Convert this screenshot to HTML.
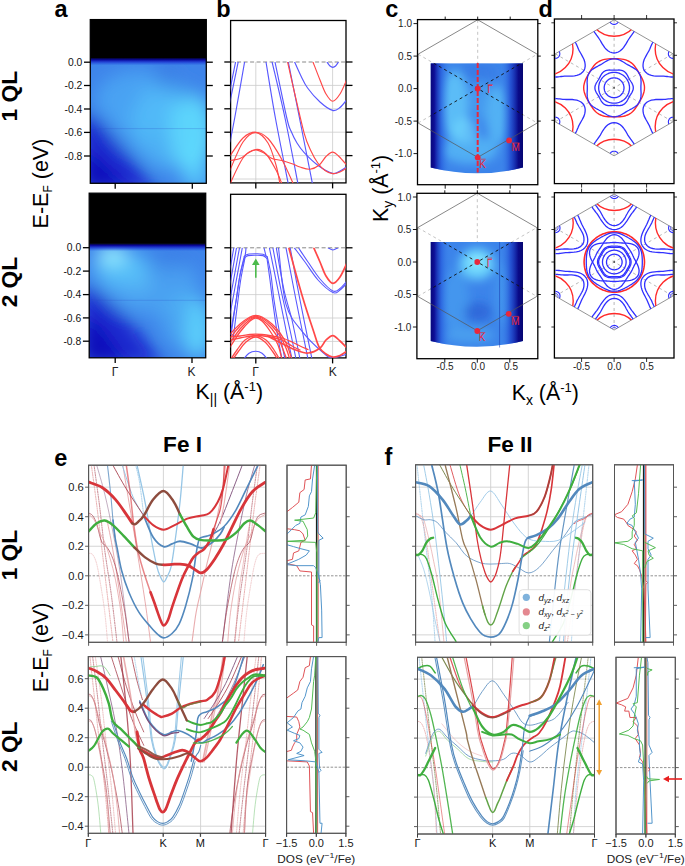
<!DOCTYPE html>
<html><head><meta charset="utf-8"><style>html,body{margin:0;padding:0;background:#fff;overflow:hidden}svg{display:block}text{font-family:"Liberation Sans",sans-serif}</style></head>
<body><svg width="685" height="866" viewBox="0 0 685 866" font-family='"Liberation Sans", sans-serif'><defs><filter id="blur8" x="-50%" y="-50%" width="200%" height="200%"><feGaussianBlur stdDeviation="9"/></filter><filter id="blur5" x="-50%" y="-50%" width="200%" height="200%"><feGaussianBlur stdDeviation="5"/></filter><clipPath id="clipa1"><rect x="90.3" y="19.6" width="116.00000000000001" height="163.70000000000002"/></clipPath><linearGradient id="ef1" x1="0" y1="0" x2="0" y2="1"><stop offset="0" stop-color="#000010"/><stop offset="0.3" stop-color="#0a0aa0"/><stop offset="0.6" stop-color="#1a30d0" stop-opacity="0.7"/><stop offset="1" stop-color="#2050e0" stop-opacity="0"/></linearGradient><clipPath id="clipa2"><rect x="89.2" y="193.2" width="116.49999999999999" height="164.60000000000002"/></clipPath><linearGradient id="ef2" x1="0" y1="0" x2="0" y2="1"><stop offset="0" stop-color="#000010"/><stop offset="0.3" stop-color="#0a0aa0"/><stop offset="0.6" stop-color="#1a30d0" stop-opacity="0.7"/><stop offset="1" stop-color="#2050e0" stop-opacity="0"/></linearGradient><clipPath id="clipb1"><rect x="230.6" y="62" width="115.4" height="120.9"/></clipPath><clipPath id="clipb2"><rect x="230.6" y="247.8" width="115.4" height="110.1"/></clipPath><clipPath id="clipc1"><path d="M430.5,63.199999999999996 L523,63.199999999999996 L523,167.6 Q476.75,179.1 430.5,167.6 Z"/></clipPath><linearGradient id="cg1" x1="0" y1="0" x2="1" y2="0"><stop offset="0" stop-color="#08087a"/><stop offset="0.04" stop-color="#0e0e96"/><stop offset="0.12" stop-color="#2050d8" stop-opacity="0.55"/><stop offset="0.22" stop-color="#3f8ef0" stop-opacity="0"/><stop offset="0.75" stop-color="#3f8ef0" stop-opacity="0"/><stop offset="0.86" stop-color="#1838c8" stop-opacity="0.6"/><stop offset="0.95" stop-color="#0a0a88"/><stop offset="1" stop-color="#060670"/></linearGradient><clipPath id="clipc2"><path d="M430.5,242 L523,242 L523,341 Q476.75,352.5 430.5,341 Z"/></clipPath><linearGradient id="cg2" x1="0" y1="0" x2="1" y2="0"><stop offset="0" stop-color="#08087a"/><stop offset="0.04" stop-color="#0e0e96"/><stop offset="0.12" stop-color="#2050d8" stop-opacity="0.55"/><stop offset="0.22" stop-color="#3f8ef0" stop-opacity="0"/><stop offset="0.75" stop-color="#3f8ef0" stop-opacity="0"/><stop offset="0.86" stop-color="#1838c8" stop-opacity="0.6"/><stop offset="0.95" stop-color="#0a0a88"/><stop offset="1" stop-color="#060670"/></linearGradient><clipPath id="cliphex1"><polygon points="614.10,19.80 555.21,53.80 555.21,121.80 614.10,155.80 672.99,121.80 672.99,53.80"/></clipPath><clipPath id="cliphex2"><polygon points="614.30,194.00 555.41,228.00 555.41,296.00 614.30,330.00 673.19,296.00 673.19,228.00"/></clipPath><clipPath id="clipband14"><rect x="88.6" y="465.2" width="177.20000000000002" height="177.09999999999997"/></clipPath><clipPath id="clipband15"><rect x="88.3" y="656.6" width="177.3" height="176.69999999999993"/></clipPath><clipPath id="clipband16"><rect x="415.6" y="464.8" width="177.10000000000002" height="177.40000000000003"/></clipPath><clipPath id="clipband17"><rect x="417.5" y="657.3" width="177.0" height="176.70000000000005"/></clipPath><clipPath id="clipdos18"><rect x="287" y="465.2" width="59.19999999999999" height="177.09999999999997"/></clipPath><clipPath id="clipdos19"><rect x="286.6" y="656.6" width="59.299999999999955" height="176.69999999999993"/></clipPath><clipPath id="clipdos20"><rect x="614.5" y="464.8" width="59.0" height="177.40000000000003"/></clipPath><clipPath id="clipdos21"><rect x="616" y="657.3" width="59.299999999999955" height="176.70000000000005"/></clipPath></defs><rect width="685" height="866" fill="#fff"/><g clip-path="url(#clipa1)"><rect x="90.30" y="19.60" width="116.00" height="163.70" fill="#3e84ea" stroke="none" stroke-width="1" /><g filter="url(#blur8)"><ellipse cx="140" cy="100" rx="45" ry="30" fill="#4eacf5" fill-opacity="0.75"/><ellipse cx="135" cy="132" rx="28" ry="18" fill="#4cacf4" fill-opacity="0.5"/><ellipse cx="190" cy="132" rx="22" ry="40" fill="#66eaff" fill-opacity="0.95"/><ellipse cx="168" cy="125" rx="36" ry="45" fill="#55c8fa" fill-opacity="0.6"/><ellipse cx="196" cy="176" rx="14" ry="16" fill="#5cd8ff" fill-opacity="0.7"/><polygon points="80,112 100,120 125,150 160,192 80,192" fill="#1a1ccc" fill-opacity="0.9"/><polygon points="80,150 100,160 130,192 80,192" fill="#0e0ab8" fill-opacity="0.9"/><ellipse cx="166" cy="78" rx="12" ry="14" fill="#3068dc" fill-opacity="0.45"/><ellipse cx="185" cy="92" rx="10" ry="10" fill="#3472e0" fill-opacity="0.4"/></g><rect x="90.30" y="57.50" width="116.00" height="8.00" fill="url(#ef1)" stroke="none" stroke-width="1" /><rect x="90.30" y="19.60" width="116.00" height="38.40" fill="#000" stroke="none" stroke-width="1" /><line x1="90.30" y1="128.60" x2="206.30" y2="128.60" stroke="#2a50c8" stroke-width="0.7" stroke-opacity="0.35"/></g><rect x="90.30" y="19.60" width="116.00" height="163.70" fill="none" stroke="#000" stroke-width="1.3" /><g clip-path="url(#clipa2)"><rect x="89.20" y="193.20" width="116.50" height="164.60" fill="#3e84ea" stroke="none" stroke-width="1" /><g filter="url(#blur8)"><ellipse cx="150" cy="285" rx="50" ry="30" fill="#4eacf5" fill-opacity="0.65"/><ellipse cx="120" cy="268" rx="28" ry="18" fill="#5ccafb" fill-opacity="0.75"/><ellipse cx="112" cy="255" rx="15" ry="9" fill="#a0f8ff" fill-opacity="0.95"/><ellipse cx="140" cy="285" rx="14" ry="10" fill="#5cc4fa" fill-opacity="0.5"/><polygon points="80,285 100,292 130,320 165,366 80,366" fill="#1a1ccc" fill-opacity="0.9"/><polygon points="80,318 100,326 128,366 80,366" fill="#0e0ab8" fill-opacity="0.9"/><ellipse cx="197" cy="328" rx="14" ry="30" fill="#64e2ff" fill-opacity="0.9"/><ellipse cx="182" cy="320" rx="22" ry="28" fill="#52bdf8" fill-opacity="0.5"/><ellipse cx="168" cy="260" rx="22" ry="10" fill="#3572e2" fill-opacity="0.5"/></g><rect x="89.20" y="243.20" width="116.50" height="8.00" fill="url(#ef2)" stroke="none" stroke-width="1" /><rect x="89.20" y="193.20" width="116.50" height="50.50" fill="#000" stroke="none" stroke-width="1" /><line x1="89.20" y1="300.30" x2="205.70" y2="300.30" stroke="#2a50c8" stroke-width="0.7" stroke-opacity="0.35"/></g><rect x="89.20" y="193.20" width="116.50" height="164.60" fill="none" stroke="#000" stroke-width="1.3" /><line x1="84.00" y1="62.20" x2="90.30" y2="62.20" stroke="#000" stroke-width="1.3"/><line x1="206.30" y1="62.20" x2="212.80" y2="62.20" stroke="#000" stroke-width="1.3"/><text x="82.3" y="65.9" font-size="10.3" font-weight="normal" text-anchor="end" fill="#111" >0.0</text><line x1="84.00" y1="85.50" x2="90.30" y2="85.50" stroke="#000" stroke-width="1.3"/><line x1="206.30" y1="85.50" x2="212.80" y2="85.50" stroke="#000" stroke-width="1.3"/><text x="82.3" y="89.2" font-size="10.3" font-weight="normal" text-anchor="end" fill="#111" >-0.2</text><line x1="84.00" y1="109.00" x2="90.30" y2="109.00" stroke="#000" stroke-width="1.3"/><line x1="206.30" y1="109.00" x2="212.80" y2="109.00" stroke="#000" stroke-width="1.3"/><text x="82.3" y="112.7" font-size="10.3" font-weight="normal" text-anchor="end" fill="#111" >-0.4</text><line x1="84.00" y1="132.40" x2="90.30" y2="132.40" stroke="#000" stroke-width="1.3"/><line x1="206.30" y1="132.40" x2="212.80" y2="132.40" stroke="#000" stroke-width="1.3"/><text x="82.3" y="136.1" font-size="10.3" font-weight="normal" text-anchor="end" fill="#111" >-0.6</text><line x1="84.00" y1="156.00" x2="90.30" y2="156.00" stroke="#000" stroke-width="1.3"/><line x1="206.30" y1="156.00" x2="212.80" y2="156.00" stroke="#000" stroke-width="1.3"/><text x="82.3" y="159.7" font-size="10.3" font-weight="normal" text-anchor="end" fill="#111" >-0.8</text><line x1="82.90" y1="247.70" x2="89.20" y2="247.70" stroke="#000" stroke-width="1.3"/><line x1="205.70" y1="247.70" x2="212.20" y2="247.70" stroke="#000" stroke-width="1.3"/><text x="81.2" y="251.39999999999998" font-size="10.3" font-weight="normal" text-anchor="end" fill="#111" >0.0</text><line x1="82.90" y1="271.10" x2="89.20" y2="271.10" stroke="#000" stroke-width="1.3"/><line x1="205.70" y1="271.10" x2="212.20" y2="271.10" stroke="#000" stroke-width="1.3"/><text x="81.2" y="274.8" font-size="10.3" font-weight="normal" text-anchor="end" fill="#111" >-0.2</text><line x1="82.90" y1="294.60" x2="89.20" y2="294.60" stroke="#000" stroke-width="1.3"/><line x1="205.70" y1="294.60" x2="212.20" y2="294.60" stroke="#000" stroke-width="1.3"/><text x="81.2" y="298.3" font-size="10.3" font-weight="normal" text-anchor="end" fill="#111" >-0.4</text><line x1="82.90" y1="317.90" x2="89.20" y2="317.90" stroke="#000" stroke-width="1.3"/><line x1="205.70" y1="317.90" x2="212.20" y2="317.90" stroke="#000" stroke-width="1.3"/><text x="81.2" y="321.59999999999997" font-size="10.3" font-weight="normal" text-anchor="end" fill="#111" >-0.6</text><line x1="82.90" y1="341.20" x2="89.20" y2="341.20" stroke="#000" stroke-width="1.3"/><line x1="205.70" y1="341.20" x2="212.20" y2="341.20" stroke="#000" stroke-width="1.3"/><text x="81.2" y="344.9" font-size="10.3" font-weight="normal" text-anchor="end" fill="#111" >-0.8</text><line x1="115.20" y1="183.30" x2="115.20" y2="188.80" stroke="#000" stroke-width="1.3"/><line x1="192.30" y1="183.30" x2="192.30" y2="188.80" stroke="#000" stroke-width="1.3"/><line x1="115.20" y1="357.80" x2="115.20" y2="363.00" stroke="#000" stroke-width="1.3"/><line x1="192.00" y1="357.80" x2="192.00" y2="363.00" stroke="#000" stroke-width="1.3"/><text x="115" y="376" font-size="12" font-weight="normal" text-anchor="middle" fill="#222" >Γ</text><text x="191.5" y="376" font-size="12" font-weight="normal" text-anchor="middle" fill="#222" >K</text><rect x="230.60" y="20.50" width="115.40" height="162.40" fill="#fff" stroke="none" stroke-width="1" /><line x1="230.60" y1="85.40" x2="346.00" y2="85.40" stroke="#ccc" stroke-width="0.8"/><line x1="230.60" y1="108.80" x2="346.00" y2="108.80" stroke="#ccc" stroke-width="0.8"/><line x1="230.60" y1="132.20" x2="346.00" y2="132.20" stroke="#ccc" stroke-width="0.8"/><line x1="230.60" y1="155.60" x2="346.00" y2="155.60" stroke="#ccc" stroke-width="0.8"/><line x1="230.60" y1="179.00" x2="346.00" y2="179.00" stroke="#ccc" stroke-width="0.8"/><line x1="255.80" y1="62.00" x2="255.80" y2="182.90" stroke="#ccc" stroke-width="0.8"/><line x1="332.60" y1="62.00" x2="332.60" y2="182.90" stroke="#ccc" stroke-width="0.8"/><line x1="230.60" y1="62.00" x2="346.00" y2="62.00" stroke="#888" stroke-width="1" stroke-dasharray="4,2.5"/><line x1="224.30" y1="62.00" x2="230.60" y2="62.00" stroke="#000" stroke-width="1.3"/><line x1="346.00" y1="62.00" x2="352.50" y2="62.00" stroke="#000" stroke-width="1.3"/><line x1="224.30" y1="85.40" x2="230.60" y2="85.40" stroke="#000" stroke-width="1.3"/><line x1="346.00" y1="85.40" x2="352.50" y2="85.40" stroke="#000" stroke-width="1.3"/><line x1="224.30" y1="108.80" x2="230.60" y2="108.80" stroke="#000" stroke-width="1.3"/><line x1="346.00" y1="108.80" x2="352.50" y2="108.80" stroke="#000" stroke-width="1.3"/><line x1="224.30" y1="132.20" x2="230.60" y2="132.20" stroke="#000" stroke-width="1.3"/><line x1="346.00" y1="132.20" x2="352.50" y2="132.20" stroke="#000" stroke-width="1.3"/><line x1="224.30" y1="155.60" x2="230.60" y2="155.60" stroke="#000" stroke-width="1.3"/><line x1="346.00" y1="155.60" x2="352.50" y2="155.60" stroke="#000" stroke-width="1.3"/><line x1="255.80" y1="182.90" x2="255.80" y2="188.40" stroke="#000" stroke-width="1.3"/><line x1="332.60" y1="182.90" x2="332.60" y2="188.40" stroke="#000" stroke-width="1.3"/><rect x="230.60" y="20.50" width="115.40" height="162.40" fill="none" stroke="#000" stroke-width="1.3" /><rect x="230.60" y="194.30" width="115.40" height="163.60" fill="#fff" stroke="none" stroke-width="1" /><line x1="230.60" y1="271.20" x2="346.00" y2="271.20" stroke="#ccc" stroke-width="0.8"/><line x1="230.60" y1="294.60" x2="346.00" y2="294.60" stroke="#ccc" stroke-width="0.8"/><line x1="230.60" y1="318.00" x2="346.00" y2="318.00" stroke="#ccc" stroke-width="0.8"/><line x1="230.60" y1="341.40" x2="346.00" y2="341.40" stroke="#ccc" stroke-width="0.8"/><line x1="255.80" y1="247.80" x2="255.80" y2="357.90" stroke="#ccc" stroke-width="0.8"/><line x1="332.60" y1="247.80" x2="332.60" y2="357.90" stroke="#ccc" stroke-width="0.8"/><line x1="230.60" y1="247.80" x2="346.00" y2="247.80" stroke="#888" stroke-width="1" stroke-dasharray="4,2.5"/><line x1="224.30" y1="247.80" x2="230.60" y2="247.80" stroke="#000" stroke-width="1.3"/><line x1="346.00" y1="247.80" x2="352.50" y2="247.80" stroke="#000" stroke-width="1.3"/><line x1="224.30" y1="271.20" x2="230.60" y2="271.20" stroke="#000" stroke-width="1.3"/><line x1="346.00" y1="271.20" x2="352.50" y2="271.20" stroke="#000" stroke-width="1.3"/><line x1="224.30" y1="294.60" x2="230.60" y2="294.60" stroke="#000" stroke-width="1.3"/><line x1="346.00" y1="294.60" x2="352.50" y2="294.60" stroke="#000" stroke-width="1.3"/><line x1="224.30" y1="318.00" x2="230.60" y2="318.00" stroke="#000" stroke-width="1.3"/><line x1="346.00" y1="318.00" x2="352.50" y2="318.00" stroke="#000" stroke-width="1.3"/><line x1="224.30" y1="341.40" x2="230.60" y2="341.40" stroke="#000" stroke-width="1.3"/><line x1="346.00" y1="341.40" x2="352.50" y2="341.40" stroke="#000" stroke-width="1.3"/><line x1="255.80" y1="357.90" x2="255.80" y2="363.40" stroke="#000" stroke-width="1.3"/><line x1="332.60" y1="357.90" x2="332.60" y2="363.40" stroke="#000" stroke-width="1.3"/><rect x="230.60" y="194.30" width="115.40" height="163.60" fill="none" stroke="#000" stroke-width="1.3" /><g clip-path="url(#clipb1)"><path d="M229.00,94.50 L235.60,62.00" fill="none" stroke="#5858ff" stroke-width="1.15" stroke-linecap="round" /><path d="M229.00,106.50 L238.20,62.00" fill="none" stroke="#5858ff" stroke-width="1.15" stroke-linecap="round" /><path d="M230.00,142.00 C230.78,138.00 232.27,131.33 234.70,118.00 C237.13,104.67 242.95,71.33 244.60,62.00" fill="none" stroke="#5858ff" stroke-width="1.15" stroke-linecap="round" /><path d="M266.00,62.00 C267.57,71.33 271.68,97.67 275.40,118.00 C279.12,138.33 286.15,173.00 288.30,184.00" fill="none" stroke="#5858ff" stroke-width="1.15" stroke-linecap="round" /><path d="M272.10,62.00 C274.25,71.33 280.68,97.67 285.00,118.00 C289.32,138.33 295.83,173.00 298.00,184.00" fill="none" stroke="#5858ff" stroke-width="1.15" stroke-linecap="round" /><path d="M275.00,62.00 C276.97,71.33 284.13,106.50 286.80,118.00 C289.47,129.50 289.30,126.83 291.00,131.00 C292.70,135.17 294.80,139.40 297.00,143.00 C299.20,146.60 300.73,148.90 304.20,152.60 C307.67,156.30 313.07,161.73 317.80,165.20 C322.53,168.67 328.90,172.43 332.60,173.40 C336.30,174.37 337.60,172.15 340.00,171.00 C342.40,169.85 345.83,167.25 347.00,166.50" fill="none" stroke="#5858ff" stroke-width="1.15" stroke-linecap="round" /><path d="M288.30,62.00 C289.62,68.57 292.17,81.07 296.20,101.40 C300.23,121.73 309.78,170.23 312.50,184.00" fill="none" stroke="#5858ff" stroke-width="1.15" stroke-linecap="round" /><path d="M294.60,62.00 C295.58,64.17 298.33,70.67 300.50,75.00 C302.67,79.33 304.35,83.50 307.60,88.00 C310.85,92.50 315.83,98.27 320.00,102.00 C324.17,105.73 329.27,109.48 332.60,110.40 C335.93,111.32 337.60,109.32 340.00,107.50 C342.40,105.68 345.83,100.83 347.00,99.50" fill="none" stroke="#5858ff" stroke-width="1.15" stroke-linecap="round" /><path d="M327.00,62.00 C327.50,62.67 329.03,65.12 330.00,66.00 C330.97,66.88 331.87,67.30 332.80,67.30 C333.73,67.30 334.67,66.88 335.60,66.00 C336.53,65.12 337.93,62.67 338.40,62.00" fill="none" stroke="#5858ff" stroke-width="1.15" stroke-linecap="round" /><path d="M287.60,62.00 C288.65,66.67 291.13,78.12 293.90,90.00 C296.67,101.88 301.35,123.13 304.20,133.30 C307.05,143.47 308.73,146.05 311.00,151.00 C313.27,155.95 315.47,159.75 317.80,163.00 C320.13,166.25 322.53,168.73 325.00,170.50 C327.47,172.27 330.10,173.35 332.60,173.60 C335.10,173.85 337.60,173.02 340.00,172.00 C342.40,170.98 345.83,168.25 347.00,167.50" fill="none" stroke="#ff4848" stroke-width="1.15" stroke-linecap="round" /><path d="M313.00,62.00 C314.17,65.00 317.83,74.67 320.00,80.00 C322.17,85.33 323.90,90.47 326.00,94.00 C328.10,97.53 330.27,101.20 332.60,101.20 C334.93,101.20 337.60,97.70 340.00,94.00 C342.40,90.30 345.83,81.50 347.00,79.00" fill="none" stroke="#ff4848" stroke-width="1.15" stroke-linecap="round" /><path d="M229.00,157.50 C231.33,154.25 238.53,142.22 243.00,138.00 C247.47,133.78 251.63,132.12 255.80,132.20 C259.97,132.28 263.63,133.92 268.00,138.50 C272.37,143.08 277.77,152.12 282.00,159.70 C286.23,167.28 291.50,179.95 293.40,184.00" fill="none" stroke="#ff4848" stroke-width="1.15" stroke-linecap="round" /><path d="M229.00,172.50 C231.33,167.42 238.53,148.65 243.00,142.00 C247.47,135.35 251.63,132.43 255.80,132.60 C259.97,132.77 264.63,137.60 268.00,143.00 C271.37,148.40 274.00,158.17 276.00,165.00 C278.00,171.83 279.33,180.83 280.00,184.00" fill="none" stroke="#ff4848" stroke-width="1.15" stroke-linecap="round" /><path d="M229.00,186.00 C231.33,181.33 238.53,164.08 243.00,158.00 C247.47,151.92 251.97,150.17 255.80,149.50 C259.63,148.83 262.63,150.58 266.00,154.00 C269.37,157.42 273.33,165.00 276.00,170.00 C278.67,175.00 281.00,181.67 282.00,184.00" fill="none" stroke="#ff4848" stroke-width="1.15" stroke-linecap="round" /><path d="M229.00,160.70 C230.83,160.33 236.83,159.78 240.00,158.50 C243.17,157.22 245.37,154.45 248.00,153.00 C250.63,151.55 253.13,149.80 255.80,149.80 C258.47,149.80 261.30,151.55 264.00,153.00 C266.70,154.45 269.00,157.25 272.00,158.50 C275.00,159.75 278.53,159.58 282.00,160.50 C285.47,161.42 289.80,162.92 292.80,164.00 C295.80,165.08 297.15,166.13 300.00,167.00 C302.85,167.87 306.73,169.50 309.90,169.20 C313.07,168.90 316.32,167.32 319.00,165.20 C321.68,163.08 323.73,158.68 326.00,156.50 C328.27,154.32 330.43,152.10 332.60,152.10 C334.77,152.10 336.60,154.27 339.00,156.50 C341.40,158.73 345.67,164.00 347.00,165.50" fill="none" stroke="#ff4848" stroke-width="1.15" stroke-linecap="round" /></g><g clip-path="url(#clipb2)"><path d="M233.80,247.80 L229.00,275.00" fill="none" stroke="#5858ff" stroke-width="1.1" stroke-linecap="round" /><path d="M236.50,247.80 L229.00,290.00" fill="none" stroke="#5858ff" stroke-width="1.1" stroke-linecap="round" /><path d="M239.50,247.80 L229.00,305.00" fill="none" stroke="#5858ff" stroke-width="1.1" stroke-linecap="round" /><path d="M242.30,247.80 L229.00,320.00" fill="none" stroke="#5858ff" stroke-width="1.1" stroke-linecap="round" /><path d="M246.00,247.80 C245.83,249.17 246.00,251.47 245.00,256.00 C244.00,260.53 241.47,267.67 240.00,275.00 C238.53,282.33 237.70,290.83 236.20,300.00 C234.70,309.17 231.87,325.00 231.00,330.00" fill="none" stroke="#5858ff" stroke-width="1.1" stroke-linecap="round" /><path d="M244.30,256.30 C244.92,255.95 246.08,254.62 248.00,254.20 C249.92,253.78 253.30,253.80 255.80,253.80 C258.30,253.80 261.08,253.68 263.00,254.20 C264.92,254.72 266.58,256.45 267.30,256.90" fill="none" stroke="#5858ff" stroke-width="1.1" stroke-linecap="round" /><path d="M244.60,258.00 C245.17,257.60 246.13,256.07 248.00,255.60 C249.87,255.13 253.30,255.20 255.80,255.20 C258.30,255.20 261.13,255.05 263.00,255.60 C264.87,256.15 266.33,258.02 267.00,258.50" fill="none" stroke="#5858ff" stroke-width="1.1" stroke-linecap="round" /><path d="M244.30,256.30 C243.58,259.42 241.35,267.72 240.00,275.00 C238.65,282.28 237.70,290.00 236.20,300.00 C234.70,310.00 231.87,329.17 231.00,335.00" fill="none" stroke="#5858ff" stroke-width="1.1" stroke-linecap="round" /><path d="M245.00,258.00 C244.33,261.33 242.17,271.00 241.00,278.00 C239.83,285.00 239.33,289.67 238.00,300.00 C236.67,310.33 233.83,333.33 233.00,340.00" fill="none" stroke="#5858ff" stroke-width="1.1" stroke-linecap="round" /><path d="M267.30,256.90 C267.92,259.92 269.88,267.82 271.00,275.00 C272.12,282.18 272.50,290.00 274.00,300.00 C275.50,310.00 278.17,325.17 280.00,335.00 C281.83,344.83 284.17,355.00 285.00,359.00" fill="none" stroke="#5858ff" stroke-width="1.1" stroke-linecap="round" /><path d="M267.00,258.50 C267.50,262.08 269.08,273.08 270.00,280.00 C270.92,286.92 271.25,290.83 272.50,300.00 C273.75,309.17 275.92,325.17 277.50,335.00 C279.08,344.83 281.25,355.00 282.00,359.00" fill="none" stroke="#5858ff" stroke-width="1.1" stroke-linecap="round" /><path d="M264.00,247.80 L266.00,256.00" fill="none" stroke="#5858ff" stroke-width="1.1" stroke-linecap="round" /><path d="M269.40,247.80 C270.83,254.83 275.23,276.30 278.00,290.00 C280.77,303.70 283.67,318.50 286.00,330.00 C288.33,341.50 291.00,354.17 292.00,359.00" fill="none" stroke="#5858ff" stroke-width="1.1" stroke-linecap="round" /><path d="M272.90,247.80 C274.25,254.83 278.15,276.30 281.00,290.00 C283.85,303.70 287.50,318.50 290.00,330.00 C292.50,341.50 295.00,354.17 296.00,359.00" fill="none" stroke="#5858ff" stroke-width="1.1" stroke-linecap="round" /><path d="M276.30,247.80 C277.58,254.83 281.38,277.97 284.00,290.00 C286.62,302.03 289.33,308.50 292.00,320.00 C294.67,331.50 298.67,352.50 300.00,359.00" fill="none" stroke="#5858ff" stroke-width="1.1" stroke-linecap="round" /><path d="M278.50,247.80 C279.75,257.23 281.97,290.35 286.00,304.40 C290.03,318.45 296.45,324.00 302.70,332.10 C308.95,340.20 318.47,348.72 323.50,353.00 C328.53,357.28 328.98,357.63 332.90,357.80 C336.82,357.97 344.65,354.63 347.00,354.00" fill="none" stroke="#5858ff" stroke-width="1.1" stroke-linecap="round" /><path d="M286.00,247.80 C287.67,256.50 292.33,281.47 296.00,300.00 C299.67,318.53 306.00,349.17 308.00,359.00" fill="none" stroke="#5858ff" stroke-width="1.1" stroke-linecap="round" /><path d="M290.20,247.80 C291.83,256.50 296.37,281.47 300.00,300.00 C303.63,318.53 310.00,349.17 312.00,359.00" fill="none" stroke="#5858ff" stroke-width="1.1" stroke-linecap="round" /><path d="M294.30,247.80 C296.08,250.17 301.05,256.63 305.00,262.00 C308.95,267.37 313.35,274.90 318.00,280.00 C322.65,285.10 329.23,290.93 332.90,292.60 C336.57,294.27 337.65,291.60 340.00,290.00 C342.35,288.40 345.83,284.17 347.00,283.00" fill="none" stroke="#5858ff" stroke-width="1.1" stroke-linecap="round" /><path d="M298.50,247.80 C300.08,250.17 304.42,256.80 308.00,262.00 C311.58,267.20 315.85,274.17 320.00,279.00 C324.15,283.83 329.57,289.42 332.90,291.00 C336.23,292.58 337.65,290.17 340.00,288.50 C342.35,286.83 345.83,282.25 347.00,281.00" fill="none" stroke="#5858ff" stroke-width="1.1" stroke-linecap="round" /><path d="M328.00,247.80 C328.82,248.17 331.23,250.00 332.90,250.00 C334.57,250.00 337.15,248.17 338.00,247.80" fill="none" stroke="#5858ff" stroke-width="1.1" stroke-linecap="round" /><path d="M288.80,247.80 C291.12,256.08 298.53,283.47 302.70,297.50 C306.87,311.53 311.03,323.68 313.80,332.00 C316.57,340.32 317.27,343.73 319.30,347.40 C321.33,351.07 323.73,352.40 326.00,354.00 C328.27,355.60 330.57,356.75 332.90,357.00 C335.23,357.25 337.65,356.50 340.00,355.50 C342.35,354.50 345.83,351.75 347.00,351.00" fill="none" stroke="#ff4848" stroke-width="1.7" stroke-linecap="round" /><path d="M313.80,247.80 C314.83,250.17 317.97,257.30 320.00,262.00 C322.03,266.70 323.85,272.45 326.00,276.00 C328.15,279.55 330.57,283.13 332.90,283.30 C335.23,283.47 337.65,280.38 340.00,277.00 C342.35,273.62 345.83,265.33 347.00,263.00" fill="none" stroke="#ff4848" stroke-width="1.7" stroke-linecap="round" /><path d="M268.00,336.30 C270.83,337.75 280.38,342.72 285.00,345.00 C289.62,347.28 291.83,348.67 295.70,350.00 C299.57,351.33 304.15,353.33 308.20,353.00 C312.25,352.67 317.03,350.17 320.00,348.00 C322.97,345.83 323.85,342.07 326.00,340.00 C328.15,337.93 330.57,335.43 332.90,335.60 C335.23,335.77 337.65,338.93 340.00,341.00 C342.35,343.07 345.83,346.83 347.00,348.00" fill="none" stroke="#ff4848" stroke-width="1.7" stroke-linecap="round" /><path d="M229.00,335.20 C230.83,333.33 236.50,327.03 240.00,324.00 C243.50,320.97 247.38,318.42 250.00,317.00 C252.62,315.58 253.70,315.50 255.70,315.50 C257.70,315.50 259.28,315.58 262.00,317.00 C264.72,318.42 269.00,321.33 272.00,324.00 C275.00,326.67 277.50,329.50 280.00,333.00 C282.50,336.50 285.00,340.50 287.00,345.00 C289.00,349.50 291.17,357.50 292.00,360.00" fill="none" stroke="#ff4848" stroke-width="1.3" stroke-linecap="round" /><path d="M229.00,339.40 C230.83,337.17 236.50,329.57 240.00,326.00 C243.50,322.43 247.38,319.62 250.00,318.00 C252.62,316.38 253.70,316.30 255.70,316.30 C257.70,316.30 259.28,316.38 262.00,318.00 C264.72,319.62 269.00,323.00 272.00,326.00 C275.00,329.00 277.67,332.33 280.00,336.00 C282.33,339.67 284.33,344.00 286.00,348.00 C287.67,352.00 289.33,358.00 290.00,360.00" fill="none" stroke="#ff4848" stroke-width="1.3" stroke-linecap="round" /><path d="M229.00,344.60 C230.83,342.00 236.50,333.18 240.00,329.00 C243.50,324.82 247.38,321.47 250.00,319.50 C252.62,317.53 253.70,317.20 255.70,317.20 C257.70,317.20 259.28,317.53 262.00,319.50 C264.72,321.47 269.17,325.58 272.00,329.00 C274.83,332.42 277.00,336.17 279.00,340.00 C281.00,343.83 282.67,348.67 284.00,352.00 C285.33,355.33 286.50,358.67 287.00,360.00" fill="none" stroke="#ff4848" stroke-width="1.3" stroke-linecap="round" /><path d="M229.00,348.70 C230.83,345.92 236.50,336.62 240.00,332.00 C243.50,327.38 247.38,323.33 250.00,321.00 C252.62,318.67 253.70,318.00 255.70,318.00 C257.70,318.00 259.62,318.83 262.00,321.00 C264.38,323.17 267.33,327.00 270.00,331.00 C272.67,335.00 276.00,340.17 278.00,345.00 C280.00,349.83 281.33,357.50 282.00,360.00" fill="none" stroke="#ff4848" stroke-width="1.3" stroke-linecap="round" /><path d="M229.00,337.00 C230.83,336.83 236.50,336.42 240.00,336.00 C243.50,335.58 247.38,334.80 250.00,334.50 C252.62,334.20 253.70,334.20 255.70,334.20 C257.70,334.20 259.28,334.20 262.00,334.50 C264.72,334.80 268.67,335.42 272.00,336.00 C275.33,336.58 278.67,337.00 282.00,338.00 C285.33,339.00 289.00,340.67 292.00,342.00 C295.00,343.33 297.33,344.75 300.00,346.00 C302.67,347.25 306.67,348.92 308.00,349.50" fill="none" stroke="#ff4848" stroke-width="1.3" stroke-linecap="round" /><path d="M229.00,340.00 C230.83,339.67 235.55,338.75 240.00,338.00 C244.45,337.25 250.70,335.67 255.70,335.50 C260.70,335.33 265.62,336.25 270.00,337.00 C274.38,337.75 278.33,338.50 282.00,340.00 C285.67,341.50 289.00,344.33 292.00,346.00 C295.00,347.67 298.67,349.33 300.00,350.00" fill="none" stroke="#ff4848" stroke-width="1.3" stroke-linecap="round" /><path d="M229.00,362.00 C230.33,360.00 234.33,353.67 237.00,350.00 C239.67,346.33 241.88,342.37 245.00,340.00 C248.12,337.63 252.20,335.80 255.70,335.80 C259.20,335.80 262.95,337.63 266.00,340.00 C269.05,342.37 271.67,346.67 274.00,350.00 C276.33,353.33 279.00,358.33 280.00,360.00" fill="none" stroke="#ff4848" stroke-width="1.3" stroke-linecap="round" /><path d="M229.00,365.00 C230.50,362.83 235.17,355.83 238.00,352.00 C240.83,348.17 243.05,344.50 246.00,342.00 C248.95,339.50 252.53,337.00 255.70,337.00 C258.87,337.00 262.12,339.50 265.00,342.00 C267.88,344.50 270.83,349.00 273.00,352.00 C275.17,355.00 277.17,358.67 278.00,360.00" fill="none" stroke="#ff4848" stroke-width="1.3" stroke-linecap="round" /><path d="M243.00,360.00 C244.00,358.87 246.88,354.65 249.00,353.20 C251.12,351.75 253.53,351.30 255.70,351.30 C257.87,351.30 259.95,351.75 262.00,353.20 C264.05,354.65 267.00,358.87 268.00,360.00" fill="none" stroke="#5858ff" stroke-width="1.1" stroke-linecap="round" /></g><line x1="255.80" y1="277.80" x2="255.80" y2="264.00" stroke="#4cbb4c" stroke-width="1.6"/><path d="M252,265 L255.8,258.6 L259.6,265 Z" fill="#4cbb4c"/><text x="255.6" y="376" font-size="12" font-weight="normal" text-anchor="middle" fill="#222" >Γ</text><text x="332.7" y="376" font-size="12" font-weight="normal" text-anchor="middle" fill="#222" >K</text><rect x="417.50" y="19.60" width="120.30" height="165.10" fill="#fff" stroke="none" stroke-width="1" /><line x1="477.70" y1="19.80" x2="477.70" y2="63.20" stroke="#aaa" stroke-width="0.7" stroke-dasharray="3,3"/><line x1="418.12" y1="54.20" x2="537.28" y2="123.00" stroke="#aaa" stroke-width="0.7" stroke-dasharray="3,3"/><line x1="418.12" y1="123.00" x2="537.28" y2="54.20" stroke="#aaa" stroke-width="0.7" stroke-dasharray="3,3"/><g clip-path="url(#clipc1)"><rect x="430.50" y="63.20" width="92.50" height="119.90" fill="#3c84ea" stroke="none" stroke-width="1" /><g filter="url(#blur5)"><ellipse cx="455" cy="105" rx="14" ry="35" fill="#62cafa" fill-opacity="0.8"/><ellipse cx="497" cy="115" rx="11" ry="30" fill="#5cc4f8" fill-opacity="0.7"/><ellipse cx="470" cy="150" rx="28" ry="14" fill="#5ac0f8" fill-opacity="0.7"/><ellipse cx="478" cy="72" rx="18" ry="9" fill="#3070e0" fill-opacity="0.4"/><ellipse cx="465" cy="130" rx="12" ry="12" fill="#74dcff" fill-opacity="0.6"/><ellipse cx="481" cy="100" rx="10" ry="20" fill="#50b0f4" fill-opacity="0.5"/></g><rect x="430.50" y="63.20" width="92.50" height="119.90" fill="url(#cg1)" stroke="none" stroke-width="1" /><line x1="418.12" y1="54.20" x2="537.28" y2="123.00" stroke="#111" stroke-width="0.9" stroke-dasharray="3,3"/><line x1="418.12" y1="123.00" x2="537.28" y2="54.20" stroke="#111" stroke-width="0.9" stroke-dasharray="3,3"/></g><polyline points="477.70,19.80 418.12,54.20 418.12,123.00 477.70,157.40 537.28,123.00 537.28,54.20 477.70,19.80" fill="none" stroke="#555" stroke-width="0.7" stroke-linejoin="round" stroke-linecap="round" /><rect x="417.50" y="19.60" width="120.30" height="165.10" fill="none" stroke="#000" stroke-width="1.3" /><line x1="413.50" y1="23.60" x2="417.50" y2="23.60" stroke="#000" stroke-width="0.9"/><line x1="537.80" y1="23.60" x2="540.80" y2="23.60" stroke="#000" stroke-width="0.9"/><text x="412.0" y="27.199999999999996" font-size="10" font-weight="normal" text-anchor="end" fill="#222" >1.0</text><line x1="413.50" y1="56.10" x2="417.50" y2="56.10" stroke="#000" stroke-width="0.9"/><line x1="537.80" y1="56.10" x2="540.80" y2="56.10" stroke="#000" stroke-width="0.9"/><text x="412.0" y="59.699999999999996" font-size="10" font-weight="normal" text-anchor="end" fill="#222" >0.5</text><line x1="413.50" y1="88.60" x2="417.50" y2="88.60" stroke="#000" stroke-width="0.9"/><line x1="537.80" y1="88.60" x2="540.80" y2="88.60" stroke="#000" stroke-width="0.9"/><text x="412.0" y="92.19999999999999" font-size="10" font-weight="normal" text-anchor="end" fill="#222" >0.0</text><line x1="413.50" y1="121.10" x2="417.50" y2="121.10" stroke="#000" stroke-width="0.9"/><line x1="537.80" y1="121.10" x2="540.80" y2="121.10" stroke="#000" stroke-width="0.9"/><text x="412.0" y="124.69999999999999" font-size="10" font-weight="normal" text-anchor="end" fill="#222" >-0.5</text><line x1="413.50" y1="153.60" x2="417.50" y2="153.60" stroke="#000" stroke-width="0.9"/><line x1="537.80" y1="153.60" x2="540.80" y2="153.60" stroke="#000" stroke-width="0.9"/><text x="412.0" y="157.2" font-size="10" font-weight="normal" text-anchor="end" fill="#222" >-1.0</text><line x1="445.20" y1="184.70" x2="445.20" y2="188.70" stroke="#000" stroke-width="0.9"/><line x1="445.20" y1="16.60" x2="445.20" y2="19.60" stroke="#000" stroke-width="0.9"/><line x1="477.70" y1="184.70" x2="477.70" y2="188.70" stroke="#000" stroke-width="0.9"/><line x1="477.70" y1="16.60" x2="477.70" y2="19.60" stroke="#000" stroke-width="0.9"/><line x1="510.20" y1="184.70" x2="510.20" y2="188.70" stroke="#000" stroke-width="0.9"/><line x1="510.20" y1="16.60" x2="510.20" y2="19.60" stroke="#000" stroke-width="0.9"/><rect x="416.90" y="193.30" width="120.90" height="165.40" fill="#fff" stroke="none" stroke-width="1" /><line x1="477.30" y1="193.20" x2="477.30" y2="242.00" stroke="#aaa" stroke-width="0.7" stroke-dasharray="3,3"/><line x1="417.72" y1="227.60" x2="536.88" y2="296.40" stroke="#aaa" stroke-width="0.7" stroke-dasharray="3,3"/><line x1="417.72" y1="296.40" x2="536.88" y2="227.60" stroke="#aaa" stroke-width="0.7" stroke-dasharray="3,3"/><g clip-path="url(#clipc2)"><rect x="430.50" y="242.00" width="92.50" height="114.50" fill="#3c84ea" stroke="none" stroke-width="1" /><g filter="url(#blur5)"><ellipse cx="477" cy="262" rx="9" ry="8" fill="#e0ffff" fill-opacity="0.95"/><ellipse cx="477" cy="264" rx="18" ry="16" fill="#70e0ff" fill-opacity="0.8"/><ellipse cx="455" cy="300" rx="14" ry="30" fill="#4aa8f2" fill-opacity="0.5"/><ellipse cx="505" cy="295" rx="10" ry="30" fill="#4aa8f2" fill-opacity="0.45"/><ellipse cx="478" cy="312" rx="14" ry="10" fill="#2858d0" fill-opacity="0.6"/><ellipse cx="470" cy="335" rx="25" ry="8" fill="#55b8f4" fill-opacity="0.5"/></g><rect x="430.50" y="242.00" width="92.50" height="114.50" fill="url(#cg2)" stroke="none" stroke-width="1" /><line x1="417.72" y1="227.60" x2="536.88" y2="296.40" stroke="#111" stroke-width="0.9" stroke-dasharray="3,3"/><line x1="417.72" y1="296.40" x2="536.88" y2="227.60" stroke="#111" stroke-width="0.9" stroke-dasharray="3,3"/></g><polyline points="477.30,193.20 417.72,227.60 417.72,296.40 477.30,330.80 536.88,296.40 536.88,227.60 477.30,193.20" fill="none" stroke="#555" stroke-width="0.7" stroke-linejoin="round" stroke-linecap="round" /><rect x="416.90" y="193.30" width="120.90" height="165.40" fill="none" stroke="#000" stroke-width="1.3" /><line x1="412.90" y1="197.00" x2="416.90" y2="197.00" stroke="#000" stroke-width="0.9"/><line x1="537.80" y1="197.00" x2="540.80" y2="197.00" stroke="#000" stroke-width="0.9"/><text x="411.4" y="200.6" font-size="10" font-weight="normal" text-anchor="end" fill="#222" >1.0</text><line x1="412.90" y1="229.50" x2="416.90" y2="229.50" stroke="#000" stroke-width="0.9"/><line x1="537.80" y1="229.50" x2="540.80" y2="229.50" stroke="#000" stroke-width="0.9"/><text x="411.4" y="233.1" font-size="10" font-weight="normal" text-anchor="end" fill="#222" >0.5</text><line x1="412.90" y1="262.00" x2="416.90" y2="262.00" stroke="#000" stroke-width="0.9"/><line x1="537.80" y1="262.00" x2="540.80" y2="262.00" stroke="#000" stroke-width="0.9"/><text x="411.4" y="265.6" font-size="10" font-weight="normal" text-anchor="end" fill="#222" >0.0</text><line x1="412.90" y1="294.50" x2="416.90" y2="294.50" stroke="#000" stroke-width="0.9"/><line x1="537.80" y1="294.50" x2="540.80" y2="294.50" stroke="#000" stroke-width="0.9"/><text x="411.4" y="298.1" font-size="10" font-weight="normal" text-anchor="end" fill="#222" >-0.5</text><line x1="412.90" y1="327.00" x2="416.90" y2="327.00" stroke="#000" stroke-width="0.9"/><line x1="537.80" y1="327.00" x2="540.80" y2="327.00" stroke="#000" stroke-width="0.9"/><text x="411.4" y="330.6" font-size="10" font-weight="normal" text-anchor="end" fill="#222" >-1.0</text><line x1="444.80" y1="358.70" x2="444.80" y2="362.70" stroke="#000" stroke-width="0.9"/><line x1="444.80" y1="190.30" x2="444.80" y2="193.30" stroke="#000" stroke-width="0.9"/><line x1="477.30" y1="358.70" x2="477.30" y2="362.70" stroke="#000" stroke-width="0.9"/><line x1="477.30" y1="190.30" x2="477.30" y2="193.30" stroke="#000" stroke-width="0.9"/><line x1="509.80" y1="358.70" x2="509.80" y2="362.70" stroke="#000" stroke-width="0.9"/><line x1="509.80" y1="190.30" x2="509.80" y2="193.30" stroke="#000" stroke-width="0.9"/><line x1="499.6" y1="242" x2="499.6" y2="347.5" stroke="#1838b0" stroke-width="0.7" stroke-opacity="0.8"/><line x1="477.70" y1="63.10" x2="477.70" y2="172.60" stroke="#e8283c" stroke-width="2" stroke-dasharray="5,2"/><circle cx="477.7" cy="88.6" r="2.9" fill="#e8283c"/><text x="487.2" y="93.1" font-size="10" font-weight="normal" text-anchor="start" fill="#e8283c" >Γ</text><line x1="487.50" y1="84.70" x2="492.50" y2="84.70" stroke="#e8283c" stroke-width="0.7"/><circle cx="477.7" cy="157.6" r="2.9" fill="#e8283c"/><text x="479.2" y="167.6" font-size="10" font-weight="normal" text-anchor="start" fill="#e8283c" >K</text><line x1="479.50" y1="159.20" x2="485.60" y2="159.20" stroke="#e8283c" stroke-width="0.7"/><circle cx="509.09999999999997" cy="140.39999999999998" r="2.9" fill="#e8283c"/><text x="511.5999999999999" y="151.39999999999998" font-size="10" font-weight="normal" text-anchor="start" fill="#e8283c" >M</text><line x1="511.90" y1="143.00" x2="519.60" y2="143.00" stroke="#e8283c" stroke-width="0.7"/><circle cx="477.3" cy="262" r="2.9" fill="#e8283c"/><text x="486.8" y="266.5" font-size="10" font-weight="normal" text-anchor="start" fill="#e8283c" >Γ</text><line x1="487.10" y1="258.10" x2="492.10" y2="258.10" stroke="#e8283c" stroke-width="0.7"/><circle cx="477.3" cy="331" r="2.9" fill="#e8283c"/><text x="478.8" y="341" font-size="10" font-weight="normal" text-anchor="start" fill="#e8283c" >K</text><line x1="479.10" y1="332.60" x2="485.20" y2="332.60" stroke="#e8283c" stroke-width="0.7"/><circle cx="508.7" cy="313.8" r="2.9" fill="#e8283c"/><text x="511.20000000000005" y="324.8" font-size="10" font-weight="normal" text-anchor="start" fill="#e8283c" >M</text><line x1="511.50" y1="316.40" x2="519.20" y2="316.40" stroke="#e8283c" stroke-width="0.7"/><text x="445" y="370" font-size="10" font-weight="normal" text-anchor="middle" fill="#222" >-0.5</text><text x="478" y="370" font-size="10" font-weight="normal" text-anchor="middle" fill="#222" >0.0</text><text x="511" y="370" font-size="10" font-weight="normal" text-anchor="middle" fill="#222" >0.5</text><rect x="554.40" y="19.00" width="119.60" height="164.60" fill="#fff" stroke="none" stroke-width="1" /><polyline points="614.10,19.80 555.21,53.80 555.21,121.80 614.10,155.80 672.99,121.80 672.99,53.80 614.10,19.80" fill="none" stroke="#666" stroke-width="0.7" stroke-linejoin="round" stroke-linecap="round" /><line x1="614.10" y1="19.80" x2="614.10" y2="155.80" stroke="#999" stroke-width="0.7" stroke-dasharray="3,3"/><line x1="555.21" y1="53.80" x2="672.99" y2="121.80" stroke="#999" stroke-width="0.7" stroke-dasharray="3,3"/><line x1="555.21" y1="121.80" x2="672.99" y2="53.80" stroke="#999" stroke-width="0.7" stroke-dasharray="3,3"/><rect x="554.40" y="19.00" width="119.60" height="164.60" fill="none" stroke="#000" stroke-width="1.3" /><line x1="551.40" y1="22.80" x2="554.40" y2="22.80" stroke="#000" stroke-width="0.8"/><line x1="674.00" y1="22.80" x2="677.00" y2="22.80" stroke="#000" stroke-width="0.8"/><line x1="551.40" y1="55.30" x2="554.40" y2="55.30" stroke="#000" stroke-width="0.8"/><line x1="674.00" y1="55.30" x2="677.00" y2="55.30" stroke="#000" stroke-width="0.8"/><line x1="551.40" y1="87.80" x2="554.40" y2="87.80" stroke="#000" stroke-width="0.8"/><line x1="674.00" y1="87.80" x2="677.00" y2="87.80" stroke="#000" stroke-width="0.8"/><line x1="551.40" y1="120.30" x2="554.40" y2="120.30" stroke="#000" stroke-width="0.8"/><line x1="674.00" y1="120.30" x2="677.00" y2="120.30" stroke="#000" stroke-width="0.8"/><line x1="551.40" y1="152.80" x2="554.40" y2="152.80" stroke="#000" stroke-width="0.8"/><line x1="674.00" y1="152.80" x2="677.00" y2="152.80" stroke="#000" stroke-width="0.8"/><line x1="581.60" y1="183.60" x2="581.60" y2="187.60" stroke="#000" stroke-width="0.8"/><line x1="581.60" y1="15.00" x2="581.60" y2="19.00" stroke="#000" stroke-width="0.8"/><line x1="614.10" y1="183.60" x2="614.10" y2="187.60" stroke="#000" stroke-width="0.8"/><line x1="614.10" y1="15.00" x2="614.10" y2="19.00" stroke="#000" stroke-width="0.8"/><line x1="646.60" y1="183.60" x2="646.60" y2="187.60" stroke="#000" stroke-width="0.8"/><line x1="646.60" y1="15.00" x2="646.60" y2="19.00" stroke="#000" stroke-width="0.8"/><rect x="554.40" y="192.70" width="119.60" height="165.30" fill="#fff" stroke="none" stroke-width="1" /><polyline points="614.10,194.00 555.21,228.00 555.21,296.00 614.10,330.00 672.99,296.00 672.99,228.00 614.10,194.00" fill="none" stroke="#666" stroke-width="0.7" stroke-linejoin="round" stroke-linecap="round" /><line x1="614.10" y1="194.00" x2="614.10" y2="330.00" stroke="#999" stroke-width="0.7" stroke-dasharray="3,3"/><line x1="555.21" y1="228.00" x2="672.99" y2="296.00" stroke="#999" stroke-width="0.7" stroke-dasharray="3,3"/><line x1="555.21" y1="296.00" x2="672.99" y2="228.00" stroke="#999" stroke-width="0.7" stroke-dasharray="3,3"/><rect x="554.40" y="192.70" width="119.60" height="165.30" fill="none" stroke="#000" stroke-width="1.3" /><line x1="551.40" y1="197.00" x2="554.40" y2="197.00" stroke="#000" stroke-width="0.8"/><line x1="674.00" y1="197.00" x2="677.00" y2="197.00" stroke="#000" stroke-width="0.8"/><line x1="551.40" y1="229.50" x2="554.40" y2="229.50" stroke="#000" stroke-width="0.8"/><line x1="674.00" y1="229.50" x2="677.00" y2="229.50" stroke="#000" stroke-width="0.8"/><line x1="551.40" y1="262.00" x2="554.40" y2="262.00" stroke="#000" stroke-width="0.8"/><line x1="674.00" y1="262.00" x2="677.00" y2="262.00" stroke="#000" stroke-width="0.8"/><line x1="551.40" y1="294.50" x2="554.40" y2="294.50" stroke="#000" stroke-width="0.8"/><line x1="674.00" y1="294.50" x2="677.00" y2="294.50" stroke="#000" stroke-width="0.8"/><line x1="551.40" y1="327.00" x2="554.40" y2="327.00" stroke="#000" stroke-width="0.8"/><line x1="674.00" y1="327.00" x2="677.00" y2="327.00" stroke="#000" stroke-width="0.8"/><line x1="581.60" y1="358.00" x2="581.60" y2="362.00" stroke="#000" stroke-width="0.8"/><line x1="581.60" y1="188.70" x2="581.60" y2="192.70" stroke="#000" stroke-width="0.8"/><line x1="614.10" y1="358.00" x2="614.10" y2="362.00" stroke="#000" stroke-width="0.8"/><line x1="614.10" y1="188.70" x2="614.10" y2="192.70" stroke="#000" stroke-width="0.8"/><line x1="646.60" y1="358.00" x2="646.60" y2="362.00" stroke="#000" stroke-width="0.8"/><line x1="646.60" y1="188.70" x2="646.60" y2="192.70" stroke="#000" stroke-width="0.8"/><g clip-path="url(#cliphex1)" fill="none" stroke-linejoin="round"><polyline points="644.5,87.8 644.4,85.8 644.0,83.9 643.5,82.0 642.8,80.1 642.0,78.3 641.1,76.6 640.2,75.0 639.2,73.3 638.3,71.7 637.3,70.0 636.2,68.4 635.1,66.8 633.9,65.3 632.5,63.8 631.0,62.6 629.3,61.5 627.5,60.6 625.7,59.9 623.7,59.4 621.8,59.1 619.8,58.9 617.9,58.8 616.0,58.8 614.1,58.8 612.2,58.8 610.3,58.8 608.4,58.9 606.4,59.1 604.5,59.4 602.5,59.9 600.7,60.6 598.9,61.5 597.2,62.6 595.7,63.8 594.3,65.3 593.1,66.8 592.0,68.4 590.9,70.0 589.9,71.7 589.0,73.3 588.0,75.0 587.1,76.6 586.2,78.3 585.4,80.1 584.7,82.0 584.2,83.9 583.8,85.8 583.7,87.8 583.8,89.8 584.2,91.7 584.7,93.6 585.4,95.5 586.2,97.3 587.1,99.0 588.0,100.6 589.0,102.3 589.9,103.9 590.9,105.6 592.0,107.2 593.1,108.8 594.3,110.3 595.7,111.8 597.2,113.0 598.9,114.1 600.7,115.0 602.5,115.7 604.5,116.2 606.4,116.5 608.4,116.7 610.3,116.8 612.2,116.8 614.1,116.8 616.0,116.8 617.9,116.8 619.8,116.7 621.8,116.5 623.7,116.2 625.7,115.7 627.5,115.0 629.3,114.1 631.0,113.0 632.5,111.8 633.9,110.3 635.1,108.8 636.2,107.2 637.3,105.6 638.3,103.9 639.2,102.3 640.2,100.6 641.1,99.0 642.0,97.3 642.8,95.5 643.5,93.6 644.0,91.7 644.4,89.8 644.5,87.8" stroke="#ff2a2a" stroke-width="1.4" fill="none"/><polyline points="640.9,87.8 640.9,86.0 641.0,84.3 641.1,82.4 641.0,80.6 640.9,78.7 640.6,76.8 640.0,75.0 639.2,73.3 638.1,71.7 636.9,70.3 635.4,69.1 633.8,68.1 632.2,67.1 630.6,66.3 629.0,65.4 627.5,64.6 626.0,63.7 624.5,62.7 622.9,61.8 621.3,60.9 619.6,60.0 617.8,59.4 616.0,58.9 614.1,58.8 612.2,58.9 610.4,59.4 608.6,60.0 606.9,60.9 605.3,61.8 603.7,62.7 602.2,63.7 600.7,64.6 599.2,65.4 597.6,66.3 596.0,67.1 594.4,68.1 592.8,69.1 591.3,70.3 590.1,71.7 589.0,73.3 588.2,75.0 587.6,76.8 587.3,78.7 587.2,80.6 587.1,82.4 587.2,84.3 587.3,86.0 587.3,87.8 587.3,89.6 587.2,91.3 587.1,93.2 587.2,95.0 587.3,96.9 587.6,98.8 588.2,100.6 589.0,102.3 590.1,103.9 591.3,105.3 592.8,106.5 594.4,107.5 596.0,108.5 597.6,109.3 599.2,110.2 600.7,111.0 602.2,111.9 603.7,112.9 605.3,113.8 606.9,114.7 608.6,115.6 610.4,116.2 612.2,116.7 614.1,116.8 616.0,116.7 617.8,116.2 619.6,115.6 621.3,114.7 622.9,113.8 624.5,112.9 626.0,111.9 627.5,111.0 629.0,110.2 630.6,109.3 632.2,108.5 633.8,107.5 635.4,106.5 636.9,105.3 638.1,103.9 639.2,102.3 640.0,100.6 640.6,98.8 640.9,96.9 641.0,95.0 641.1,93.2 641.0,91.3 640.9,89.6 640.9,87.8" stroke="#3030ff" stroke-width="1.3" fill="none"/><polyline points="633.3,87.8 633.2,86.5 632.9,85.3 632.4,84.2 631.9,83.0 631.2,82.0 630.6,81.0 629.9,80.0 629.3,79.0 628.8,78.0 628.2,76.9 627.7,75.9 627.1,74.8 626.4,73.7 625.6,72.8 624.7,71.9 623.7,71.2 622.6,70.6 621.4,70.3 620.1,70.1 618.9,70.0 617.6,70.1 616.4,70.1 615.3,70.2 614.1,70.2 612.9,70.2 611.8,70.1 610.6,70.1 609.3,70.0 608.1,70.1 606.8,70.3 605.6,70.6 604.5,71.2 603.5,71.9 602.6,72.8 601.8,73.7 601.1,74.8 600.5,75.9 600.0,76.9 599.4,78.0 598.9,79.0 598.3,80.0 597.6,81.0 597.0,82.0 596.3,83.0 595.8,84.2 595.3,85.3 595.0,86.5 594.9,87.8 595.0,89.1 595.3,90.3 595.8,91.4 596.3,92.6 597.0,93.6 597.6,94.6 598.3,95.6 598.9,96.6 599.4,97.6 600.0,98.7 600.5,99.7 601.1,100.8 601.8,101.9 602.6,102.8 603.5,103.7 604.5,104.4 605.6,105.0 606.8,105.3 608.1,105.5 609.3,105.6 610.6,105.5 611.8,105.5 612.9,105.4 614.1,105.4 615.3,105.4 616.4,105.5 617.6,105.5 618.9,105.6 620.1,105.5 621.4,105.3 622.6,105.0 623.7,104.4 624.7,103.7 625.6,102.8 626.4,101.9 627.1,100.8 627.7,99.7 628.2,98.7 628.8,97.6 629.3,96.6 629.9,95.6 630.6,94.6 631.2,93.6 631.9,92.6 632.4,91.4 632.9,90.3 633.2,89.1 633.3,87.8" stroke="#3030ff" stroke-width="1.3" fill="none"/><polyline points="629.5,87.8 629.5,86.8 629.4,85.8 629.2,84.8 629.0,83.8 628.7,82.8 628.3,81.9 627.9,81.0 627.4,80.1 626.9,79.2 626.3,78.4 625.7,77.6 625.0,76.9 624.3,76.2 623.5,75.6 622.7,75.0 621.8,74.5 620.9,74.0 620.0,73.6 619.1,73.2 618.1,72.9 617.1,72.7 616.1,72.5 615.1,72.4 614.1,72.4 613.1,72.4 612.1,72.5 611.1,72.7 610.1,72.9 609.1,73.2 608.2,73.6 607.3,74.0 606.4,74.5 605.5,75.0 604.7,75.6 603.9,76.2 603.2,76.9 602.5,77.6 601.9,78.4 601.3,79.2 600.8,80.1 600.3,81.0 599.9,81.9 599.5,82.8 599.2,83.8 599.0,84.8 598.8,85.8 598.7,86.8 598.7,87.8 598.7,88.8 598.8,89.8 599.0,90.8 599.2,91.8 599.5,92.8 599.9,93.7 600.3,94.6 600.8,95.5 601.3,96.4 601.9,97.2 602.5,98.0 603.2,98.7 603.9,99.4 604.7,100.0 605.5,100.6 606.4,101.1 607.3,101.6 608.2,102.0 609.1,102.4 610.1,102.7 611.1,102.9 612.1,103.1 613.1,103.2 614.1,103.2 615.1,103.2 616.1,103.1 617.1,102.9 618.1,102.7 619.1,102.4 620.0,102.0 620.9,101.6 621.8,101.1 622.7,100.6 623.5,100.0 624.3,99.4 625.0,98.7 625.7,98.0 626.3,97.2 626.9,96.4 627.4,95.5 627.9,94.6 628.3,93.7 628.7,92.8 629.0,91.8 629.2,90.8 629.4,89.8 629.5,88.8 629.5,87.8" stroke="#3030ff" stroke-width="1.3" fill="none"/><polyline points="624.0,87.8 624.0,87.2 623.9,86.5 623.8,85.9 623.7,85.2 623.5,84.6 623.2,84.0 623.0,83.4 622.7,82.8 622.3,82.3 622.0,81.8 621.5,81.3 621.1,80.8 620.6,80.4 620.1,79.9 619.6,79.6 619.1,79.2 618.5,78.9 617.9,78.7 617.3,78.4 616.7,78.2 616.0,78.1 615.4,78.0 614.7,77.9 614.1,77.9 613.5,77.9 612.8,78.0 612.2,78.1 611.5,78.2 610.9,78.4 610.3,78.7 609.7,78.9 609.1,79.2 608.6,79.6 608.1,79.9 607.6,80.4 607.1,80.8 606.7,81.3 606.2,81.8 605.9,82.3 605.5,82.8 605.2,83.4 605.0,84.0 604.7,84.6 604.5,85.2 604.4,85.9 604.3,86.5 604.2,87.2 604.2,87.8 604.2,88.4 604.3,89.1 604.4,89.7 604.5,90.4 604.7,91.0 605.0,91.6 605.2,92.2 605.5,92.8 605.9,93.3 606.2,93.8 606.7,94.3 607.1,94.8 607.6,95.2 608.1,95.7 608.6,96.0 609.1,96.4 609.7,96.7 610.3,96.9 610.9,97.2 611.5,97.4 612.2,97.5 612.8,97.6 613.5,97.7 614.1,97.7 614.7,97.7 615.4,97.6 616.0,97.5 616.7,97.4 617.3,97.2 617.9,96.9 618.5,96.7 619.1,96.4 619.6,96.0 620.1,95.7 620.6,95.2 621.1,94.8 621.5,94.3 622.0,93.8 622.3,93.3 622.7,92.8 623.0,92.2 623.2,91.6 623.5,91.0 623.7,90.4 623.8,89.7 623.9,89.1 624.0,88.4 624.0,87.8" stroke="#3030ff" stroke-width="1.3" fill="none"/><circle cx="614.1" cy="87.8" r="0.9" fill="#555" stroke="none"/><polyline points="618.7,19.8 618.7,19.5 618.7,19.2 618.6,18.9 618.5,18.6 618.5,18.3 618.3,18.0 618.2,17.8 618.1,17.5 617.9,17.2 617.7,17.0 617.6,16.8 617.4,16.5 617.1,16.3 616.9,16.2 616.7,16.0 616.4,15.8 616.1,15.7 615.9,15.6 615.6,15.4 615.3,15.4 615.0,15.3 614.7,15.2 614.4,15.2 614.1,15.2 613.8,15.2 613.5,15.2 613.2,15.3 612.9,15.4 612.6,15.4 612.3,15.6 612.1,15.7 611.8,15.8 611.5,16.0 611.3,16.2 611.1,16.3 610.8,16.5 610.6,16.8 610.5,17.0 610.3,17.2 610.1,17.5 610.0,17.8 609.9,18.0 609.7,18.3 609.7,18.6 609.6,18.9 609.5,19.2 609.5,19.5 609.5,19.8 609.5,20.1 609.5,20.4 609.6,20.7 609.7,21.0 609.7,21.3 609.9,21.6 610.0,21.8 610.1,22.1 610.3,22.4 610.5,22.6 610.6,22.8 610.8,23.1 611.1,23.3 611.3,23.4 611.5,23.6 611.8,23.8 612.1,23.9 612.3,24.0 612.6,24.2 612.9,24.2 613.2,24.3 613.5,24.4 613.8,24.4 614.1,24.4 614.4,24.4 614.7,24.4 615.0,24.3 615.3,24.2 615.6,24.2 615.9,24.0 616.1,23.9 616.4,23.8 616.7,23.6 616.9,23.4 617.1,23.3 617.4,23.1 617.6,22.8 617.7,22.6 617.9,22.4 618.1,22.1 618.2,21.8 618.3,21.6 618.5,21.3 618.5,21.0 618.6,20.7 618.7,20.4 618.7,20.1 618.7,19.8" stroke="#3030ff" stroke-width="1.1" fill="none"/><circle cx="614.10" cy="10.00" r="26.3" stroke="#ff2a2a" stroke-width="1.4"/><polyline points="639.9,19.8 640.9,18.0 641.9,16.1 642.9,14.1 643.6,11.9 644.0,9.6 644.1,7.4 643.7,5.2 642.9,3.2 641.5,1.5 639.9,0.0 637.9,-1.0 635.7,-1.8 633.4,-2.2 631.2,-2.5 629.0,-2.5 627.0,-2.5 625.1,-2.5 623.4,-2.6 621.7,-2.7 620.2,-2.9 618.6,-3.1 617.1,-3.2 615.6,-3.4 614.1,-3.4 612.6,-3.4 611.1,-3.2 609.6,-3.1 608.0,-2.9 606.5,-2.7 604.8,-2.6 603.1,-2.5 601.2,-2.5 599.2,-2.5 597.0,-2.5 594.8,-2.2 592.5,-1.8 590.3,-1.0 588.3,0.0 586.7,1.5 585.3,3.2 584.5,5.2 584.1,7.4 584.2,9.6 584.6,11.9 585.3,14.1 586.3,16.1 587.3,18.0 588.3,19.8 589.2,21.4 590.1,23.0 590.8,24.4 591.4,25.9 592.0,27.3 592.6,28.7 593.3,30.1 594.0,31.4 594.8,32.7 595.7,33.9 596.6,35.2 597.5,36.4 598.4,37.7 599.3,39.0 600.3,40.5 601.2,42.1 602.2,43.9 603.4,45.7 604.7,47.6 606.2,49.3 607.9,50.8 609.9,52.0 611.9,52.7 614.1,53.0 616.3,52.7 618.3,52.0 620.3,50.8 622.0,49.3 623.5,47.6 624.8,45.7 626.0,43.9 627.0,42.1 627.9,40.5 628.9,39.0 629.8,37.7 630.7,36.4 631.6,35.2 632.5,33.9 633.4,32.7 634.2,31.4 634.9,30.1 635.6,28.7 636.2,27.3 636.8,25.9 637.4,24.4 638.1,23.0 639.0,21.4 639.9,19.8" stroke="#3030ff" stroke-width="1.3" fill="none"/><polyline points="559.8,53.8 559.8,53.5 559.8,53.2 559.7,52.9 559.7,52.6 559.6,52.3 559.5,52.0 559.3,51.8 559.2,51.5 559.0,51.2 558.9,51.0 558.7,50.8 558.5,50.5 558.2,50.3 558.0,50.2 557.8,50.0 557.5,49.8 557.2,49.7 557.0,49.6 556.7,49.4 556.4,49.4 556.1,49.3 555.8,49.2 555.5,49.2 555.2,49.2 554.9,49.2 554.6,49.2 554.3,49.3 554.0,49.4 553.7,49.4 553.4,49.6 553.2,49.7 552.9,49.8 552.7,50.0 552.4,50.2 552.2,50.3 552.0,50.5 551.8,50.8 551.6,51.0 551.4,51.2 551.2,51.5 551.1,51.8 551.0,52.0 550.9,52.3 550.8,52.6 550.7,52.9 550.6,53.2 550.6,53.5 550.6,53.8 550.6,54.1 550.6,54.4 550.7,54.7 550.8,55.0 550.9,55.3 551.0,55.6 551.1,55.8 551.2,56.1 551.4,56.4 551.6,56.6 551.8,56.8 552.0,57.1 552.2,57.3 552.4,57.4 552.7,57.6 552.9,57.8 553.2,57.9 553.4,58.0 553.7,58.2 554.0,58.2 554.3,58.3 554.6,58.4 554.9,58.4 555.2,58.4 555.5,58.4 555.8,58.4 556.1,58.3 556.4,58.2 556.7,58.2 557.0,58.0 557.2,57.9 557.5,57.8 557.8,57.6 558.0,57.4 558.2,57.3 558.5,57.1 558.7,56.8 558.9,56.6 559.0,56.4 559.2,56.1 559.3,55.8 559.5,55.6 559.6,55.3 559.7,55.0 559.7,54.7 559.8,54.4 559.8,54.1 559.8,53.8" stroke="#3030ff" stroke-width="1.1" fill="none"/><circle cx="546.72" cy="48.90" r="26.3" stroke="#ff2a2a" stroke-width="1.4"/><polyline points="581.0,53.8 580.1,52.2 579.2,50.6 578.5,49.2 577.9,47.7 577.3,46.3 576.7,44.9 576.0,43.5 575.3,42.2 574.5,40.9 573.6,39.7 572.7,38.4 571.8,37.2 570.9,35.9 570.0,34.6 569.1,33.1 568.1,31.5 567.1,29.7 566.0,27.9 564.6,26.0 563.1,24.3 561.4,22.8 559.4,21.6 557.4,20.9 555.2,20.6 553.1,20.9 551.0,21.6 549.0,22.8 547.3,24.3 545.8,26.0 544.5,27.9 543.3,29.7 542.3,31.5 541.4,33.1 540.5,34.6 539.5,35.9 538.6,37.2 537.7,38.4 536.8,39.7 535.9,40.9 535.1,42.2 534.4,43.5 533.7,44.9 533.1,46.3 532.5,47.7 531.9,49.2 531.2,50.6 530.3,52.2 529.4,53.8 528.4,55.6 527.4,57.5 526.5,59.5 525.7,61.7 525.3,64.0 525.2,66.2 525.6,68.4 526.5,70.4 527.8,72.1 529.5,73.6 531.4,74.6 533.6,75.4 535.9,75.8 538.1,76.1 540.3,76.1 542.3,76.1 544.2,76.1 545.9,76.2 547.6,76.3 549.1,76.5 550.7,76.7 552.2,76.8 553.7,77.0 555.2,77.0 556.7,77.0 558.2,76.8 559.8,76.7 561.3,76.5 562.8,76.3 564.5,76.2 566.2,76.1 568.1,76.1 570.1,76.1 572.3,76.1 574.5,75.8 576.8,75.4 579.0,74.6 581.0,73.6 582.7,72.1 584.0,70.4 584.8,68.4 585.2,66.2 585.1,64.0 584.7,61.7 584.0,59.5 583.0,57.5 582.0,55.6 581.0,53.8" stroke="#3030ff" stroke-width="1.3" fill="none"/><polyline points="559.8,121.8 559.8,121.5 559.8,121.2 559.7,120.9 559.7,120.6 559.6,120.3 559.5,120.0 559.3,119.8 559.2,119.5 559.0,119.2 558.9,119.0 558.7,118.8 558.5,118.5 558.2,118.3 558.0,118.2 557.8,118.0 557.5,117.8 557.2,117.7 557.0,117.6 556.7,117.4 556.4,117.4 556.1,117.3 555.8,117.2 555.5,117.2 555.2,117.2 554.9,117.2 554.6,117.2 554.3,117.3 554.0,117.4 553.7,117.4 553.4,117.6 553.2,117.7 552.9,117.8 552.7,118.0 552.4,118.2 552.2,118.3 552.0,118.5 551.8,118.8 551.6,119.0 551.4,119.2 551.2,119.5 551.1,119.8 551.0,120.0 550.9,120.3 550.8,120.6 550.7,120.9 550.6,121.2 550.6,121.5 550.6,121.8 550.6,122.1 550.6,122.4 550.7,122.7 550.8,123.0 550.9,123.3 551.0,123.6 551.1,123.8 551.2,124.1 551.4,124.4 551.6,124.6 551.8,124.8 552.0,125.1 552.2,125.3 552.4,125.4 552.7,125.6 552.9,125.8 553.2,125.9 553.4,126.0 553.7,126.2 554.0,126.2 554.3,126.3 554.6,126.4 554.9,126.4 555.2,126.4 555.5,126.4 555.8,126.4 556.1,126.3 556.4,126.2 556.7,126.2 557.0,126.0 557.2,125.9 557.5,125.8 557.8,125.6 558.0,125.4 558.2,125.3 558.5,125.1 558.7,124.8 558.9,124.6 559.0,124.4 559.2,124.1 559.3,123.8 559.5,123.6 559.6,123.3 559.7,123.0 559.7,122.7 559.8,122.4 559.8,122.1 559.8,121.8" stroke="#3030ff" stroke-width="1.1" fill="none"/><circle cx="546.72" cy="126.70" r="26.3" stroke="#ff2a2a" stroke-width="1.4"/><polyline points="581.0,121.8 582.0,120.0 583.0,118.1 584.0,116.1 584.7,113.9 585.1,111.6 585.2,109.4 584.8,107.2 584.0,105.2 582.7,103.5 581.0,102.0 579.0,101.0 576.8,100.2 574.5,99.8 572.3,99.5 570.1,99.5 568.1,99.5 566.2,99.5 564.5,99.4 562.8,99.3 561.3,99.1 559.8,98.9 558.2,98.8 556.7,98.6 555.2,98.6 553.7,98.6 552.2,98.8 550.7,98.9 549.1,99.1 547.6,99.3 545.9,99.4 544.2,99.5 542.3,99.5 540.3,99.5 538.1,99.5 535.9,99.8 533.6,100.2 531.4,101.0 529.5,102.0 527.8,103.5 526.5,105.2 525.6,107.2 525.2,109.4 525.3,111.6 525.7,113.9 526.5,116.1 527.4,118.1 528.4,120.0 529.4,121.8 530.3,123.4 531.2,125.0 531.9,126.4 532.5,127.9 533.1,129.3 533.7,130.7 534.4,132.1 535.1,133.4 535.9,134.7 536.8,135.9 537.7,137.2 538.6,138.4 539.5,139.7 540.5,141.0 541.4,142.5 542.3,144.1 543.3,145.9 544.5,147.7 545.8,149.6 547.3,151.3 549.0,152.8 551.0,154.0 553.1,154.7 555.2,155.0 557.4,154.7 559.4,154.0 561.4,152.8 563.1,151.3 564.6,149.6 566.0,147.7 567.1,145.9 568.1,144.1 569.1,142.5 570.0,141.0 570.9,139.7 571.8,138.4 572.7,137.2 573.6,135.9 574.5,134.7 575.3,133.4 576.0,132.1 576.7,130.7 577.3,129.3 577.9,127.9 578.5,126.4 579.2,125.0 580.1,123.4 581.0,121.8" stroke="#3030ff" stroke-width="1.3" fill="none"/><polyline points="618.7,155.8 618.7,155.5 618.7,155.2 618.6,154.9 618.5,154.6 618.5,154.3 618.3,154.0 618.2,153.8 618.1,153.5 617.9,153.2 617.7,153.0 617.6,152.8 617.4,152.5 617.1,152.3 616.9,152.2 616.7,152.0 616.4,151.8 616.1,151.7 615.9,151.6 615.6,151.4 615.3,151.4 615.0,151.3 614.7,151.2 614.4,151.2 614.1,151.2 613.8,151.2 613.5,151.2 613.2,151.3 612.9,151.4 612.6,151.4 612.3,151.6 612.1,151.7 611.8,151.8 611.5,152.0 611.3,152.2 611.1,152.3 610.8,152.5 610.6,152.8 610.5,153.0 610.3,153.2 610.1,153.5 610.0,153.8 609.9,154.0 609.7,154.3 609.7,154.6 609.6,154.9 609.5,155.2 609.5,155.5 609.5,155.8 609.5,156.1 609.5,156.4 609.6,156.7 609.7,157.0 609.7,157.3 609.9,157.6 610.0,157.8 610.1,158.1 610.3,158.4 610.5,158.6 610.6,158.8 610.8,159.1 611.1,159.3 611.3,159.4 611.5,159.6 611.8,159.8 612.1,159.9 612.3,160.0 612.6,160.2 612.9,160.2 613.2,160.3 613.5,160.4 613.8,160.4 614.1,160.4 614.4,160.4 614.7,160.4 615.0,160.3 615.3,160.2 615.6,160.2 615.9,160.0 616.1,159.9 616.4,159.8 616.7,159.6 616.9,159.4 617.1,159.3 617.4,159.1 617.6,158.8 617.7,158.6 617.9,158.4 618.1,158.1 618.2,157.8 618.3,157.6 618.5,157.3 618.5,157.0 618.6,156.7 618.7,156.4 618.7,156.1 618.7,155.8" stroke="#3030ff" stroke-width="1.1" fill="none"/><circle cx="614.10" cy="165.60" r="26.3" stroke="#ff2a2a" stroke-width="1.4"/><polyline points="639.9,155.8 639.0,154.2 638.1,152.6 637.4,151.2 636.8,149.7 636.2,148.3 635.6,146.9 634.9,145.5 634.2,144.2 633.4,142.9 632.5,141.7 631.6,140.4 630.7,139.2 629.8,137.9 628.9,136.6 627.9,135.1 627.0,133.5 626.0,131.7 624.8,129.9 623.5,128.0 622.0,126.3 620.3,124.8 618.3,123.6 616.3,122.9 614.1,122.6 611.9,122.9 609.9,123.6 607.9,124.8 606.2,126.3 604.7,128.0 603.4,129.9 602.2,131.7 601.2,133.5 600.3,135.1 599.3,136.6 598.4,137.9 597.5,139.2 596.6,140.4 595.7,141.7 594.8,142.9 594.0,144.2 593.3,145.5 592.6,146.9 592.0,148.3 591.4,149.7 590.8,151.2 590.1,152.6 589.2,154.2 588.3,155.8 587.3,157.6 586.3,159.5 585.3,161.5 584.6,163.7 584.2,166.0 584.1,168.2 584.5,170.4 585.3,172.4 586.7,174.1 588.3,175.6 590.3,176.6 592.5,177.4 594.8,177.8 597.0,178.1 599.2,178.1 601.2,178.1 603.1,178.1 604.8,178.2 606.5,178.3 608.0,178.5 609.6,178.7 611.1,178.8 612.6,179.0 614.1,179.0 615.6,179.0 617.1,178.8 618.6,178.7 620.2,178.5 621.7,178.3 623.4,178.2 625.1,178.1 627.0,178.1 629.0,178.1 631.2,178.1 633.4,177.8 635.7,177.4 637.9,176.6 639.9,175.6 641.5,174.1 642.9,172.4 643.7,170.4 644.1,168.2 644.0,166.0 643.6,163.7 642.9,161.5 641.9,159.5 640.9,157.6 639.9,155.8" stroke="#3030ff" stroke-width="1.3" fill="none"/><polyline points="677.6,121.8 677.6,121.5 677.6,121.2 677.5,120.9 677.4,120.6 677.3,120.3 677.2,120.0 677.1,119.8 677.0,119.5 676.8,119.2 676.6,119.0 676.4,118.8 676.2,118.5 676.0,118.3 675.8,118.2 675.5,118.0 675.3,117.8 675.0,117.7 674.8,117.6 674.5,117.4 674.2,117.4 673.9,117.3 673.6,117.2 673.3,117.2 673.0,117.2 672.7,117.2 672.4,117.2 672.1,117.3 671.8,117.4 671.5,117.4 671.2,117.6 671.0,117.7 670.7,117.8 670.4,118.0 670.2,118.2 670.0,118.3 669.7,118.5 669.5,118.8 669.3,119.0 669.2,119.2 669.0,119.5 668.9,119.8 668.7,120.0 668.6,120.3 668.5,120.6 668.5,120.9 668.4,121.2 668.4,121.5 668.4,121.8 668.4,122.1 668.4,122.4 668.5,122.7 668.5,123.0 668.6,123.3 668.7,123.6 668.9,123.8 669.0,124.1 669.2,124.4 669.3,124.6 669.5,124.8 669.7,125.1 670.0,125.3 670.2,125.4 670.4,125.6 670.7,125.8 671.0,125.9 671.2,126.0 671.5,126.2 671.8,126.2 672.1,126.3 672.4,126.4 672.7,126.4 673.0,126.4 673.3,126.4 673.6,126.4 673.9,126.3 674.2,126.2 674.5,126.2 674.8,126.0 675.0,125.9 675.3,125.8 675.5,125.6 675.8,125.4 676.0,125.3 676.2,125.1 676.4,124.8 676.6,124.6 676.8,124.4 677.0,124.1 677.1,123.8 677.2,123.6 677.3,123.3 677.4,123.0 677.5,122.7 677.6,122.4 677.6,122.1 677.6,121.8" stroke="#3030ff" stroke-width="1.1" fill="none"/><circle cx="681.48" cy="126.70" r="26.3" stroke="#ff2a2a" stroke-width="1.4"/><polyline points="698.8,121.8 699.8,120.0 700.8,118.1 701.7,116.1 702.5,113.9 702.9,111.6 703.0,109.4 702.6,107.2 701.7,105.2 700.4,103.5 698.7,102.0 696.8,101.0 694.6,100.2 692.3,99.8 690.1,99.5 687.9,99.5 685.9,99.5 684.0,99.5 682.3,99.4 680.6,99.3 679.1,99.1 677.5,98.9 676.0,98.8 674.5,98.6 673.0,98.6 671.5,98.6 670.0,98.8 668.4,98.9 666.9,99.1 665.4,99.3 663.7,99.4 662.0,99.5 660.1,99.5 658.1,99.5 655.9,99.5 653.7,99.8 651.4,100.2 649.2,101.0 647.2,102.0 645.5,103.5 644.2,105.2 643.4,107.2 643.0,109.4 643.1,111.6 643.5,113.9 644.2,116.1 645.2,118.1 646.2,120.0 647.2,121.8 648.1,123.4 649.0,125.0 649.7,126.4 650.3,127.9 650.9,129.3 651.5,130.7 652.2,132.1 652.9,133.4 653.7,134.7 654.6,135.9 655.5,137.2 656.4,138.4 657.3,139.7 658.2,141.0 659.1,142.5 660.1,144.1 661.1,145.9 662.2,147.7 663.6,149.6 665.1,151.3 666.8,152.8 668.8,154.0 670.8,154.7 673.0,155.0 675.1,154.7 677.2,154.0 679.2,152.8 680.9,151.3 682.4,149.6 683.7,147.7 684.9,145.9 685.9,144.1 686.8,142.5 687.7,141.0 688.7,139.7 689.6,138.4 690.5,137.2 691.4,135.9 692.3,134.7 693.1,133.4 693.8,132.1 694.5,130.7 695.1,129.3 695.7,127.9 696.3,126.4 697.0,125.0 697.9,123.4 698.8,121.8" stroke="#3030ff" stroke-width="1.3" fill="none"/><polyline points="677.6,53.8 677.6,53.5 677.6,53.2 677.5,52.9 677.4,52.6 677.3,52.3 677.2,52.0 677.1,51.8 677.0,51.5 676.8,51.2 676.6,51.0 676.4,50.8 676.2,50.5 676.0,50.3 675.8,50.2 675.5,50.0 675.3,49.8 675.0,49.7 674.8,49.6 674.5,49.4 674.2,49.4 673.9,49.3 673.6,49.2 673.3,49.2 673.0,49.2 672.7,49.2 672.4,49.2 672.1,49.3 671.8,49.4 671.5,49.4 671.2,49.6 671.0,49.7 670.7,49.8 670.4,50.0 670.2,50.2 670.0,50.3 669.7,50.5 669.5,50.8 669.3,51.0 669.2,51.2 669.0,51.5 668.9,51.8 668.7,52.0 668.6,52.3 668.5,52.6 668.5,52.9 668.4,53.2 668.4,53.5 668.4,53.8 668.4,54.1 668.4,54.4 668.5,54.7 668.5,55.0 668.6,55.3 668.7,55.6 668.9,55.8 669.0,56.1 669.2,56.4 669.3,56.6 669.5,56.8 669.7,57.1 670.0,57.3 670.2,57.4 670.4,57.6 670.7,57.8 671.0,57.9 671.2,58.0 671.5,58.2 671.8,58.2 672.1,58.3 672.4,58.4 672.7,58.4 673.0,58.4 673.3,58.4 673.6,58.4 673.9,58.3 674.2,58.2 674.5,58.2 674.8,58.0 675.0,57.9 675.3,57.8 675.5,57.6 675.8,57.4 676.0,57.3 676.2,57.1 676.4,56.8 676.6,56.6 676.8,56.4 677.0,56.1 677.1,55.8 677.2,55.6 677.3,55.3 677.4,55.0 677.5,54.7 677.6,54.4 677.6,54.1 677.6,53.8" stroke="#3030ff" stroke-width="1.1" fill="none"/><circle cx="681.48" cy="48.90" r="26.3" stroke="#ff2a2a" stroke-width="1.4"/><polyline points="698.8,53.8 697.9,52.2 697.0,50.6 696.3,49.2 695.7,47.7 695.1,46.3 694.5,44.9 693.8,43.5 693.1,42.2 692.3,40.9 691.4,39.7 690.5,38.4 689.6,37.2 688.7,35.9 687.7,34.6 686.8,33.1 685.9,31.5 684.9,29.7 683.7,27.9 682.4,26.0 680.9,24.3 679.2,22.8 677.2,21.6 675.1,20.9 673.0,20.6 670.8,20.9 668.8,21.6 666.8,22.8 665.1,24.3 663.6,26.0 662.2,27.9 661.1,29.7 660.1,31.5 659.1,33.1 658.2,34.6 657.3,35.9 656.4,37.2 655.5,38.4 654.6,39.7 653.7,40.9 652.9,42.2 652.2,43.5 651.5,44.9 650.9,46.3 650.3,47.7 649.7,49.2 649.0,50.6 648.1,52.2 647.2,53.8 646.2,55.6 645.2,57.5 644.2,59.5 643.5,61.7 643.1,64.0 643.0,66.2 643.4,68.4 644.2,70.4 645.5,72.1 647.2,73.6 649.2,74.6 651.4,75.4 653.7,75.8 655.9,76.1 658.1,76.1 660.1,76.1 662.0,76.1 663.7,76.2 665.4,76.3 666.9,76.5 668.4,76.7 670.0,76.8 671.5,77.0 673.0,77.0 674.5,77.0 676.0,76.8 677.5,76.7 679.1,76.5 680.6,76.3 682.3,76.2 684.0,76.1 685.9,76.1 687.9,76.1 690.1,76.1 692.3,75.8 694.6,75.4 696.8,74.6 698.7,73.6 700.4,72.1 701.7,70.4 702.6,68.4 703.0,66.2 702.9,64.0 702.5,61.7 701.7,59.5 700.8,57.5 699.8,55.6 698.8,53.8" stroke="#3030ff" stroke-width="1.3" fill="none"/></g><g clip-path="url(#cliphex2)" fill="none" stroke-linejoin="round"><polyline points="644.5,262.0 644.4,260.0 644.2,258.1 643.9,256.1 643.5,254.2 642.9,252.3 642.2,250.4 641.4,248.6 640.5,246.9 639.4,245.2 638.3,243.6 637.0,242.1 635.7,240.6 634.2,239.3 632.7,238.0 631.1,236.9 629.4,235.8 627.7,234.9 625.9,234.1 624.0,233.4 622.1,232.8 620.2,232.4 618.2,232.1 616.3,231.9 614.3,231.8 612.3,231.9 610.4,232.1 608.4,232.4 606.5,232.8 604.6,233.4 602.7,234.1 600.9,234.9 599.2,235.8 597.5,236.9 595.9,238.0 594.4,239.3 592.9,240.6 591.6,242.1 590.3,243.6 589.2,245.2 588.1,246.9 587.2,248.6 586.4,250.4 585.7,252.3 585.1,254.2 584.7,256.1 584.4,258.1 584.2,260.0 584.1,262.0 584.2,264.0 584.4,265.9 584.7,267.9 585.1,269.8 585.7,271.7 586.4,273.6 587.2,275.4 588.1,277.1 589.2,278.8 590.3,280.4 591.6,281.9 592.9,283.4 594.4,284.7 595.9,286.0 597.5,287.1 599.2,288.2 600.9,289.1 602.7,289.9 604.6,290.6 606.5,291.2 608.4,291.6 610.4,291.9 612.3,292.1 614.3,292.2 616.3,292.1 618.2,291.9 620.2,291.6 622.1,291.2 624.0,290.6 625.9,289.9 627.7,289.1 629.4,288.2 631.1,287.1 632.7,286.0 634.2,284.7 635.7,283.4 637.0,281.9 638.3,280.4 639.4,278.8 640.5,277.1 641.4,275.4 642.2,273.6 642.9,271.7 643.5,269.8 643.9,267.9 644.2,265.9 644.4,264.0 644.5,262.0" stroke="#ff2a2a" stroke-width="1.6" fill="none"/><polyline points="642.3,262.0 642.3,260.2 642.2,258.3 642.1,256.5 641.9,254.6 641.6,252.7 641.1,250.9 640.4,249.1 639.6,247.4 638.5,245.8 637.3,244.3 636.0,243.0 634.5,241.8 633.0,240.7 631.5,239.6 629.9,238.7 628.3,237.8 626.7,236.8 625.1,236.0 623.4,235.1 621.7,234.4 619.9,233.7 618.1,233.2 616.2,232.9 614.3,232.8 612.4,232.9 610.5,233.2 608.7,233.7 606.9,234.4 605.2,235.1 603.5,236.0 601.9,236.8 600.3,237.8 598.7,238.7 597.1,239.6 595.6,240.7 594.1,241.8 592.6,243.0 591.3,244.3 590.1,245.8 589.0,247.4 588.2,249.1 587.5,250.9 587.0,252.7 586.7,254.6 586.5,256.5 586.4,258.3 586.3,260.2 586.3,262.0 586.3,263.8 586.4,265.7 586.5,267.5 586.7,269.4 587.0,271.3 587.5,273.1 588.2,274.9 589.0,276.6 590.1,278.2 591.3,279.7 592.6,281.0 594.1,282.2 595.6,283.3 597.1,284.4 598.7,285.3 600.3,286.2 601.9,287.2 603.5,288.0 605.2,288.9 606.9,289.6 608.7,290.3 610.5,290.8 612.4,291.1 614.3,291.2 616.2,291.1 618.1,290.8 619.9,290.3 621.7,289.6 623.4,288.9 625.1,288.0 626.7,287.2 628.3,286.2 629.9,285.3 631.5,284.4 633.0,283.3 634.5,282.2 636.0,281.0 637.3,279.7 638.5,278.2 639.6,276.6 640.4,274.9 641.1,273.1 641.6,271.3 641.9,269.4 642.1,267.5 642.2,265.7 642.3,263.8 642.3,262.0" stroke="#3030ff" stroke-width="1.3" fill="none"/><polyline points="636.1,262.0 635.4,260.6 634.7,259.3 634.0,258.1 633.5,256.9 632.9,255.7 632.4,254.5 631.8,253.4 631.2,252.2 630.5,251.2 629.8,250.1 629.1,249.0 628.3,248.0 627.6,246.9 626.8,245.7 626.0,244.5 625.2,243.1 624.3,241.7 623.3,240.3 622.2,238.8 620.9,237.5 619.4,236.4 617.8,235.5 616.1,234.9 614.3,234.7 612.5,234.9 610.8,235.5 609.2,236.4 607.7,237.5 606.4,238.8 605.3,240.3 604.3,241.7 603.4,243.1 602.6,244.5 601.8,245.7 601.0,246.9 600.3,248.0 599.5,249.0 598.8,250.1 598.1,251.2 597.4,252.2 596.8,253.4 596.2,254.5 595.7,255.7 595.1,256.9 594.6,258.1 593.9,259.3 593.2,260.6 592.5,262.0 591.7,263.5 591.0,265.1 590.3,266.8 589.8,268.6 589.5,270.4 589.6,272.2 589.9,274.0 590.7,275.6 591.7,277.1 593.1,278.3 594.6,279.2 596.4,279.9 598.2,280.4 600.0,280.7 601.7,280.8 603.4,280.9 605.0,280.9 606.4,281.0 607.8,281.1 609.2,281.2 610.5,281.3 611.7,281.4 613.0,281.5 614.3,281.5 615.6,281.5 616.9,281.4 618.1,281.3 619.4,281.2 620.8,281.1 622.2,281.0 623.6,280.9 625.2,280.9 626.9,280.8 628.6,280.7 630.4,280.4 632.2,279.9 634.0,279.2 635.5,278.3 636.9,277.1 637.9,275.7 638.7,274.0 639.0,272.2 639.1,270.4 638.8,268.6 638.3,266.8 637.6,265.1 636.9,263.5 636.1,262.0" stroke="#3030ff" stroke-width="1.3" fill="none"/><polyline points="636.1,262.0 636.9,260.5 637.6,258.9 638.3,257.2 638.8,255.4 639.1,253.6 639.0,251.8 638.7,250.0 637.9,248.3 636.9,246.9 635.5,245.7 634.0,244.8 632.2,244.1 630.4,243.6 628.6,243.3 626.9,243.2 625.2,243.1 623.6,243.1 622.2,243.0 620.8,242.9 619.4,242.8 618.1,242.7 616.9,242.6 615.6,242.5 614.3,242.5 613.0,242.5 611.7,242.6 610.5,242.7 609.2,242.8 607.8,242.9 606.4,243.0 605.0,243.1 603.4,243.1 601.7,243.2 600.0,243.3 598.2,243.6 596.4,244.1 594.6,244.8 593.1,245.7 591.7,246.9 590.7,248.3 589.9,250.0 589.6,251.8 589.5,253.6 589.8,255.4 590.3,257.2 591.0,258.9 591.7,260.5 592.5,262.0 593.2,263.4 593.9,264.7 594.6,265.9 595.1,267.1 595.7,268.3 596.2,269.5 596.8,270.6 597.4,271.8 598.1,272.8 598.8,273.9 599.5,275.0 600.3,276.0 601.0,277.1 601.8,278.3 602.6,279.5 603.4,280.9 604.3,282.3 605.3,283.7 606.4,285.2 607.7,286.5 609.2,287.6 610.8,288.5 612.5,289.1 614.3,289.3 616.1,289.1 617.8,288.5 619.4,287.6 620.9,286.5 622.2,285.2 623.3,283.7 624.3,282.3 625.2,280.9 626.0,279.5 626.8,278.3 627.6,277.1 628.3,276.0 629.1,275.0 629.8,273.9 630.5,272.8 631.2,271.8 631.8,270.6 632.4,269.5 632.9,268.3 633.5,267.1 634.0,265.9 634.7,264.7 635.4,263.4 636.1,262.0" stroke="#3030ff" stroke-width="1.3" fill="none"/><polyline points="630.0,262.0 629.9,261.0 629.7,260.0 629.4,259.0 629.0,258.1 628.5,257.2 628.0,256.3 627.5,255.5 627.0,254.7 626.6,253.8 626.1,253.0 625.6,252.1 625.0,251.3 624.4,250.4 623.8,249.7 623.0,249.0 622.1,248.4 621.2,248.0 620.3,247.6 619.2,247.4 618.2,247.3 617.2,247.3 616.2,247.3 615.3,247.3 614.3,247.3 613.3,247.3 612.4,247.3 611.4,247.3 610.4,247.3 609.4,247.4 608.3,247.6 607.4,248.0 606.4,248.4 605.6,249.0 604.8,249.7 604.2,250.4 603.6,251.3 603.0,252.1 602.5,253.0 602.0,253.8 601.6,254.7 601.1,255.5 600.6,256.3 600.1,257.2 599.6,258.1 599.2,259.0 598.9,260.0 598.7,261.0 598.6,262.0 598.7,263.0 598.9,264.0 599.2,265.0 599.6,265.9 600.1,266.8 600.6,267.7 601.1,268.5 601.6,269.4 602.0,270.2 602.5,271.0 603.0,271.9 603.6,272.7 604.2,273.6 604.8,274.3 605.6,275.0 606.4,275.6 607.4,276.0 608.3,276.4 609.4,276.6 610.4,276.7 611.4,276.7 612.4,276.7 613.3,276.7 614.3,276.7 615.3,276.7 616.2,276.7 617.2,276.7 618.2,276.7 619.2,276.6 620.3,276.4 621.2,276.0 622.1,275.6 623.0,275.0 623.8,274.3 624.4,273.6 625.0,272.7 625.6,271.9 626.1,271.0 626.6,270.2 627.0,269.4 627.5,268.5 628.0,267.7 628.5,266.8 629.0,265.9 629.4,265.0 629.7,264.0 629.9,263.0 630.0,262.0" stroke="#3030ff" stroke-width="1.3" fill="none"/><polyline points="631.1,262.0 631.0,260.9 630.8,259.8 630.5,258.8 630.0,257.8 629.6,256.8 629.0,255.9 628.5,255.0 628.0,254.1 627.5,253.2 627.0,252.3 626.4,251.4 625.8,250.5 625.2,249.6 624.4,248.8 623.6,248.1 622.7,247.5 621.7,247.0 620.7,246.6 619.6,246.4 618.5,246.3 617.4,246.2 616.4,246.2 615.3,246.2 614.3,246.2 613.3,246.2 612.2,246.2 611.2,246.2 610.1,246.3 609.0,246.4 607.9,246.6 606.9,247.0 605.9,247.5 605.0,248.1 604.2,248.8 603.4,249.6 602.8,250.5 602.2,251.4 601.6,252.3 601.1,253.2 600.6,254.1 600.1,255.0 599.6,255.9 599.0,256.8 598.6,257.8 598.1,258.8 597.8,259.8 597.6,260.9 597.5,262.0 597.6,263.1 597.8,264.2 598.1,265.2 598.6,266.2 599.0,267.2 599.6,268.1 600.1,269.0 600.6,269.9 601.1,270.8 601.6,271.7 602.2,272.6 602.8,273.5 603.4,274.4 604.2,275.2 605.0,275.9 605.9,276.5 606.9,277.0 607.9,277.4 609.0,277.6 610.1,277.7 611.2,277.8 612.2,277.8 613.3,277.8 614.3,277.8 615.3,277.8 616.4,277.8 617.4,277.8 618.5,277.7 619.6,277.6 620.7,277.4 621.7,277.0 622.7,276.5 623.6,275.9 624.4,275.2 625.2,274.4 625.8,273.5 626.4,272.6 627.0,271.7 627.5,270.8 628.0,269.9 628.5,269.0 629.0,268.1 629.6,267.2 630.0,266.2 630.5,265.2 630.8,264.2 631.0,263.1 631.1,262.0" stroke="#3030ff" stroke-width="1.3" fill="none"/><polyline points="626.1,262.0 626.1,261.2 626.0,260.5 625.9,259.7 625.7,258.9 625.5,258.2 625.2,257.5 624.9,256.8 624.5,256.1 624.1,255.4 623.7,254.8 623.2,254.2 622.6,253.7 622.1,253.1 621.5,252.6 620.9,252.2 620.2,251.8 619.5,251.4 618.8,251.1 618.1,250.8 617.4,250.6 616.6,250.4 615.8,250.3 615.1,250.2 614.3,250.2 613.5,250.2 612.8,250.3 612.0,250.4 611.2,250.6 610.5,250.8 609.8,251.1 609.1,251.4 608.4,251.8 607.7,252.2 607.1,252.6 606.5,253.1 606.0,253.7 605.4,254.2 604.9,254.8 604.5,255.4 604.1,256.1 603.7,256.8 603.4,257.5 603.1,258.2 602.9,258.9 602.7,259.7 602.6,260.5 602.5,261.2 602.5,262.0 602.5,262.8 602.6,263.5 602.7,264.3 602.9,265.1 603.1,265.8 603.4,266.5 603.7,267.2 604.1,267.9 604.5,268.6 604.9,269.2 605.4,269.8 606.0,270.3 606.5,270.9 607.1,271.4 607.7,271.8 608.4,272.2 609.1,272.6 609.8,272.9 610.5,273.2 611.2,273.4 612.0,273.6 612.8,273.7 613.5,273.8 614.3,273.8 615.1,273.8 615.8,273.7 616.6,273.6 617.4,273.4 618.1,273.2 618.8,272.9 619.5,272.6 620.2,272.2 620.9,271.8 621.5,271.4 622.1,270.9 622.6,270.3 623.2,269.8 623.7,269.2 624.1,268.6 624.5,267.9 624.9,267.2 625.2,266.5 625.5,265.8 625.7,265.1 625.9,264.3 626.0,263.5 626.1,262.8 626.1,262.0" stroke="#3030ff" stroke-width="1.3" fill="none"/><polyline points="622.1,262.0 622.1,261.5 622.0,261.0 622.0,260.5 621.8,260.0 621.7,259.5 621.5,259.0 621.3,258.6 621.1,258.1 620.8,257.7 620.5,257.3 620.2,256.9 619.8,256.5 619.4,256.1 619.0,255.8 618.6,255.5 618.2,255.2 617.7,255.0 617.3,254.8 616.8,254.6 616.3,254.5 615.8,254.3 615.3,254.3 614.8,254.2 614.3,254.2 613.8,254.2 613.3,254.3 612.8,254.3 612.3,254.5 611.8,254.6 611.3,254.8 610.9,255.0 610.4,255.2 610.0,255.5 609.6,255.8 609.2,256.1 608.8,256.5 608.4,256.9 608.1,257.3 607.8,257.7 607.5,258.1 607.3,258.6 607.1,259.0 606.9,259.5 606.8,260.0 606.6,260.5 606.6,261.0 606.5,261.5 606.5,262.0 606.5,262.5 606.6,263.0 606.6,263.5 606.8,264.0 606.9,264.5 607.1,265.0 607.3,265.4 607.5,265.9 607.8,266.3 608.1,266.7 608.4,267.1 608.8,267.5 609.2,267.9 609.6,268.2 610.0,268.5 610.4,268.8 610.9,269.0 611.3,269.2 611.8,269.4 612.3,269.5 612.8,269.7 613.3,269.7 613.8,269.8 614.3,269.8 614.8,269.8 615.3,269.7 615.8,269.7 616.3,269.5 616.8,269.4 617.3,269.2 617.7,269.0 618.2,268.8 618.6,268.5 619.0,268.2 619.4,267.9 619.8,267.5 620.2,267.1 620.5,266.7 620.8,266.3 621.1,265.9 621.3,265.4 621.5,265.0 621.7,264.5 621.8,264.0 622.0,263.5 622.0,263.0 622.1,262.5 622.1,262.0" stroke="#3030ff" stroke-width="1.3" fill="none"/><circle cx="614.3" cy="262" r="0.9" fill="#555" stroke="none"/><polyline points="618.9,194.0 618.9,193.7 618.9,193.4 618.8,193.1 618.7,192.8 618.7,192.5 618.5,192.2 618.4,192.0 618.3,191.7 618.1,191.4 617.9,191.2 617.8,191.0 617.6,190.7 617.3,190.5 617.1,190.4 616.9,190.2 616.6,190.0 616.3,189.9 616.1,189.8 615.8,189.6 615.5,189.6 615.2,189.5 614.9,189.4 614.6,189.4 614.3,189.4 614.0,189.4 613.7,189.4 613.4,189.5 613.1,189.6 612.8,189.6 612.5,189.8 612.3,189.9 612.0,190.0 611.7,190.2 611.5,190.4 611.3,190.5 611.0,190.7 610.8,191.0 610.7,191.2 610.5,191.4 610.3,191.7 610.2,192.0 610.1,192.2 609.9,192.5 609.9,192.8 609.8,193.1 609.7,193.4 609.7,193.7 609.7,194.0 609.7,194.3 609.7,194.6 609.8,194.9 609.9,195.2 609.9,195.5 610.1,195.8 610.2,196.0 610.3,196.3 610.5,196.6 610.7,196.8 610.8,197.0 611.0,197.3 611.3,197.5 611.5,197.6 611.7,197.8 612.0,198.0 612.3,198.1 612.5,198.2 612.8,198.4 613.1,198.4 613.4,198.5 613.7,198.6 614.0,198.6 614.3,198.6 614.6,198.6 614.9,198.6 615.2,198.5 615.5,198.4 615.8,198.4 616.1,198.2 616.3,198.1 616.6,198.0 616.9,197.8 617.1,197.6 617.3,197.5 617.6,197.3 617.8,197.0 617.9,196.8 618.1,196.6 618.3,196.3 618.4,196.0 618.5,195.8 618.7,195.5 618.7,195.2 618.8,194.9 618.9,194.6 618.9,194.3 618.9,194.0" stroke="#3030ff" stroke-width="1.1" fill="none"/><polyline points="616.9,194.0 616.9,193.8 616.9,193.7 616.9,193.5 616.8,193.3 616.8,193.2 616.7,193.0 616.6,192.9 616.6,192.7 616.5,192.6 616.4,192.4 616.3,192.3 616.1,192.2 616.0,192.0 615.9,191.9 615.7,191.8 615.6,191.7 615.4,191.7 615.3,191.6 615.1,191.5 615.0,191.5 614.8,191.4 614.6,191.4 614.5,191.4 614.3,191.4 614.1,191.4 614.0,191.4 613.8,191.4 613.6,191.5 613.5,191.5 613.3,191.6 613.2,191.7 613.0,191.7 612.9,191.8 612.7,191.9 612.6,192.0 612.5,192.2 612.3,192.3 612.2,192.4 612.1,192.6 612.0,192.7 612.0,192.9 611.9,193.0 611.8,193.2 611.8,193.3 611.7,193.5 611.7,193.7 611.7,193.8 611.7,194.0 611.7,194.2 611.7,194.3 611.7,194.5 611.8,194.7 611.8,194.8 611.9,195.0 612.0,195.1 612.0,195.3 612.1,195.4 612.2,195.6 612.3,195.7 612.5,195.8 612.6,196.0 612.7,196.1 612.9,196.2 613.0,196.3 613.2,196.3 613.3,196.4 613.5,196.5 613.6,196.5 613.8,196.6 614.0,196.6 614.1,196.6 614.3,196.6 614.5,196.6 614.6,196.6 614.8,196.6 615.0,196.5 615.1,196.5 615.3,196.4 615.4,196.3 615.6,196.3 615.7,196.2 615.9,196.1 616.0,196.0 616.1,195.8 616.3,195.7 616.4,195.6 616.5,195.4 616.6,195.3 616.6,195.1 616.7,195.0 616.8,194.8 616.8,194.7 616.9,194.5 616.9,194.3 616.9,194.2 616.9,194.0" stroke="#3030ff" stroke-width="0.9" fill="none"/><circle cx="614.30" cy="184.20" r="26.3" stroke="#ff2a2a" stroke-width="1.4"/><polyline points="638.6,194.0 639.6,192.3 640.6,190.5 641.6,188.6 642.3,186.5 642.8,184.3 642.9,182.1 642.6,180.1 641.8,178.2 640.5,176.5 638.9,175.1 636.9,174.1 634.8,173.5 632.6,173.1 630.5,172.9 628.4,172.9 626.4,173.0 624.7,173.0 623.0,173.0 621.5,172.9 620.0,172.8 618.6,172.6 617.1,172.5 615.7,172.3 614.3,172.3 612.9,172.3 611.5,172.5 610.0,172.6 608.6,172.8 607.1,172.9 605.6,173.0 603.9,173.0 602.1,173.0 600.2,172.9 598.1,172.9 596.0,173.1 593.8,173.5 591.7,174.1 589.7,175.1 588.1,176.5 586.8,178.2 586.0,180.1 585.7,182.1 585.8,184.3 586.3,186.5 587.0,188.6 588.0,190.5 589.0,192.3 590.0,194.0 590.9,195.5 591.8,197.0 592.5,198.3 593.1,199.7 593.7,201.0 594.2,202.3 594.8,203.6 595.5,204.8 596.3,206.1 597.1,207.2 597.9,208.4 598.8,209.5 599.6,210.7 600.5,212.0 601.3,213.5 602.1,215.0 603.1,216.8 604.1,218.5 605.4,220.3 606.8,222.0 608.4,223.5 610.3,224.7 612.2,225.4 614.3,225.7 616.4,225.4 618.3,224.7 620.2,223.5 621.8,222.0 623.2,220.3 624.5,218.5 625.5,216.8 626.4,215.0 627.3,213.5 628.1,212.0 629.0,210.7 629.8,209.5 630.7,208.4 631.5,207.2 632.3,206.1 633.1,204.9 633.8,203.6 634.4,202.3 634.9,201.0 635.5,199.7 636.1,198.3 636.8,197.0 637.7,195.5 638.6,194.0" stroke="#3030ff" stroke-width="1.3" fill="none"/><polyline points="642.6,194.0 643.6,192.1 644.6,190.0 645.5,187.8 646.2,185.4 646.6,183.0 646.6,180.6 646.2,178.3 645.2,176.2 643.8,174.3 642.0,172.7 640.0,171.5 637.7,170.6 635.3,170.1 632.9,169.8 630.6,169.6 628.4,169.5 626.4,169.4 624.5,169.3 622.7,169.1 621.0,168.9 619.3,168.7 617.7,168.5 616.0,168.4 614.3,168.3 612.6,168.4 610.9,168.5 609.3,168.7 607.6,168.9 605.9,169.1 604.1,169.3 602.2,169.4 600.1,169.5 598.0,169.6 595.7,169.8 593.3,170.1 590.9,170.6 588.6,171.5 586.6,172.7 584.8,174.3 583.4,176.2 582.4,178.3 582.0,180.6 582.0,183.0 582.4,185.4 583.1,187.8 584.0,190.0 585.0,192.1 586.0,194.0 586.9,195.8 587.8,197.5 588.5,199.1 589.2,200.7 589.9,202.3 590.5,203.8 591.2,205.4 592.0,206.8 592.9,208.3 593.9,209.7 594.9,211.0 595.9,212.4 597.0,213.7 598.0,215.2 599.1,216.8 600.1,218.5 601.3,220.3 602.6,222.2 604.1,224.1 605.7,225.9 607.6,227.5 609.7,228.7 612.0,229.4 614.3,229.7 616.6,229.4 618.9,228.7 621.0,227.5 622.9,225.9 624.5,224.1 626.0,222.2 627.3,220.3 628.4,218.5 629.5,216.8 630.6,215.2 631.6,213.7 632.7,212.4 633.7,211.0 634.7,209.7 635.7,208.3 636.6,206.9 637.4,205.4 638.1,203.8 638.7,202.3 639.4,200.7 640.1,199.1 640.8,197.5 641.7,195.8 642.6,194.0" stroke="#3030ff" stroke-width="1.3" fill="none"/><polyline points="560.0,228.0 560.0,227.7 560.0,227.4 559.9,227.1 559.9,226.8 559.8,226.5 559.7,226.2 559.5,226.0 559.4,225.7 559.2,225.4 559.1,225.2 558.9,225.0 558.7,224.7 558.4,224.5 558.2,224.4 558.0,224.2 557.7,224.0 557.4,223.9 557.2,223.8 556.9,223.6 556.6,223.6 556.3,223.5 556.0,223.4 555.7,223.4 555.4,223.4 555.1,223.4 554.8,223.4 554.5,223.5 554.2,223.6 553.9,223.6 553.6,223.8 553.4,223.9 553.1,224.0 552.9,224.2 552.6,224.4 552.4,224.5 552.2,224.7 552.0,225.0 551.8,225.2 551.6,225.4 551.4,225.7 551.3,226.0 551.2,226.2 551.1,226.5 551.0,226.8 550.9,227.1 550.8,227.4 550.8,227.7 550.8,228.0 550.8,228.3 550.8,228.6 550.9,228.9 551.0,229.2 551.1,229.5 551.2,229.8 551.3,230.0 551.4,230.3 551.6,230.6 551.8,230.8 552.0,231.0 552.2,231.3 552.4,231.5 552.6,231.6 552.9,231.8 553.1,232.0 553.4,232.1 553.6,232.2 553.9,232.4 554.2,232.4 554.5,232.5 554.8,232.6 555.1,232.6 555.4,232.6 555.7,232.6 556.0,232.6 556.3,232.5 556.6,232.4 556.9,232.4 557.2,232.2 557.4,232.1 557.7,232.0 558.0,231.8 558.2,231.6 558.4,231.5 558.7,231.3 558.9,231.0 559.1,230.8 559.2,230.6 559.4,230.3 559.5,230.0 559.7,229.8 559.8,229.5 559.9,229.2 559.9,228.9 560.0,228.6 560.0,228.3 560.0,228.0" stroke="#3030ff" stroke-width="1.1" fill="none"/><polyline points="558.0,228.0 558.0,227.8 558.0,227.7 558.0,227.5 557.9,227.3 557.9,227.2 557.8,227.0 557.7,226.9 557.7,226.7 557.6,226.6 557.5,226.4 557.4,226.3 557.2,226.2 557.1,226.0 557.0,225.9 556.9,225.8 556.7,225.7 556.6,225.7 556.4,225.6 556.2,225.5 556.1,225.5 555.9,225.4 555.7,225.4 555.6,225.4 555.4,225.4 555.2,225.4 555.1,225.4 554.9,225.4 554.7,225.5 554.6,225.5 554.4,225.6 554.3,225.7 554.1,225.7 554.0,225.8 553.8,225.9 553.7,226.0 553.6,226.2 553.5,226.3 553.3,226.4 553.2,226.6 553.2,226.7 553.1,226.9 553.0,227.0 552.9,227.2 552.9,227.3 552.9,227.5 552.8,227.7 552.8,227.8 552.8,228.0 552.8,228.2 552.8,228.3 552.9,228.5 552.9,228.7 552.9,228.8 553.0,229.0 553.1,229.1 553.2,229.3 553.2,229.4 553.3,229.6 553.5,229.7 553.6,229.8 553.7,230.0 553.8,230.1 554.0,230.2 554.1,230.3 554.3,230.3 554.4,230.4 554.6,230.5 554.7,230.5 554.9,230.6 555.1,230.6 555.2,230.6 555.4,230.6 555.6,230.6 555.7,230.6 555.9,230.6 556.1,230.5 556.2,230.5 556.4,230.4 556.6,230.3 556.7,230.3 556.9,230.2 557.0,230.1 557.1,230.0 557.2,229.8 557.4,229.7 557.5,229.6 557.6,229.4 557.7,229.3 557.7,229.1 557.8,229.0 557.9,228.8 557.9,228.7 558.0,228.5 558.0,228.3 558.0,228.2 558.0,228.0" stroke="#3030ff" stroke-width="0.9" fill="none"/><circle cx="546.92" cy="223.10" r="26.3" stroke="#ff2a2a" stroke-width="1.4"/><polyline points="579.7,228.0 578.8,226.5 578.0,225.0 577.2,223.7 576.6,222.3 576.1,221.0 575.5,219.7 574.9,218.4 574.2,217.2 573.5,215.9 572.6,214.8 571.8,213.6 570.9,212.5 570.1,211.3 569.3,210.0 568.4,208.5 567.6,207.0 566.6,205.2 565.6,203.5 564.4,201.7 562.9,200.0 561.3,198.5 559.5,197.3 557.5,196.6 555.4,196.3 553.3,196.6 551.4,197.3 549.5,198.5 547.9,200.0 546.5,201.7 545.2,203.5 544.2,205.2 543.3,207.0 542.4,208.5 541.6,210.0 540.7,211.3 539.9,212.5 539.0,213.6 538.2,214.8 537.4,215.9 536.6,217.2 535.9,218.4 535.3,219.7 534.8,221.0 534.2,222.3 533.6,223.7 532.9,225.0 532.0,226.5 531.1,228.0 530.1,229.7 529.1,231.5 528.1,233.4 527.4,235.5 526.9,237.7 526.8,239.9 527.1,241.9 528.0,243.8 529.2,245.5 530.8,246.9 532.8,247.9 534.9,248.5 537.1,248.9 539.2,249.1 541.3,249.1 543.3,249.0 545.1,249.0 546.7,249.0 548.3,249.1 549.7,249.2 551.2,249.4 552.6,249.5 554.0,249.7 555.4,249.7 556.8,249.7 558.2,249.5 559.7,249.4 561.1,249.2 562.6,249.1 564.1,249.0 565.8,249.0 567.6,249.0 569.5,249.1 571.6,249.1 573.8,248.9 575.9,248.5 578.1,247.9 580.0,246.9 581.6,245.5 582.9,243.9 583.7,241.9 584.0,239.9 583.9,237.7 583.5,235.5 582.7,233.4 581.7,231.5 580.7,229.7 579.7,228.0" stroke="#3030ff" stroke-width="1.3" fill="none"/><polyline points="583.7,228.0 582.8,226.2 581.9,224.5 581.2,222.9 580.5,221.3 579.8,219.7 579.2,218.2 578.5,216.6 577.7,215.2 576.8,213.7 575.8,212.3 574.8,211.0 573.8,209.6 572.7,208.3 571.7,206.8 570.6,205.2 569.6,203.5 568.4,201.7 567.1,199.8 565.6,197.9 564.0,196.1 562.1,194.5 560.0,193.3 557.7,192.6 555.4,192.3 553.1,192.6 550.8,193.3 548.8,194.5 546.9,196.1 545.2,197.9 543.7,199.8 542.4,201.7 541.3,203.5 540.2,205.2 539.1,206.8 538.1,208.3 537.1,209.6 536.0,211.0 535.0,212.3 534.0,213.7 533.2,215.2 532.4,216.6 531.6,218.2 531.0,219.7 530.3,221.3 529.7,222.9 528.9,224.5 528.1,226.2 527.1,228.0 526.1,229.9 525.1,232.0 524.2,234.2 523.5,236.6 523.1,239.0 523.1,241.4 523.6,243.7 524.5,245.8 525.9,247.7 527.7,249.3 529.8,250.5 532.1,251.4 534.4,251.9 536.8,252.2 539.1,252.4 541.3,252.5 543.3,252.6 545.2,252.7 547.0,252.9 548.7,253.1 550.4,253.3 552.1,253.5 553.7,253.6 555.4,253.7 557.1,253.6 558.8,253.5 560.4,253.3 562.1,253.1 563.9,252.9 565.6,252.7 567.5,252.6 569.6,252.5 571.7,252.4 574.0,252.2 576.4,251.9 578.8,251.4 581.1,250.5 583.2,249.3 584.9,247.7 586.3,245.9 587.3,243.7 587.7,241.4 587.7,239.0 587.3,236.6 586.6,234.2 585.7,232.0 584.7,229.9 583.7,228.0" stroke="#3030ff" stroke-width="1.3" fill="none"/><polyline points="560.0,296.0 560.0,295.7 560.0,295.4 559.9,295.1 559.9,294.8 559.8,294.5 559.7,294.2 559.5,294.0 559.4,293.7 559.2,293.4 559.1,293.2 558.9,293.0 558.7,292.7 558.4,292.5 558.2,292.4 558.0,292.2 557.7,292.0 557.4,291.9 557.2,291.8 556.9,291.6 556.6,291.6 556.3,291.5 556.0,291.4 555.7,291.4 555.4,291.4 555.1,291.4 554.8,291.4 554.5,291.5 554.2,291.6 553.9,291.6 553.6,291.8 553.4,291.9 553.1,292.0 552.9,292.2 552.6,292.4 552.4,292.5 552.2,292.7 552.0,293.0 551.8,293.2 551.6,293.4 551.4,293.7 551.3,294.0 551.2,294.2 551.1,294.5 551.0,294.8 550.9,295.1 550.8,295.4 550.8,295.7 550.8,296.0 550.8,296.3 550.8,296.6 550.9,296.9 551.0,297.2 551.1,297.5 551.2,297.8 551.3,298.0 551.4,298.3 551.6,298.6 551.8,298.8 552.0,299.0 552.2,299.3 552.4,299.5 552.6,299.6 552.9,299.8 553.1,300.0 553.4,300.1 553.6,300.2 553.9,300.4 554.2,300.4 554.5,300.5 554.8,300.6 555.1,300.6 555.4,300.6 555.7,300.6 556.0,300.6 556.3,300.5 556.6,300.4 556.9,300.4 557.2,300.2 557.4,300.1 557.7,300.0 558.0,299.8 558.2,299.6 558.4,299.5 558.7,299.3 558.9,299.0 559.1,298.8 559.2,298.6 559.4,298.3 559.5,298.0 559.7,297.8 559.8,297.5 559.9,297.2 559.9,296.9 560.0,296.6 560.0,296.3 560.0,296.0" stroke="#3030ff" stroke-width="1.1" fill="none"/><polyline points="558.0,296.0 558.0,295.8 558.0,295.7 558.0,295.5 557.9,295.3 557.9,295.2 557.8,295.0 557.7,294.9 557.7,294.7 557.6,294.6 557.5,294.4 557.4,294.3 557.2,294.2 557.1,294.0 557.0,293.9 556.9,293.8 556.7,293.7 556.6,293.7 556.4,293.6 556.2,293.5 556.1,293.5 555.9,293.4 555.7,293.4 555.6,293.4 555.4,293.4 555.2,293.4 555.1,293.4 554.9,293.4 554.7,293.5 554.6,293.5 554.4,293.6 554.3,293.7 554.1,293.7 554.0,293.8 553.8,293.9 553.7,294.0 553.6,294.2 553.5,294.3 553.3,294.4 553.2,294.6 553.2,294.7 553.1,294.9 553.0,295.0 552.9,295.2 552.9,295.3 552.9,295.5 552.8,295.7 552.8,295.8 552.8,296.0 552.8,296.2 552.8,296.3 552.9,296.5 552.9,296.7 552.9,296.8 553.0,297.0 553.1,297.1 553.2,297.3 553.2,297.4 553.3,297.6 553.5,297.7 553.6,297.8 553.7,298.0 553.8,298.1 554.0,298.2 554.1,298.3 554.3,298.3 554.4,298.4 554.6,298.5 554.7,298.5 554.9,298.6 555.1,298.6 555.2,298.6 555.4,298.6 555.6,298.6 555.7,298.6 555.9,298.6 556.1,298.5 556.2,298.5 556.4,298.4 556.6,298.3 556.7,298.3 556.9,298.2 557.0,298.1 557.1,298.0 557.2,297.8 557.4,297.7 557.5,297.6 557.6,297.4 557.7,297.3 557.7,297.1 557.8,297.0 557.9,296.8 557.9,296.7 558.0,296.5 558.0,296.3 558.0,296.2 558.0,296.0" stroke="#3030ff" stroke-width="0.9" fill="none"/><circle cx="546.92" cy="300.90" r="26.3" stroke="#ff2a2a" stroke-width="1.4"/><polyline points="579.7,296.0 580.7,294.3 581.7,292.5 582.7,290.6 583.5,288.5 583.9,286.3 584.0,284.1 583.7,282.1 582.9,280.1 581.6,278.5 580.0,277.1 578.1,276.1 575.9,275.5 573.8,275.1 571.6,274.9 569.5,274.9 567.6,275.0 565.8,275.0 564.1,275.0 562.6,274.9 561.1,274.8 559.7,274.6 558.2,274.5 556.8,274.3 555.4,274.3 554.0,274.3 552.6,274.5 551.2,274.6 549.7,274.8 548.3,274.9 546.7,275.0 545.1,275.0 543.3,275.0 541.3,274.9 539.2,274.9 537.1,275.1 534.9,275.5 532.8,276.1 530.8,277.1 529.2,278.5 528.0,280.1 527.1,282.1 526.8,284.1 526.9,286.3 527.4,288.5 528.1,290.6 529.1,292.5 530.1,294.3 531.1,296.0 532.0,297.5 532.9,299.0 533.6,300.3 534.2,301.7 534.8,303.0 535.3,304.3 535.9,305.6 536.6,306.9 537.4,308.1 538.2,309.2 539.0,310.4 539.9,311.5 540.7,312.7 541.6,314.0 542.4,315.5 543.3,317.0 544.2,318.8 545.2,320.5 546.5,322.3 547.9,324.0 549.5,325.5 551.4,326.7 553.3,327.4 555.4,327.7 557.5,327.4 559.5,326.7 561.3,325.5 562.9,324.0 564.4,322.3 565.6,320.5 566.6,318.8 567.6,317.0 568.4,315.5 569.3,314.0 570.1,312.7 570.9,311.5 571.8,310.4 572.6,309.2 573.5,308.1 574.2,306.9 574.9,305.6 575.5,304.3 576.1,303.0 576.6,301.7 577.2,300.3 578.0,299.0 578.8,297.5 579.7,296.0" stroke="#3030ff" stroke-width="1.3" fill="none"/><polyline points="583.7,296.0 584.7,294.1 585.7,292.0 586.6,289.8 587.3,287.4 587.7,285.0 587.7,282.6 587.3,280.3 586.3,278.1 584.9,276.3 583.2,274.7 581.1,273.5 578.8,272.6 576.4,272.1 574.0,271.8 571.7,271.6 569.6,271.5 567.5,271.4 565.6,271.3 563.9,271.1 562.1,270.9 560.4,270.7 558.8,270.5 557.1,270.4 555.4,270.3 553.7,270.4 552.1,270.5 550.4,270.7 548.7,270.9 547.0,271.1 545.2,271.3 543.3,271.4 541.3,271.5 539.1,271.6 536.8,271.8 534.4,272.1 532.1,272.6 529.8,273.5 527.7,274.7 525.9,276.3 524.5,278.1 523.6,280.3 523.1,282.6 523.1,285.0 523.5,287.4 524.2,289.8 525.1,292.0 526.1,294.1 527.1,296.0 528.1,297.8 528.9,299.5 529.7,301.1 530.3,302.7 531.0,304.3 531.6,305.8 532.4,307.4 533.2,308.9 534.0,310.3 535.0,311.7 536.0,313.0 537.1,314.4 538.1,315.7 539.1,317.2 540.2,318.8 541.3,320.5 542.4,322.3 543.7,324.2 545.2,326.1 546.9,327.9 548.8,329.5 550.8,330.7 553.1,331.4 555.4,331.7 557.7,331.4 560.0,330.7 562.1,329.5 564.0,327.9 565.6,326.1 567.1,324.2 568.4,322.3 569.6,320.5 570.6,318.8 571.7,317.2 572.7,315.7 573.8,314.4 574.8,313.0 575.8,311.7 576.8,310.3 577.7,308.9 578.5,307.4 579.2,305.8 579.8,304.3 580.5,302.7 581.2,301.1 581.9,299.5 582.8,297.8 583.7,296.0" stroke="#3030ff" stroke-width="1.3" fill="none"/><polyline points="618.9,330.0 618.9,329.7 618.9,329.4 618.8,329.1 618.7,328.8 618.7,328.5 618.5,328.2 618.4,328.0 618.3,327.7 618.1,327.4 617.9,327.2 617.8,327.0 617.6,326.7 617.3,326.5 617.1,326.4 616.9,326.2 616.6,326.0 616.3,325.9 616.1,325.8 615.8,325.6 615.5,325.6 615.2,325.5 614.9,325.4 614.6,325.4 614.3,325.4 614.0,325.4 613.7,325.4 613.4,325.5 613.1,325.6 612.8,325.6 612.5,325.8 612.3,325.9 612.0,326.0 611.7,326.2 611.5,326.4 611.3,326.5 611.0,326.7 610.8,327.0 610.7,327.2 610.5,327.4 610.3,327.7 610.2,328.0 610.1,328.2 609.9,328.5 609.9,328.8 609.8,329.1 609.7,329.4 609.7,329.7 609.7,330.0 609.7,330.3 609.7,330.6 609.8,330.9 609.9,331.2 609.9,331.5 610.1,331.8 610.2,332.0 610.3,332.3 610.5,332.6 610.7,332.8 610.8,333.0 611.0,333.3 611.3,333.5 611.5,333.6 611.7,333.8 612.0,334.0 612.3,334.1 612.5,334.2 612.8,334.4 613.1,334.4 613.4,334.5 613.7,334.6 614.0,334.6 614.3,334.6 614.6,334.6 614.9,334.6 615.2,334.5 615.5,334.4 615.8,334.4 616.1,334.2 616.3,334.1 616.6,334.0 616.9,333.8 617.1,333.6 617.3,333.5 617.6,333.3 617.8,333.0 617.9,332.8 618.1,332.6 618.3,332.3 618.4,332.0 618.5,331.8 618.7,331.5 618.7,331.2 618.8,330.9 618.9,330.6 618.9,330.3 618.9,330.0" stroke="#3030ff" stroke-width="1.1" fill="none"/><polyline points="616.9,330.0 616.9,329.8 616.9,329.7 616.9,329.5 616.8,329.3 616.8,329.2 616.7,329.0 616.6,328.9 616.6,328.7 616.5,328.6 616.4,328.4 616.3,328.3 616.1,328.2 616.0,328.0 615.9,327.9 615.7,327.8 615.6,327.7 615.4,327.7 615.3,327.6 615.1,327.5 615.0,327.5 614.8,327.4 614.6,327.4 614.5,327.4 614.3,327.4 614.1,327.4 614.0,327.4 613.8,327.4 613.6,327.5 613.5,327.5 613.3,327.6 613.2,327.7 613.0,327.7 612.9,327.8 612.7,327.9 612.6,328.0 612.5,328.2 612.3,328.3 612.2,328.4 612.1,328.6 612.0,328.7 612.0,328.9 611.9,329.0 611.8,329.2 611.8,329.3 611.7,329.5 611.7,329.7 611.7,329.8 611.7,330.0 611.7,330.2 611.7,330.3 611.7,330.5 611.8,330.7 611.8,330.8 611.9,331.0 612.0,331.1 612.0,331.3 612.1,331.4 612.2,331.6 612.3,331.7 612.5,331.8 612.6,332.0 612.7,332.1 612.9,332.2 613.0,332.3 613.2,332.3 613.3,332.4 613.5,332.5 613.6,332.5 613.8,332.6 614.0,332.6 614.1,332.6 614.3,332.6 614.5,332.6 614.6,332.6 614.8,332.6 615.0,332.5 615.1,332.5 615.3,332.4 615.4,332.3 615.6,332.3 615.7,332.2 615.9,332.1 616.0,332.0 616.1,331.8 616.3,331.7 616.4,331.6 616.5,331.4 616.6,331.3 616.6,331.1 616.7,331.0 616.8,330.8 616.8,330.7 616.9,330.5 616.9,330.3 616.9,330.2 616.9,330.0" stroke="#3030ff" stroke-width="0.9" fill="none"/><circle cx="614.30" cy="339.80" r="26.3" stroke="#ff2a2a" stroke-width="1.4"/><polyline points="638.6,330.0 637.7,328.5 636.8,327.0 636.1,325.7 635.5,324.3 634.9,323.0 634.4,321.7 633.8,320.4 633.1,319.1 632.3,317.9 631.5,316.8 630.7,315.6 629.8,314.5 629.0,313.3 628.1,312.0 627.3,310.5 626.4,309.0 625.5,307.2 624.5,305.5 623.2,303.7 621.8,302.0 620.2,300.5 618.3,299.3 616.4,298.6 614.3,298.3 612.2,298.6 610.3,299.3 608.4,300.5 606.8,302.0 605.4,303.7 604.1,305.5 603.1,307.2 602.1,309.0 601.3,310.5 600.5,312.0 599.6,313.3 598.8,314.5 597.9,315.6 597.1,316.8 596.3,317.9 595.5,319.1 594.8,320.4 594.2,321.7 593.7,323.0 593.1,324.3 592.5,325.7 591.8,327.0 590.9,328.5 590.0,330.0 589.0,331.7 588.0,333.5 587.0,335.4 586.3,337.5 585.8,339.7 585.7,341.9 586.0,343.9 586.8,345.9 588.1,347.5 589.7,348.9 591.7,349.9 593.8,350.5 596.0,350.9 598.1,351.1 600.2,351.1 602.1,351.0 603.9,351.0 605.6,351.0 607.1,351.1 608.6,351.2 610.0,351.4 611.5,351.5 612.9,351.7 614.3,351.7 615.7,351.7 617.1,351.5 618.6,351.4 620.0,351.2 621.5,351.1 623.0,351.0 624.7,351.0 626.4,351.0 628.4,351.1 630.5,351.1 632.6,350.9 634.8,350.5 636.9,349.9 638.9,348.9 640.5,347.5 641.8,345.9 642.6,343.9 642.9,341.9 642.8,339.7 642.3,337.5 641.6,335.4 640.6,333.5 639.6,331.7 638.6,330.0" stroke="#3030ff" stroke-width="1.3" fill="none"/><polyline points="642.6,330.0 641.7,328.2 640.8,326.5 640.1,324.9 639.4,323.3 638.7,321.7 638.1,320.2 637.4,318.6 636.6,317.1 635.7,315.7 634.7,314.3 633.7,313.0 632.7,311.6 631.6,310.3 630.6,308.8 629.5,307.2 628.4,305.5 627.3,303.7 626.0,301.8 624.5,299.9 622.9,298.1 621.0,296.5 618.9,295.3 616.6,294.6 614.3,294.3 612.0,294.6 609.7,295.3 607.6,296.5 605.7,298.1 604.1,299.9 602.6,301.8 601.3,303.7 600.1,305.5 599.1,307.2 598.0,308.8 597.0,310.3 595.9,311.6 594.9,313.0 593.9,314.3 592.9,315.7 592.0,317.1 591.2,318.6 590.5,320.2 589.9,321.7 589.2,323.3 588.5,324.9 587.8,326.5 586.9,328.2 586.0,330.0 585.0,331.9 584.0,334.0 583.1,336.2 582.4,338.6 582.0,341.0 582.0,343.4 582.4,345.7 583.4,347.9 584.8,349.7 586.6,351.3 588.6,352.5 590.9,353.4 593.3,353.9 595.7,354.2 598.0,354.4 600.1,354.5 602.2,354.6 604.1,354.7 605.9,354.9 607.6,355.1 609.3,355.3 610.9,355.5 612.6,355.6 614.3,355.7 616.0,355.6 617.7,355.5 619.3,355.3 621.0,355.1 622.7,354.9 624.5,354.7 626.4,354.6 628.4,354.5 630.6,354.4 632.9,354.2 635.3,353.9 637.7,353.4 640.0,352.5 642.0,351.3 643.8,349.7 645.2,347.9 646.2,345.7 646.6,343.4 646.6,341.0 646.2,338.6 645.5,336.2 644.6,334.0 643.6,331.9 642.6,330.0" stroke="#3030ff" stroke-width="1.3" fill="none"/><polyline points="677.8,296.0 677.8,295.7 677.8,295.4 677.7,295.1 677.6,294.8 677.5,294.5 677.4,294.2 677.3,294.0 677.2,293.7 677.0,293.4 676.8,293.2 676.6,293.0 676.4,292.7 676.2,292.5 676.0,292.4 675.7,292.2 675.5,292.0 675.2,291.9 675.0,291.8 674.7,291.6 674.4,291.6 674.1,291.5 673.8,291.4 673.5,291.4 673.2,291.4 672.9,291.4 672.6,291.4 672.3,291.5 672.0,291.6 671.7,291.6 671.4,291.8 671.2,291.9 670.9,292.0 670.6,292.2 670.4,292.4 670.2,292.5 669.9,292.7 669.7,293.0 669.5,293.2 669.4,293.4 669.2,293.7 669.1,294.0 668.9,294.2 668.8,294.5 668.7,294.8 668.7,295.1 668.6,295.4 668.6,295.7 668.6,296.0 668.6,296.3 668.6,296.6 668.7,296.9 668.7,297.2 668.8,297.5 668.9,297.8 669.1,298.0 669.2,298.3 669.4,298.6 669.5,298.8 669.7,299.0 669.9,299.3 670.2,299.5 670.4,299.6 670.6,299.8 670.9,300.0 671.2,300.1 671.4,300.2 671.7,300.4 672.0,300.4 672.3,300.5 672.6,300.6 672.9,300.6 673.2,300.6 673.5,300.6 673.8,300.6 674.1,300.5 674.4,300.4 674.7,300.4 675.0,300.2 675.2,300.1 675.5,300.0 675.7,299.8 676.0,299.6 676.2,299.5 676.4,299.3 676.6,299.0 676.8,298.8 677.0,298.6 677.2,298.3 677.3,298.0 677.4,297.8 677.5,297.5 677.6,297.2 677.7,296.9 677.8,296.6 677.8,296.3 677.8,296.0" stroke="#3030ff" stroke-width="1.1" fill="none"/><polyline points="675.8,296.0 675.8,295.8 675.8,295.7 675.7,295.5 675.7,295.3 675.7,295.2 675.6,295.0 675.5,294.9 675.4,294.7 675.4,294.6 675.3,294.4 675.1,294.3 675.0,294.2 674.9,294.0 674.8,293.9 674.6,293.8 674.5,293.7 674.3,293.7 674.2,293.6 674.0,293.5 673.9,293.5 673.7,293.4 673.5,293.4 673.4,293.4 673.2,293.4 673.0,293.4 672.9,293.4 672.7,293.4 672.5,293.5 672.4,293.5 672.2,293.6 672.0,293.7 671.9,293.7 671.7,293.8 671.6,293.9 671.5,294.0 671.4,294.2 671.2,294.3 671.1,294.4 671.0,294.6 670.9,294.7 670.9,294.9 670.8,295.0 670.7,295.2 670.7,295.3 670.6,295.5 670.6,295.7 670.6,295.8 670.6,296.0 670.6,296.2 670.6,296.3 670.6,296.5 670.7,296.7 670.7,296.8 670.8,297.0 670.9,297.1 670.9,297.3 671.0,297.4 671.1,297.6 671.2,297.7 671.4,297.8 671.5,298.0 671.6,298.1 671.7,298.2 671.9,298.3 672.0,298.3 672.2,298.4 672.4,298.5 672.5,298.5 672.7,298.6 672.9,298.6 673.0,298.6 673.2,298.6 673.4,298.6 673.5,298.6 673.7,298.6 673.9,298.5 674.0,298.5 674.2,298.4 674.3,298.3 674.5,298.3 674.6,298.2 674.8,298.1 674.9,298.0 675.0,297.8 675.1,297.7 675.3,297.6 675.4,297.4 675.4,297.3 675.5,297.1 675.6,297.0 675.7,296.8 675.7,296.7 675.7,296.5 675.8,296.3 675.8,296.2 675.8,296.0" stroke="#3030ff" stroke-width="0.9" fill="none"/><circle cx="681.68" cy="300.90" r="26.3" stroke="#ff2a2a" stroke-width="1.4"/><polyline points="697.5,296.0 698.5,294.3 699.5,292.5 700.5,290.6 701.2,288.5 701.7,286.3 701.8,284.1 701.5,282.1 700.6,280.1 699.4,278.5 697.8,277.1 695.8,276.1 693.7,275.5 691.5,275.1 689.4,274.9 687.3,274.9 685.3,275.0 683.5,275.0 681.9,275.0 680.3,274.9 678.9,274.8 677.4,274.6 676.0,274.5 674.6,274.3 673.2,274.3 671.8,274.3 670.4,274.5 668.9,274.6 667.5,274.8 666.0,274.9 664.5,275.0 662.8,275.0 661.0,275.0 659.1,274.9 657.0,274.9 654.8,275.1 652.7,275.5 650.5,276.1 648.6,277.1 647.0,278.5 645.7,280.1 644.9,282.1 644.6,284.1 644.7,286.3 645.1,288.5 645.9,290.6 646.9,292.5 647.9,294.3 648.9,296.0 649.8,297.5 650.6,299.0 651.4,300.3 652.0,301.7 652.5,303.0 653.1,304.3 653.7,305.6 654.4,306.9 655.1,308.1 656.0,309.2 656.8,310.4 657.7,311.5 658.5,312.7 659.3,314.0 660.2,315.5 661.0,317.0 662.0,318.8 663.0,320.5 664.2,322.3 665.7,324.0 667.3,325.5 669.1,326.7 671.1,327.4 673.2,327.7 675.3,327.4 677.2,326.7 679.1,325.5 680.7,324.0 682.1,322.3 683.4,320.5 684.4,318.8 685.3,317.0 686.2,315.5 687.0,314.0 687.9,312.7 688.7,311.5 689.6,310.4 690.4,309.2 691.2,308.1 692.0,306.9 692.7,305.6 693.3,304.3 693.8,303.0 694.4,301.7 695.0,300.3 695.7,299.0 696.6,297.5 697.5,296.0" stroke="#3030ff" stroke-width="1.3" fill="none"/><polyline points="701.5,296.0 702.5,294.1 703.5,292.0 704.4,289.8 705.1,287.4 705.5,285.0 705.5,282.6 705.0,280.3 704.1,278.1 702.7,276.3 700.9,274.7 698.8,273.5 696.5,272.6 694.2,272.1 691.8,271.8 689.5,271.6 687.3,271.5 685.3,271.4 683.4,271.3 681.6,271.1 679.9,270.9 678.2,270.7 676.5,270.5 674.9,270.4 673.2,270.3 671.5,270.4 669.8,270.5 668.2,270.7 666.5,270.9 664.7,271.1 663.0,271.3 661.1,271.4 659.0,271.5 656.9,271.6 654.6,271.8 652.2,272.1 649.8,272.6 647.5,273.5 645.4,274.7 643.7,276.3 642.3,278.1 641.3,280.3 640.9,282.6 640.9,285.0 641.3,287.4 642.0,289.8 642.9,292.0 643.9,294.1 644.9,296.0 645.8,297.8 646.7,299.5 647.4,301.1 648.1,302.7 648.8,304.3 649.4,305.8 650.1,307.4 650.9,308.9 651.8,310.3 652.8,311.7 653.8,313.0 654.8,314.4 655.9,315.7 656.9,317.2 658.0,318.8 659.0,320.5 660.2,322.3 661.5,324.2 663.0,326.1 664.6,327.9 666.5,329.5 668.6,330.7 670.9,331.4 673.2,331.7 675.5,331.4 677.8,330.7 679.8,329.5 681.7,327.9 683.4,326.1 684.9,324.2 686.2,322.3 687.3,320.5 688.4,318.8 689.5,317.2 690.5,315.7 691.5,314.4 692.6,313.0 693.6,311.7 694.6,310.3 695.4,308.9 696.2,307.4 697.0,305.8 697.6,304.3 698.3,302.7 698.9,301.1 699.7,299.5 700.5,297.8 701.5,296.0" stroke="#3030ff" stroke-width="1.3" fill="none"/><polyline points="677.8,228.0 677.8,227.7 677.8,227.4 677.7,227.1 677.6,226.8 677.5,226.5 677.4,226.2 677.3,226.0 677.2,225.7 677.0,225.4 676.8,225.2 676.6,225.0 676.4,224.7 676.2,224.5 676.0,224.4 675.7,224.2 675.5,224.0 675.2,223.9 675.0,223.8 674.7,223.6 674.4,223.6 674.1,223.5 673.8,223.4 673.5,223.4 673.2,223.4 672.9,223.4 672.6,223.4 672.3,223.5 672.0,223.6 671.7,223.6 671.4,223.8 671.2,223.9 670.9,224.0 670.6,224.2 670.4,224.4 670.2,224.5 669.9,224.7 669.7,225.0 669.5,225.2 669.4,225.4 669.2,225.7 669.1,226.0 668.9,226.2 668.8,226.5 668.7,226.8 668.7,227.1 668.6,227.4 668.6,227.7 668.6,228.0 668.6,228.3 668.6,228.6 668.7,228.9 668.7,229.2 668.8,229.5 668.9,229.8 669.1,230.0 669.2,230.3 669.4,230.6 669.5,230.8 669.7,231.0 669.9,231.3 670.2,231.5 670.4,231.6 670.6,231.8 670.9,232.0 671.2,232.1 671.4,232.2 671.7,232.4 672.0,232.4 672.3,232.5 672.6,232.6 672.9,232.6 673.2,232.6 673.5,232.6 673.8,232.6 674.1,232.5 674.4,232.4 674.7,232.4 675.0,232.2 675.2,232.1 675.5,232.0 675.7,231.8 676.0,231.6 676.2,231.5 676.4,231.3 676.6,231.0 676.8,230.8 677.0,230.6 677.2,230.3 677.3,230.0 677.4,229.8 677.5,229.5 677.6,229.2 677.7,228.9 677.8,228.6 677.8,228.3 677.8,228.0" stroke="#3030ff" stroke-width="1.1" fill="none"/><polyline points="675.8,228.0 675.8,227.8 675.8,227.7 675.7,227.5 675.7,227.3 675.7,227.2 675.6,227.0 675.5,226.9 675.4,226.7 675.4,226.6 675.3,226.4 675.1,226.3 675.0,226.2 674.9,226.0 674.8,225.9 674.6,225.8 674.5,225.7 674.3,225.7 674.2,225.6 674.0,225.5 673.9,225.5 673.7,225.4 673.5,225.4 673.4,225.4 673.2,225.4 673.0,225.4 672.9,225.4 672.7,225.4 672.5,225.5 672.4,225.5 672.2,225.6 672.0,225.7 671.9,225.7 671.7,225.8 671.6,225.9 671.5,226.0 671.4,226.2 671.2,226.3 671.1,226.4 671.0,226.6 670.9,226.7 670.9,226.9 670.8,227.0 670.7,227.2 670.7,227.3 670.6,227.5 670.6,227.7 670.6,227.8 670.6,228.0 670.6,228.2 670.6,228.3 670.6,228.5 670.7,228.7 670.7,228.8 670.8,229.0 670.9,229.1 670.9,229.3 671.0,229.4 671.1,229.6 671.2,229.7 671.4,229.8 671.5,230.0 671.6,230.1 671.7,230.2 671.9,230.3 672.0,230.3 672.2,230.4 672.4,230.5 672.5,230.5 672.7,230.6 672.9,230.6 673.0,230.6 673.2,230.6 673.4,230.6 673.5,230.6 673.7,230.6 673.9,230.5 674.0,230.5 674.2,230.4 674.3,230.3 674.5,230.3 674.6,230.2 674.8,230.1 674.9,230.0 675.0,229.8 675.1,229.7 675.3,229.6 675.4,229.4 675.4,229.3 675.5,229.1 675.6,229.0 675.7,228.8 675.7,228.7 675.7,228.5 675.8,228.3 675.8,228.2 675.8,228.0" stroke="#3030ff" stroke-width="0.9" fill="none"/><circle cx="681.68" cy="223.10" r="26.3" stroke="#ff2a2a" stroke-width="1.4"/><polyline points="697.5,228.0 696.6,226.5 695.7,225.0 695.0,223.7 694.4,222.3 693.8,221.0 693.3,219.7 692.7,218.4 692.0,217.2 691.2,215.9 690.4,214.8 689.6,213.6 688.7,212.5 687.9,211.3 687.0,210.0 686.2,208.5 685.3,207.0 684.4,205.2 683.4,203.5 682.1,201.7 680.7,200.0 679.1,198.5 677.2,197.3 675.3,196.6 673.2,196.3 671.1,196.6 669.1,197.3 667.3,198.5 665.7,200.0 664.2,201.7 663.0,203.5 662.0,205.2 661.0,207.0 660.2,208.5 659.3,210.0 658.5,211.3 657.7,212.5 656.8,213.6 656.0,214.8 655.1,215.9 654.4,217.2 653.7,218.4 653.1,219.7 652.5,221.0 652.0,222.3 651.4,223.7 650.6,225.0 649.8,226.5 648.9,228.0 647.9,229.7 646.9,231.5 645.9,233.4 645.1,235.5 644.7,237.7 644.6,239.9 644.9,241.9 645.7,243.8 647.0,245.5 648.6,246.9 650.5,247.9 652.7,248.5 654.8,248.9 657.0,249.1 659.1,249.1 661.0,249.0 662.8,249.0 664.5,249.0 666.0,249.1 667.5,249.2 668.9,249.4 670.4,249.5 671.8,249.7 673.2,249.7 674.6,249.7 676.0,249.5 677.4,249.4 678.9,249.2 680.3,249.1 681.9,249.0 683.5,249.0 685.3,249.0 687.3,249.1 689.4,249.1 691.5,248.9 693.7,248.5 695.8,247.9 697.8,246.9 699.4,245.5 700.6,243.9 701.5,241.9 701.8,239.9 701.7,237.7 701.2,235.5 700.5,233.4 699.5,231.5 698.5,229.7 697.5,228.0" stroke="#3030ff" stroke-width="1.3" fill="none"/><polyline points="701.5,228.0 700.5,226.2 699.7,224.5 698.9,222.9 698.3,221.3 697.6,219.7 697.0,218.2 696.2,216.6 695.4,215.2 694.6,213.7 693.6,212.3 692.6,211.0 691.5,209.6 690.5,208.3 689.5,206.8 688.4,205.2 687.3,203.5 686.2,201.7 684.9,199.8 683.4,197.9 681.7,196.1 679.8,194.5 677.8,193.3 675.5,192.6 673.2,192.3 670.9,192.6 668.6,193.3 666.5,194.5 664.6,196.1 663.0,197.9 661.5,199.8 660.2,201.7 659.0,203.5 658.0,205.2 656.9,206.8 655.9,208.3 654.8,209.6 653.8,211.0 652.8,212.3 651.8,213.7 650.9,215.2 650.1,216.6 649.4,218.2 648.8,219.7 648.1,221.3 647.4,222.9 646.7,224.5 645.8,226.2 644.9,228.0 643.9,229.9 642.9,232.0 642.0,234.2 641.3,236.6 640.9,239.0 640.9,241.4 641.3,243.7 642.3,245.8 643.7,247.7 645.4,249.3 647.5,250.5 649.8,251.4 652.2,251.9 654.6,252.2 656.9,252.4 659.0,252.5 661.1,252.6 663.0,252.7 664.7,252.9 666.5,253.1 668.2,253.3 669.8,253.5 671.5,253.6 673.2,253.7 674.9,253.6 676.5,253.5 678.2,253.3 679.9,253.1 681.6,252.9 683.4,252.7 685.3,252.6 687.3,252.5 689.5,252.4 691.8,252.2 694.2,251.9 696.5,251.4 698.8,250.5 700.9,249.3 702.7,247.7 704.1,245.9 705.0,243.7 705.5,241.4 705.5,239.0 705.1,236.6 704.4,234.2 703.5,232.0 702.5,229.9 701.5,228.0" stroke="#3030ff" stroke-width="1.3" fill="none"/></g><text x="581.5" y="370" font-size="10" font-weight="normal" text-anchor="middle" fill="#222" >-0.5</text><text x="614.3" y="370" font-size="10" font-weight="normal" text-anchor="middle" fill="#222" >0.0</text><text x="646.8" y="370" font-size="10" font-weight="normal" text-anchor="middle" fill="#222" >0.5</text><text x="54.6" y="16.6" font-size="23.5" font-weight="bold" text-anchor="start" fill="#000" >a</text><text x="216.2" y="16.8" font-size="23.5" font-weight="bold" text-anchor="start" fill="#000" >b</text><text x="385.3" y="16.9" font-size="23.5" font-weight="bold" text-anchor="start" fill="#000" >c</text><text x="538.6" y="16.6" font-size="23.5" font-weight="bold" text-anchor="start" fill="#000" >d</text><text x="54.2" y="465.6" font-size="23.5" font-weight="bold" text-anchor="start" fill="#000" >e</text><text x="384.6" y="465" font-size="23.5" font-weight="bold" text-anchor="start" fill="#000" >f</text><text x="17.2" y="121.4" font-size="22.7" font-weight="bold" text-anchor="start" fill="#000" transform="rotate(-90 17.2 121.4)" >1 QL</text><text x="17.2" y="307.3" font-size="22.7" font-weight="bold" text-anchor="start" fill="#000" transform="rotate(-90 17.2 307.3)" >2 QL</text><text x="17.2" y="580.3" font-size="22.7" font-weight="bold" text-anchor="start" fill="#000" transform="rotate(-90 17.2 580.3)" >1 QL</text><text x="17.2" y="772" font-size="22.7" font-weight="bold" text-anchor="start" fill="#000" transform="rotate(-90 17.2 772)" >2 QL</text><text x="47.9" y="228.4" font-size="21.5" transform="rotate(-90 47.9 228.4)">E-E<tspan font-size="12" dy="4">F</tspan><tspan dy="-4"> (eV)</tspan></text><text x="48.5" y="692.3" font-size="21.5" transform="rotate(-90 48.5 692.3)">E-E<tspan font-size="12" dy="4">F</tspan><tspan dy="-4"> (eV)</tspan></text><text x="195.6" y="399.4" font-size="21.3">K<tspan font-size="14" dy="5">||</tspan><tspan dy="-5"> (Å</tspan><tspan font-size="13" dy="-8">-1</tspan><tspan dy="8">)</tspan></text><text x="511.7" y="399.6" font-size="21.3">K<tspan font-size="14" dy="5">x</tspan><tspan dy="-5"> (Å</tspan><tspan font-size="13" dy="-8">-1</tspan><tspan dy="8">)</tspan></text><text x="387.8" y="222" font-size="21.3" transform="rotate(-90 387.8 222)">K<tspan font-size="14" dy="5">y</tspan><tspan dy="-5"> (Å</tspan><tspan font-size="13" dy="-8">-1</tspan><tspan dy="8">)</tspan></text><text x="163.1" y="452.3" font-size="22.6" font-weight="bold" text-anchor="start" fill="#000" >Fe I</text><text x="487.4" y="452.3" font-size="22.6" font-weight="bold" text-anchor="start" fill="#000" >Fe II</text><rect x="88.60" y="465.20" width="177.20" height="177.10" fill="#fff" stroke="none" stroke-width="1" /><rect x="287.00" y="465.20" width="59.20" height="177.10" fill="#fff" stroke="none" stroke-width="1" /><line x1="88.60" y1="487.18" x2="265.80" y2="487.18" stroke="#d0d0d0" stroke-width="0.9"/><line x1="88.60" y1="516.72" x2="265.80" y2="516.72" stroke="#d0d0d0" stroke-width="0.9"/><line x1="88.60" y1="546.26" x2="265.80" y2="546.26" stroke="#d0d0d0" stroke-width="0.9"/><line x1="88.60" y1="605.34" x2="265.80" y2="605.34" stroke="#d0d0d0" stroke-width="0.9"/><line x1="88.60" y1="634.88" x2="265.80" y2="634.88" stroke="#d0d0d0" stroke-width="0.9"/><line x1="88.60" y1="575.80" x2="265.80" y2="575.80" stroke="#777" stroke-width="0.8" stroke-dasharray="2.5,1.5"/><line x1="287.00" y1="575.80" x2="346.20" y2="575.80" stroke="#777" stroke-width="0.8" stroke-dasharray="2.5,1.5"/><line x1="163.40" y1="465.20" x2="163.40" y2="642.30" stroke="#d0d0d0" stroke-width="0.9"/><line x1="200.60" y1="465.20" x2="200.60" y2="642.30" stroke="#d0d0d0" stroke-width="0.9"/><rect x="88.60" y="465.20" width="177.20" height="177.10" fill="none" stroke="#555" stroke-width="1" /><rect x="287.00" y="465.20" width="59.20" height="177.10" fill="none" stroke="#555" stroke-width="1" /><line x1="85.10" y1="487.18" x2="88.60" y2="487.18" stroke="#333" stroke-width="0.8"/><line x1="346.20" y1="487.18" x2="349.70" y2="487.18" stroke="#333" stroke-width="0.8"/><text x="83.8" y="491.17999999999995" font-size="11.2" font-weight="normal" text-anchor="end" fill="#1a1a1a" >0.6</text><line x1="85.10" y1="516.72" x2="88.60" y2="516.72" stroke="#333" stroke-width="0.8"/><line x1="346.20" y1="516.72" x2="349.70" y2="516.72" stroke="#333" stroke-width="0.8"/><text x="83.8" y="520.7199999999999" font-size="11.2" font-weight="normal" text-anchor="end" fill="#1a1a1a" >0.4</text><line x1="85.10" y1="546.26" x2="88.60" y2="546.26" stroke="#333" stroke-width="0.8"/><line x1="346.20" y1="546.26" x2="349.70" y2="546.26" stroke="#333" stroke-width="0.8"/><text x="83.8" y="550.26" font-size="11.2" font-weight="normal" text-anchor="end" fill="#1a1a1a" >0.2</text><line x1="85.10" y1="575.80" x2="88.60" y2="575.80" stroke="#333" stroke-width="0.8"/><line x1="346.20" y1="575.80" x2="349.70" y2="575.80" stroke="#333" stroke-width="0.8"/><text x="83.8" y="579.8" font-size="11.2" font-weight="normal" text-anchor="end" fill="#1a1a1a" >0.0</text><line x1="85.10" y1="605.34" x2="88.60" y2="605.34" stroke="#333" stroke-width="0.8"/><line x1="346.20" y1="605.34" x2="349.70" y2="605.34" stroke="#333" stroke-width="0.8"/><text x="83.8" y="609.3399999999999" font-size="11.2" font-weight="normal" text-anchor="end" fill="#1a1a1a" >−0.2</text><line x1="85.10" y1="634.88" x2="88.60" y2="634.88" stroke="#333" stroke-width="0.8"/><line x1="346.20" y1="634.88" x2="349.70" y2="634.88" stroke="#333" stroke-width="0.8"/><text x="83.8" y="638.88" font-size="11.2" font-weight="normal" text-anchor="end" fill="#1a1a1a" >−0.4</text><line x1="88.60" y1="642.30" x2="88.60" y2="645.80" stroke="#333" stroke-width="0.8"/><line x1="163.40" y1="642.30" x2="163.40" y2="645.80" stroke="#333" stroke-width="0.8"/><line x1="200.60" y1="642.30" x2="200.60" y2="645.80" stroke="#333" stroke-width="0.8"/><line x1="265.80" y1="642.30" x2="265.80" y2="645.80" stroke="#333" stroke-width="0.8"/><line x1="287.00" y1="642.30" x2="287.00" y2="645.80" stroke="#333" stroke-width="0.8"/><line x1="316.60" y1="642.30" x2="316.60" y2="645.80" stroke="#333" stroke-width="0.8"/><line x1="346.20" y1="642.30" x2="346.20" y2="645.80" stroke="#333" stroke-width="0.8"/><rect x="88.30" y="656.60" width="177.30" height="176.70" fill="#fff" stroke="none" stroke-width="1" /><rect x="286.60" y="656.60" width="59.30" height="176.70" fill="#fff" stroke="none" stroke-width="1" /><line x1="88.30" y1="678.70" x2="265.60" y2="678.70" stroke="#d0d0d0" stroke-width="0.9"/><line x1="88.30" y1="708.20" x2="265.60" y2="708.20" stroke="#d0d0d0" stroke-width="0.9"/><line x1="88.30" y1="737.70" x2="265.60" y2="737.70" stroke="#d0d0d0" stroke-width="0.9"/><line x1="88.30" y1="796.70" x2="265.60" y2="796.70" stroke="#d0d0d0" stroke-width="0.9"/><line x1="88.30" y1="826.20" x2="265.60" y2="826.20" stroke="#d0d0d0" stroke-width="0.9"/><line x1="88.30" y1="767.20" x2="265.60" y2="767.20" stroke="#777" stroke-width="0.8" stroke-dasharray="2.5,1.5"/><line x1="286.60" y1="767.20" x2="345.90" y2="767.20" stroke="#777" stroke-width="0.8" stroke-dasharray="2.5,1.5"/><line x1="163.20" y1="656.60" x2="163.20" y2="833.30" stroke="#d0d0d0" stroke-width="0.9"/><line x1="200.60" y1="656.60" x2="200.60" y2="833.30" stroke="#d0d0d0" stroke-width="0.9"/><rect x="88.30" y="656.60" width="177.30" height="176.70" fill="none" stroke="#555" stroke-width="1" /><rect x="286.60" y="656.60" width="59.30" height="176.70" fill="none" stroke="#555" stroke-width="1" /><line x1="84.80" y1="678.70" x2="88.30" y2="678.70" stroke="#333" stroke-width="0.8"/><line x1="345.90" y1="678.70" x2="349.40" y2="678.70" stroke="#333" stroke-width="0.8"/><text x="83.5" y="682.7" font-size="11.2" font-weight="normal" text-anchor="end" fill="#1a1a1a" >0.6</text><line x1="84.80" y1="708.20" x2="88.30" y2="708.20" stroke="#333" stroke-width="0.8"/><line x1="345.90" y1="708.20" x2="349.40" y2="708.20" stroke="#333" stroke-width="0.8"/><text x="83.5" y="712.2" font-size="11.2" font-weight="normal" text-anchor="end" fill="#1a1a1a" >0.4</text><line x1="84.80" y1="737.70" x2="88.30" y2="737.70" stroke="#333" stroke-width="0.8"/><line x1="345.90" y1="737.70" x2="349.40" y2="737.70" stroke="#333" stroke-width="0.8"/><text x="83.5" y="741.7" font-size="11.2" font-weight="normal" text-anchor="end" fill="#1a1a1a" >0.2</text><line x1="84.80" y1="767.20" x2="88.30" y2="767.20" stroke="#333" stroke-width="0.8"/><line x1="345.90" y1="767.20" x2="349.40" y2="767.20" stroke="#333" stroke-width="0.8"/><text x="83.5" y="771.2" font-size="11.2" font-weight="normal" text-anchor="end" fill="#1a1a1a" >0.0</text><line x1="84.80" y1="796.70" x2="88.30" y2="796.70" stroke="#333" stroke-width="0.8"/><line x1="345.90" y1="796.70" x2="349.40" y2="796.70" stroke="#333" stroke-width="0.8"/><text x="83.5" y="800.7" font-size="11.2" font-weight="normal" text-anchor="end" fill="#1a1a1a" >−0.2</text><line x1="84.80" y1="826.20" x2="88.30" y2="826.20" stroke="#333" stroke-width="0.8"/><line x1="345.90" y1="826.20" x2="349.40" y2="826.20" stroke="#333" stroke-width="0.8"/><text x="83.5" y="830.2" font-size="11.2" font-weight="normal" text-anchor="end" fill="#1a1a1a" >−0.4</text><line x1="88.30" y1="833.30" x2="88.30" y2="836.80" stroke="#333" stroke-width="0.8"/><line x1="163.20" y1="833.30" x2="163.20" y2="836.80" stroke="#333" stroke-width="0.8"/><line x1="200.60" y1="833.30" x2="200.60" y2="836.80" stroke="#333" stroke-width="0.8"/><line x1="265.60" y1="833.30" x2="265.60" y2="836.80" stroke="#333" stroke-width="0.8"/><line x1="286.60" y1="833.30" x2="286.60" y2="836.80" stroke="#333" stroke-width="0.8"/><line x1="316.30" y1="833.30" x2="316.30" y2="836.80" stroke="#333" stroke-width="0.8"/><line x1="345.90" y1="833.30" x2="345.90" y2="836.80" stroke="#333" stroke-width="0.8"/><rect x="415.60" y="464.80" width="177.10" height="177.40" fill="#fff" stroke="none" stroke-width="1" /><rect x="614.50" y="464.80" width="59.00" height="177.40" fill="#fff" stroke="none" stroke-width="1" /><line x1="415.60" y1="487.18" x2="592.70" y2="487.18" stroke="#d0d0d0" stroke-width="0.9"/><line x1="415.60" y1="516.72" x2="592.70" y2="516.72" stroke="#d0d0d0" stroke-width="0.9"/><line x1="415.60" y1="546.26" x2="592.70" y2="546.26" stroke="#d0d0d0" stroke-width="0.9"/><line x1="415.60" y1="605.34" x2="592.70" y2="605.34" stroke="#d0d0d0" stroke-width="0.9"/><line x1="415.60" y1="634.88" x2="592.70" y2="634.88" stroke="#d0d0d0" stroke-width="0.9"/><line x1="415.60" y1="575.80" x2="592.70" y2="575.80" stroke="#777" stroke-width="0.8" stroke-dasharray="2.5,1.5"/><line x1="614.50" y1="575.80" x2="673.50" y2="575.80" stroke="#777" stroke-width="0.8" stroke-dasharray="2.5,1.5"/><line x1="490.70" y1="464.80" x2="490.70" y2="642.20" stroke="#d0d0d0" stroke-width="0.9"/><line x1="528.30" y1="464.80" x2="528.30" y2="642.20" stroke="#d0d0d0" stroke-width="0.9"/><rect x="415.60" y="464.80" width="177.10" height="177.40" fill="none" stroke="#555" stroke-width="1" /><rect x="614.50" y="464.80" width="59.00" height="177.40" fill="none" stroke="#555" stroke-width="1" /><line x1="412.10" y1="487.18" x2="415.60" y2="487.18" stroke="#333" stroke-width="0.8"/><line x1="673.50" y1="487.18" x2="677.00" y2="487.18" stroke="#333" stroke-width="0.8"/><line x1="412.10" y1="516.72" x2="415.60" y2="516.72" stroke="#333" stroke-width="0.8"/><line x1="673.50" y1="516.72" x2="677.00" y2="516.72" stroke="#333" stroke-width="0.8"/><line x1="412.10" y1="546.26" x2="415.60" y2="546.26" stroke="#333" stroke-width="0.8"/><line x1="673.50" y1="546.26" x2="677.00" y2="546.26" stroke="#333" stroke-width="0.8"/><line x1="412.10" y1="575.80" x2="415.60" y2="575.80" stroke="#333" stroke-width="0.8"/><line x1="673.50" y1="575.80" x2="677.00" y2="575.80" stroke="#333" stroke-width="0.8"/><line x1="412.10" y1="605.34" x2="415.60" y2="605.34" stroke="#333" stroke-width="0.8"/><line x1="673.50" y1="605.34" x2="677.00" y2="605.34" stroke="#333" stroke-width="0.8"/><line x1="412.10" y1="634.88" x2="415.60" y2="634.88" stroke="#333" stroke-width="0.8"/><line x1="673.50" y1="634.88" x2="677.00" y2="634.88" stroke="#333" stroke-width="0.8"/><line x1="415.60" y1="642.20" x2="415.60" y2="645.70" stroke="#333" stroke-width="0.8"/><line x1="490.70" y1="642.20" x2="490.70" y2="645.70" stroke="#333" stroke-width="0.8"/><line x1="528.30" y1="642.20" x2="528.30" y2="645.70" stroke="#333" stroke-width="0.8"/><line x1="592.70" y1="642.20" x2="592.70" y2="645.70" stroke="#333" stroke-width="0.8"/><line x1="614.50" y1="642.20" x2="614.50" y2="645.70" stroke="#333" stroke-width="0.8"/><line x1="644.00" y1="642.20" x2="644.00" y2="645.70" stroke="#333" stroke-width="0.8"/><line x1="673.50" y1="642.20" x2="673.50" y2="645.70" stroke="#333" stroke-width="0.8"/><rect x="417.50" y="657.30" width="177.00" height="176.70" fill="#fff" stroke="none" stroke-width="1" /><rect x="616.00" y="657.30" width="59.30" height="176.70" fill="#fff" stroke="none" stroke-width="1" /><line x1="417.50" y1="679.10" x2="594.50" y2="679.10" stroke="#d0d0d0" stroke-width="0.9"/><line x1="417.50" y1="708.60" x2="594.50" y2="708.60" stroke="#d0d0d0" stroke-width="0.9"/><line x1="417.50" y1="738.10" x2="594.50" y2="738.10" stroke="#d0d0d0" stroke-width="0.9"/><line x1="417.50" y1="797.10" x2="594.50" y2="797.10" stroke="#d0d0d0" stroke-width="0.9"/><line x1="417.50" y1="826.60" x2="594.50" y2="826.60" stroke="#d0d0d0" stroke-width="0.9"/><line x1="417.50" y1="767.60" x2="594.50" y2="767.60" stroke="#777" stroke-width="0.8" stroke-dasharray="2.5,1.5"/><line x1="616.00" y1="767.60" x2="675.30" y2="767.60" stroke="#777" stroke-width="0.8" stroke-dasharray="2.5,1.5"/><line x1="492.60" y1="657.30" x2="492.60" y2="834.00" stroke="#d0d0d0" stroke-width="0.9"/><line x1="529.80" y1="657.30" x2="529.80" y2="834.00" stroke="#d0d0d0" stroke-width="0.9"/><rect x="417.50" y="657.30" width="177.00" height="176.70" fill="none" stroke="#555" stroke-width="1" /><rect x="616.00" y="657.30" width="59.30" height="176.70" fill="none" stroke="#555" stroke-width="1" /><line x1="414.00" y1="679.10" x2="417.50" y2="679.10" stroke="#333" stroke-width="0.8"/><line x1="675.30" y1="679.10" x2="678.80" y2="679.10" stroke="#333" stroke-width="0.8"/><line x1="414.00" y1="708.60" x2="417.50" y2="708.60" stroke="#333" stroke-width="0.8"/><line x1="675.30" y1="708.60" x2="678.80" y2="708.60" stroke="#333" stroke-width="0.8"/><line x1="414.00" y1="738.10" x2="417.50" y2="738.10" stroke="#333" stroke-width="0.8"/><line x1="675.30" y1="738.10" x2="678.80" y2="738.10" stroke="#333" stroke-width="0.8"/><line x1="414.00" y1="767.60" x2="417.50" y2="767.60" stroke="#333" stroke-width="0.8"/><line x1="675.30" y1="767.60" x2="678.80" y2="767.60" stroke="#333" stroke-width="0.8"/><line x1="414.00" y1="797.10" x2="417.50" y2="797.10" stroke="#333" stroke-width="0.8"/><line x1="675.30" y1="797.10" x2="678.80" y2="797.10" stroke="#333" stroke-width="0.8"/><line x1="414.00" y1="826.60" x2="417.50" y2="826.60" stroke="#333" stroke-width="0.8"/><line x1="675.30" y1="826.60" x2="678.80" y2="826.60" stroke="#333" stroke-width="0.8"/><line x1="417.50" y1="834.00" x2="417.50" y2="837.50" stroke="#333" stroke-width="0.8"/><line x1="492.60" y1="834.00" x2="492.60" y2="837.50" stroke="#333" stroke-width="0.8"/><line x1="529.80" y1="834.00" x2="529.80" y2="837.50" stroke="#333" stroke-width="0.8"/><line x1="594.50" y1="834.00" x2="594.50" y2="837.50" stroke="#333" stroke-width="0.8"/><line x1="616.00" y1="834.00" x2="616.00" y2="837.50" stroke="#333" stroke-width="0.8"/><line x1="645.90" y1="834.00" x2="645.90" y2="837.50" stroke="#333" stroke-width="0.8"/><line x1="675.30" y1="834.00" x2="675.30" y2="837.50" stroke="#333" stroke-width="0.8"/><g clip-path="url(#clipband14)"><path d="M91.37,465.22 C92.27,471.85 94.95,490.74 96.74,504.98 C98.53,519.21 100.33,535.42 102.12,550.64 C103.91,565.86 105.70,581.17 107.49,596.30 C109.28,611.43 111.96,633.90 112.86,641.43" fill="none" stroke="#e3999b" stroke-width="0.9" stroke-opacity="0.9" stroke-dasharray="1.2,1.2" stroke-linecap="round" /><path d="M94.06,465.22 C94.95,471.85 97.64,490.74 99.43,504.98 C101.22,519.21 102.79,535.42 104.80,550.64 C106.82,565.86 109.50,581.17 111.52,596.30 C113.53,611.43 115.99,633.90 116.89,641.43" fill="none" stroke="#a8414f" stroke-width="0.9" stroke-opacity="0.7" stroke-dasharray="1.2,1.2" stroke-linecap="round" /><path d="M96.74,465.22 C98.09,470.06 102.12,483.13 104.80,494.23 C107.49,505.33 110.17,517.96 112.86,531.84 C115.55,545.71 118.23,559.23 120.92,577.50 C123.60,595.76 127.63,630.77 128.98,641.43" fill="none" stroke="#7c4d78" stroke-width="0.9" stroke-opacity="0.5" stroke-linecap="round" /><path d="M106.95,520.02 C107.71,523.78 109.86,533.45 111.52,542.58 C113.17,551.71 115.10,563.17 116.89,574.81 C118.68,586.45 120.69,601.31 122.26,612.42 C123.83,623.52 125.62,636.59 126.29,641.43" fill="none" stroke="#e3999b" stroke-width="1.0" stroke-opacity="0.8" stroke-linecap="round" /><path d="M88.69,513.03 C89.36,513.48 91.37,513.93 92.72,515.72 C94.06,517.51 95.62,520.64 96.74,523.78 C97.86,526.91 98.53,531.39 99.43,534.52 C100.33,537.66 100.77,540.34 102.12,542.58 C103.46,544.82 105.70,545.27 107.49,547.95 C109.28,550.64 111.07,553.77 112.86,558.70 C114.65,563.62 116.22,568.54 118.23,577.50 C120.25,586.45 123.16,601.76 124.95,612.42 C126.74,623.07 128.30,636.59 128.98,641.43" fill="none" stroke="#a8414f" stroke-width="0.9" stroke-opacity="0.8" stroke-linecap="round" /><path d="M88.69,514.38 C89.58,515.27 92.27,516.84 94.06,519.75 C95.85,522.66 97.64,528.03 99.43,531.84 C101.22,535.64 103.01,538.10 104.80,542.58 C106.59,547.06 108.38,552.43 110.17,558.70 C111.96,564.96 113.76,571.23 115.55,580.18 C117.34,589.14 119.58,602.21 120.92,612.42 C122.26,622.62 123.16,636.59 123.60,641.43" fill="none" stroke="#e3999b" stroke-width="0.9" stroke-opacity="0.8" stroke-linecap="round" /><path d="M88.69,553.32 C89.36,553.55 91.37,552.88 92.72,554.67 C94.06,556.46 95.40,558.92 96.74,564.07 C98.09,569.22 99.43,577.50 100.77,585.56 C102.12,593.61 103.68,603.10 104.80,612.42 C105.92,621.73 107.04,636.59 107.49,641.43" fill="none" stroke="#e3999b" stroke-width="0.8" stroke-opacity="0.6" stroke-dasharray="1.2,1.2" stroke-linecap="round" /><path d="M122.80,465.22 C123.83,471.40 126.60,488.05 128.98,502.29 C131.35,516.53 134.35,534.07 137.03,550.64 C139.72,567.20 142.85,586.54 145.09,601.67 C147.33,616.80 149.57,634.80 150.46,641.43" fill="none" stroke="#e3999b" stroke-width="1.0" stroke-opacity="0.8" stroke-linecap="round" /><path d="M135.69,465.22 C136.36,468.27 138.38,475.07 139.72,483.49 C141.06,491.90 143.08,510.35 143.75,515.72" fill="none" stroke="#97c6e6" stroke-width="0.9" stroke-opacity="0.9" stroke-dasharray="1.2,1.2" stroke-linecap="round" /><path d="M260.05,465.22 C259.16,471.85 256.47,490.74 254.68,504.98 C252.89,519.21 251.10,535.42 249.31,550.64 C247.52,565.86 245.73,581.17 243.94,596.30 C242.15,611.43 239.46,633.90 238.57,641.43" fill="none" stroke="#e3999b" stroke-width="0.9" stroke-opacity="0.9" stroke-dasharray="1.2,1.2" stroke-linecap="round" /><path d="M257.37,465.22 C256.47,471.85 253.79,490.74 252.00,504.98 C250.20,519.21 248.64,535.42 246.62,550.64 C244.61,565.86 241.92,581.17 239.91,596.30 C237.89,611.43 235.43,633.90 234.54,641.43" fill="none" stroke="#a8414f" stroke-width="0.9" stroke-opacity="0.7" stroke-dasharray="1.2,1.2" stroke-linecap="round" /><path d="M254.68,465.22 C253.34,470.06 249.31,483.13 246.62,494.23 C243.94,505.33 241.25,517.96 238.57,531.84 C235.88,545.71 233.19,559.23 230.51,577.50 C227.82,595.76 223.79,630.77 222.45,641.43" fill="none" stroke="#7c4d78" stroke-width="0.9" stroke-opacity="0.8" stroke-linecap="round" /><path d="M265.43,513.03 C264.31,513.48 260.50,513.93 258.71,515.72 C256.92,517.51 255.80,520.64 254.68,523.78 C253.56,526.91 252.89,531.39 252.00,534.52 C251.10,537.66 250.65,540.34 249.31,542.58 C247.97,544.82 245.73,545.27 243.94,547.95 C242.15,550.64 240.36,553.77 238.57,558.70 C236.77,563.62 235.21,568.54 233.19,577.50 C231.18,586.45 228.27,601.76 226.48,612.42 C224.69,623.07 223.12,636.59 222.45,641.43" fill="none" stroke="#a8414f" stroke-width="0.9" stroke-opacity="0.8" stroke-linecap="round" /><path d="M265.43,514.38 C264.08,515.27 259.61,516.84 257.37,519.75 C255.13,522.66 253.79,528.03 252.00,531.84 C250.20,535.64 248.41,538.10 246.62,542.58 C244.83,547.06 243.04,552.43 241.25,558.70 C239.46,564.96 237.67,571.23 235.88,580.18 C234.09,589.14 231.85,602.21 230.51,612.42 C229.16,622.62 228.27,636.59 227.82,641.43" fill="none" stroke="#e3999b" stroke-width="0.9" stroke-opacity="0.8" stroke-linecap="round" /><path d="M265.43,553.32 C264.31,553.55 260.50,552.88 258.71,554.67 C256.92,556.46 256.02,558.92 254.68,564.07 C253.34,569.22 252.00,577.50 250.65,585.56 C249.31,593.61 247.74,603.10 246.62,612.42 C245.50,621.73 244.38,636.59 243.94,641.43" fill="none" stroke="#e3999b" stroke-width="0.8" stroke-opacity="0.6" stroke-dasharray="1.2,1.2" stroke-linecap="round" /><path d="M242.33,464.95 C240.45,469.83 234.72,484.88 231.04,494.23 C227.37,503.59 223.61,513.80 220.30,521.09 C216.99,528.39 212.69,535.19 211.17,538.01" fill="none" stroke="#7c4d78" stroke-width="1.0" stroke-opacity="0.9" stroke-linecap="round" /><path d="M225.67,465.22 C225.00,470.06 223.21,484.92 221.64,494.23 C220.08,503.54 217.84,513.03 216.27,521.09 C214.70,529.15 213.81,535.42 212.24,542.58 C210.68,549.74 208.66,556.46 206.87,564.07 C205.08,571.68 203.29,580.18 201.50,588.24 C199.71,596.30 197.69,603.55 196.13,612.42 C194.56,621.28 192.77,636.59 192.10,641.43" fill="none" stroke="#e3999b" stroke-width="1.1" stroke-opacity="0.8" stroke-linecap="round" /><path d="M229.70,465.22 C228.81,471.40 225.90,492.53 224.33,502.29 C222.76,512.05 220.97,520.20 220.30,523.78" fill="none" stroke="#e3999b" stroke-width="1.1" stroke-opacity="0.8" stroke-linecap="round" /><path d="M250.38,520.55 C249.85,523.33 248.37,529.96 247.16,537.21 C245.95,544.46 244.47,555.11 243.13,564.07 C241.79,573.02 240.45,578.04 239.10,590.93 C237.76,603.82 235.74,633.01 235.07,641.43" fill="none" stroke="#e3999b" stroke-width="0.8" stroke-opacity="0.7" stroke-linecap="round" /><path d="M137.03,465.22 C138.38,471.40 142.68,489.83 145.09,502.29 C147.51,514.75 149.56,529.33 151.51,540.00 C153.46,550.67 155.30,560.13 156.80,566.30 C158.30,572.46 159.35,574.37 160.51,576.99 C161.67,579.61 162.68,582.01 163.76,582.01 C164.84,582.01 165.77,579.61 167.01,576.99 C168.25,574.37 169.83,572.46 171.20,566.30 C172.57,560.13 173.73,550.67 175.20,540.00 C176.67,529.33 178.67,514.75 180.01,502.29 C181.35,489.83 182.70,471.40 183.23,465.22" fill="none" stroke="#97c6e6" stroke-width="1.3" stroke-linecap="round" /><path d="M107.49,465.22 C108.03,470.06 109.79,485.10 110.71,494.23 C111.63,503.36 112.28,512.86 112.99,520.02 C113.71,527.18 114.67,534.34 115.01,537.21" fill="none" stroke="#5389bd" stroke-width="1.1" stroke-opacity="0.75" stroke-linecap="round" /><path d="M112.99,520.02 C113.33,522.88 114.29,532.40 115.01,537.21 C115.73,542.02 116.20,543.34 117.29,548.89 C118.39,554.44 119.66,563.30 121.59,570.51 C123.52,577.73 125.99,585.21 128.90,592.19 C131.80,599.17 135.40,606.62 138.99,612.39 C142.59,618.16 147.46,623.20 150.49,626.79 C153.52,630.37 154.97,632.05 157.18,633.90 C159.39,635.76 161.29,637.97 163.76,637.91 C166.23,637.84 169.45,635.80 172.01,633.50 C174.56,631.20 176.81,628.73 179.10,624.10 C181.38,619.47 183.51,613.15 185.70,605.70 C187.90,598.25 190.53,588.17 192.29,579.41 C194.04,570.64 195.22,559.24 196.21,553.11 C197.19,546.98 197.58,545.08 198.19,542.61 C198.81,540.14 199.11,539.23 199.89,538.28 C200.66,537.34 201.68,537.30 202.84,536.94 C204.01,536.58 205.21,536.63 206.87,536.13 C208.53,535.64 209.91,535.60 212.78,533.98 C215.64,532.37 220.26,530.36 224.06,526.46 C227.87,522.57 231.81,517.06 235.61,510.62 C239.42,504.17 243.13,495.40 246.89,487.79 C250.65,480.18 256.29,468.76 258.17,464.95" fill="none" stroke="#5389bd" stroke-width="1.6" stroke-linecap="round" /><path d="M122.26,465.22 C124.05,470.51 129.42,488.50 133.01,496.92 C136.59,505.33 141.96,512.59 143.75,515.72" fill="none" stroke="#97c6e6" stroke-width="1.0" stroke-linecap="round" /><path d="M143.75,515.72 C145.32,519.30 149.84,532.06 153.15,537.21 C156.46,542.36 160.49,545.49 163.63,546.61 C166.76,547.73 169.22,544.82 171.95,543.92 C174.68,543.03 176.88,541.24 180.01,541.24 C183.14,541.24 187.31,542.80 190.75,543.92 C194.20,545.04 198.23,547.55 200.69,547.95 C203.15,548.36 203.51,547.33 205.53,546.34 C207.54,545.36 210.32,544.10 212.78,542.04 C215.24,539.98 218.42,536.49 220.30,533.98 C222.18,531.48 223.43,528.17 224.06,527.00" fill="none" stroke="#5389bd" stroke-width="1.8" stroke-linecap="round" /><path d="M112.86,465.22 C115.10,469.16 121.14,480.44 126.29,488.86 C131.44,497.28 140.84,511.24 143.75,515.72" fill="none" stroke="#a8414f" stroke-width="1.0" stroke-opacity="0.9" stroke-linecap="round" /><path d="M143.75,515.72 C145.32,517.29 149.84,522.79 153.15,525.12 C156.46,527.45 160.04,529.69 163.63,529.69 C167.21,529.69 170.56,527.00 174.64,525.12 C178.71,523.24 183.73,519.97 188.07,518.41 C192.41,516.84 197.11,516.62 200.69,515.72 C204.27,514.82 206.74,515.27 209.56,513.03 C212.38,510.80 215.38,506.32 217.61,502.29 C219.85,498.26 221.20,495.04 222.99,488.86 C224.78,482.68 227.46,469.16 228.36,465.22" fill="none" stroke="#d8353a" stroke-width="2.0" stroke-linecap="round" /><path d="M126.29,465.22 C126.96,470.06 129.17,485.10 130.32,494.23 C131.47,503.36 132.00,510.91 133.19,520.02 C134.39,529.13 135.81,540.48 137.49,548.89 C139.17,557.31 141.13,563.30 143.29,570.51 C145.46,577.73 148.62,586.77 150.49,592.19 C152.36,597.61 153.83,601.21 154.49,603.02" fill="none" stroke="#d8353a" stroke-width="1.5" stroke-opacity="0.6" stroke-linecap="round" /><path d="M150.49,592.19 C151.16,593.99 153.29,599.65 154.49,603.02 C155.69,606.38 156.66,609.48 157.69,612.39 C158.72,615.30 159.66,618.31 160.67,620.47 C161.68,622.64 162.54,625.47 163.76,625.39 C164.98,625.31 166.53,623.27 168.00,619.99 C169.48,616.71 170.30,612.47 172.60,605.70 C174.90,598.94 178.98,586.42 181.81,579.41 C184.64,572.39 187.63,567.33 189.60,563.61 C191.56,559.90 192.07,558.96 193.60,557.11 C195.13,555.26 197.04,553.81 198.79,552.49 C200.54,551.17 202.23,551.27 204.10,549.19 C205.97,547.11 208.43,543.34 210.01,540.00 C211.59,536.66 212.99,530.96 213.59,529.15" fill="none" stroke="#d8353a" stroke-width="2.6" stroke-linecap="round" /><path d="M210.01,540.00 C210.61,538.19 212.36,532.75 213.59,529.15 C214.81,525.55 216.18,521.99 217.35,518.41 C218.51,514.82 219.63,512.59 220.57,507.66 C221.51,502.74 222.36,495.93 222.99,488.86 C223.61,481.79 224.11,469.16 224.33,465.22" fill="none" stroke="#d8353a" stroke-width="1.3" stroke-opacity="0.8" stroke-linecap="round" /><path d="M88.69,531.30 C90.03,529.96 94.06,525.03 96.74,523.24 C99.43,521.45 102.12,520.24 104.80,520.55 C107.49,520.87 109.73,522.57 112.86,525.12 C115.99,527.67 120.02,532.15 123.60,535.87 C127.19,539.58 132.56,545.49 134.35,547.41" fill="none" stroke="#3fae3f" stroke-width="2.4" stroke-linecap="round" /><path d="M134.35,547.41 C136.14,549.07 141.51,554.67 145.09,557.35 C148.67,560.04 152.75,562.28 155.84,563.53 C158.93,564.78 162.33,564.65 163.63,564.87" fill="none" stroke="#8d4c3e" stroke-width="2.4" stroke-linecap="round" /><path d="M163.63,564.87 C165.01,564.78 169.22,564.47 171.95,564.34 C174.68,564.20 177.32,563.89 180.01,564.07 C182.70,564.25 185.61,564.52 188.07,565.41 C190.53,566.31 192.68,568.19 194.78,569.44 C196.89,570.69 198.68,572.93 200.69,572.93 C202.71,572.93 204.50,571.81 206.87,569.44 C209.24,567.07 212.24,562.73 214.93,558.70 C217.61,554.67 220.30,550.19 222.99,545.27 C225.67,540.34 227.91,535.42 231.04,529.15 C234.18,522.88 238.21,513.93 241.79,507.66 C245.37,501.39 248.59,495.80 252.53,491.55 C256.47,487.29 263.28,483.71 265.43,482.15" fill="none" stroke="#d8353a" stroke-width="2.8" stroke-linecap="round" /><path d="M88.69,482.15 C90.92,483.04 97.64,484.61 102.12,487.52 C106.59,490.43 111.52,495.13 115.55,499.60 C119.58,504.08 123.51,510.44 126.29,514.38 C129.07,518.32 131.21,521.76 132.20,523.24" fill="none" stroke="#d8353a" stroke-width="2.8" stroke-linecap="round" /><path d="M132.20,523.24 C132.65,523.42 133.86,524.58 134.89,524.32 C135.91,524.05 136.90,523.06 138.38,521.63 C139.85,520.20 141.29,519.39 143.75,515.72 C146.21,512.05 149.84,503.72 153.15,499.60 C156.46,495.49 160.27,490.79 163.63,491.01 C166.98,491.23 170.56,497.05 173.30,500.95 C176.03,504.84 178.89,512.14 180.01,514.38" fill="none" stroke="#8d4c3e" stroke-width="2.4" stroke-linecap="round" /><path d="M180.01,514.38 C181.13,516.39 184.49,522.75 186.73,526.46 C188.96,530.18 191.20,534.43 193.44,536.67 C195.68,538.91 197.02,539.27 200.16,539.89 C203.29,540.52 207.99,540.48 212.24,540.43 C216.50,540.39 221.64,540.97 225.67,539.63 C229.70,538.28 233.28,535.10 236.42,532.37 C239.55,529.64 242.15,525.21 244.47,523.24 C246.80,521.27 248.15,520.24 250.38,520.55 C252.62,520.87 255.40,523.33 257.90,525.12 C260.41,526.91 264.17,530.27 265.43,531.30" fill="none" stroke="#3fae3f" stroke-width="2.4" stroke-linecap="round" /></g><g clip-path="url(#clipband15)"><path d="M90.03,657.22 C90.70,663.40 92.49,680.05 94.06,694.29 C95.62,708.53 97.64,726.97 99.43,742.64 C101.22,758.31 103.24,773.17 104.80,788.30 C106.37,803.43 108.16,825.90 108.83,833.43" fill="none" stroke="#e3999b" stroke-width="0.9" stroke-opacity="0.9" stroke-dasharray="1.2,1.2" stroke-linecap="round" /><path d="M92.72,657.22 C93.48,663.40 95.62,680.05 97.28,694.29 C98.94,708.53 100.86,726.97 102.65,742.64 C104.44,758.31 106.32,773.17 108.03,788.30 C109.73,803.43 112.05,825.90 112.86,833.43" fill="none" stroke="#a8414f" stroke-width="0.9" stroke-opacity="0.7" stroke-dasharray="1.2,1.2" stroke-linecap="round" /><path d="M95.40,657.22 C96.30,663.40 98.98,680.05 100.77,694.29 C102.56,708.53 104.35,726.97 106.15,742.64 C107.94,758.31 109.95,773.17 111.52,788.30 C113.08,803.43 114.87,825.90 115.55,833.43" fill="none" stroke="#e3999b" stroke-width="0.9" stroke-opacity="0.7" stroke-dasharray="1.2,1.2" stroke-linecap="round" /><path d="M100.77,657.22 C101.89,662.06 105.03,675.13 107.49,686.23 C109.95,697.33 113.08,709.96 115.55,723.84 C118.01,737.71 120.02,751.23 122.26,769.50 C124.50,787.76 127.86,822.77 128.98,833.43" fill="none" stroke="#7c4d78" stroke-width="0.9" stroke-opacity="0.8" stroke-linecap="round" /><path d="M88.69,694.29 C89.13,694.51 90.25,693.84 91.37,695.63 C92.49,697.42 94.06,700.33 95.40,705.03 C96.74,709.73 97.86,717.57 99.43,723.84 C101.00,730.10 102.79,735.03 104.80,742.64 C106.82,750.25 109.28,759.20 111.52,769.50 C113.76,779.79 116.44,793.76 118.23,804.42 C120.02,815.07 121.59,828.59 122.26,833.43" fill="none" stroke="#a8414f" stroke-width="0.9" stroke-opacity="0.8" stroke-linecap="round" /><path d="M88.69,695.63 C89.36,696.08 91.37,695.86 92.72,698.32 C94.06,700.78 95.18,705.26 96.74,710.41 C98.31,715.55 100.33,722.49 102.12,729.21 C103.91,735.92 105.70,743.09 107.49,750.70 C109.28,758.31 111.29,765.92 112.86,774.87 C114.43,783.82 115.77,794.66 116.89,804.42 C118.01,814.18 119.13,828.59 119.58,833.43" fill="none" stroke="#e3999b" stroke-width="0.9" stroke-opacity="0.8" stroke-linecap="round" /><path d="M88.69,719.81 C89.13,720.03 90.25,719.14 91.37,721.15 C92.49,723.16 93.83,726.07 95.40,731.89 C96.97,737.71 98.98,746.67 100.77,756.07 C102.56,765.47 104.58,775.41 106.15,788.30 C107.71,801.19 109.50,825.90 110.17,833.43" fill="none" stroke="#a8414f" stroke-width="0.8" stroke-opacity="0.8" stroke-linecap="round" /><path d="M88.69,721.15 C89.36,721.60 91.37,721.15 92.72,723.84 C94.06,726.52 95.18,730.10 96.74,737.27 C98.31,744.43 100.33,755.62 102.12,766.81 C103.91,778.00 106.37,793.31 107.49,804.42 C108.61,815.52 108.61,828.59 108.83,833.43" fill="none" stroke="#e3999b" stroke-width="0.8" stroke-opacity="0.7" stroke-linecap="round" /><path d="M88.69,774.87 C89.13,774.96 90.48,774.51 91.37,775.41 C92.27,776.30 92.94,775.41 94.06,780.24 C95.18,785.08 96.97,795.55 98.09,804.42 C99.21,813.28 100.33,828.59 100.77,833.43" fill="none" stroke="#8fd08f" stroke-width="0.8" stroke-opacity="0.8" stroke-linecap="round" /><path d="M120.92,657.22 C121.81,665.64 124.72,690.35 126.29,707.72 C127.86,725.09 129.20,740.49 130.32,761.44 C131.44,782.39 132.56,821.43 133.01,833.43" fill="none" stroke="#a8414f" stroke-width="1.3" stroke-opacity="0.85" stroke-linecap="round" /><path d="M111.52,657.22 C113.08,662.06 117.56,676.03 120.92,686.23 C124.28,696.44 127.86,708.62 131.66,718.46 C135.47,728.31 141.73,740.85 143.75,745.32" fill="none" stroke="#a8414f" stroke-width="1.0" stroke-opacity="0.8" stroke-linecap="round" /><path d="M118.23,657.22 C119.58,662.06 123.38,676.92 126.29,686.23 C129.20,695.54 132.78,705.48 135.69,713.09 C138.60,720.70 142.41,728.76 143.75,731.89" fill="none" stroke="#a8414f" stroke-width="1.0" stroke-opacity="0.8" stroke-linecap="round" /><path d="M123.60,657.22 C124.72,663.40 128.30,681.40 130.32,694.29 C132.33,707.18 134.12,725.63 135.69,734.58 C137.26,743.53 139.05,745.77 139.72,748.01" fill="none" stroke="#e3999b" stroke-width="1.6" stroke-opacity="0.8" stroke-linecap="round" /><path d="M131.66,657.22 C132.56,661.16 135.24,673.79 137.03,680.86 C138.82,687.93 141.51,696.53 142.41,699.66" fill="none" stroke="#a8414f" stroke-width="1.0" stroke-opacity="0.8" stroke-linecap="round" /><path d="M134.35,657.22 C135.02,661.16 137.26,674.68 138.38,680.86 C139.50,687.04 140.62,692.05 141.06,694.29" fill="none" stroke="#97c6e6" stroke-width="0.9" stroke-opacity="0.8" stroke-dasharray="1.2,1.2" stroke-linecap="round" /><path d="M261.40,657.22 C260.81,663.40 259.38,680.05 257.90,694.29 C256.43,708.53 254.32,726.97 252.53,742.64 C250.74,758.31 248.73,773.17 247.16,788.30 C245.59,803.43 243.80,825.90 243.13,833.43" fill="none" stroke="#e3999b" stroke-width="0.9" stroke-opacity="0.9" stroke-dasharray="1.2,1.2" stroke-linecap="round" /><path d="M258.71,657.22 C258.04,663.40 256.25,680.05 254.68,694.29 C253.11,708.53 251.10,726.97 249.31,742.64 C247.52,758.31 245.64,773.17 243.94,788.30 C242.24,803.43 239.91,825.90 239.10,833.43" fill="none" stroke="#a8414f" stroke-width="0.9" stroke-opacity="0.7" stroke-dasharray="1.2,1.2" stroke-linecap="round" /><path d="M256.02,657.22 C255.22,663.40 252.89,680.05 251.19,694.29 C249.49,708.53 247.61,726.97 245.82,742.64 C244.03,758.31 242.01,773.17 240.45,788.30 C238.88,803.43 237.09,825.90 236.42,833.43" fill="none" stroke="#e3999b" stroke-width="0.9" stroke-opacity="0.7" stroke-dasharray="1.2,1.2" stroke-linecap="round" /><path d="M265.43,694.29 C264.84,694.51 263.19,693.84 261.93,695.63 C260.68,697.42 259.38,700.33 257.90,705.03 C256.43,709.73 254.86,717.57 253.07,723.84 C251.28,730.10 249.26,735.03 247.16,742.64 C245.06,750.25 242.68,759.20 240.45,769.50 C238.21,779.79 235.52,793.76 233.73,804.42 C231.94,815.07 230.37,828.59 229.70,833.43" fill="none" stroke="#a8414f" stroke-width="0.9" stroke-opacity="0.8" stroke-linecap="round" /><path d="M265.43,695.63 C264.62,696.08 262.07,695.86 260.59,698.32 C259.11,700.78 258.26,705.26 256.56,710.41 C254.86,715.55 252.40,722.49 250.38,729.21 C248.37,735.92 246.35,743.09 244.47,750.70 C242.59,758.31 240.67,765.92 239.10,774.87 C237.54,783.82 236.19,794.66 235.07,804.42 C233.95,814.18 232.83,828.59 232.39,833.43" fill="none" stroke="#e3999b" stroke-width="0.9" stroke-opacity="0.8" stroke-linecap="round" /><path d="M265.43,719.81 C264.84,720.03 263.19,719.14 261.93,721.15 C260.68,723.16 259.47,726.07 257.90,731.89 C256.34,737.71 254.32,746.67 252.53,756.07 C250.74,765.47 248.50,775.41 247.16,788.30 C245.82,801.19 244.92,825.90 244.47,833.43" fill="none" stroke="#a8414f" stroke-width="0.8" stroke-opacity="0.8" stroke-linecap="round" /><path d="M265.43,721.15 C264.62,721.60 262.07,721.15 260.59,723.84 C259.11,726.52 258.13,730.10 256.56,737.27 C254.99,744.43 252.98,755.62 251.19,766.81 C249.40,778.00 246.94,793.31 245.82,804.42 C244.70,815.52 244.70,828.59 244.47,833.43" fill="none" stroke="#e3999b" stroke-width="0.8" stroke-opacity="0.7" stroke-linecap="round" /><path d="M265.43,774.87 C264.84,774.96 262.96,774.51 261.93,775.41 C260.90,776.30 260.37,775.41 259.25,780.24 C258.13,785.08 256.34,795.55 255.22,804.42 C254.10,813.28 252.98,828.59 252.53,833.43" fill="none" stroke="#8fd08f" stroke-width="0.8" stroke-opacity="0.8" stroke-linecap="round" /><path d="M231.04,833.43 C231.94,821.43 234.63,782.39 236.42,761.44 C238.21,740.49 240.00,725.09 241.79,707.72 C243.58,690.35 246.27,665.64 247.16,657.22" fill="none" stroke="#a8414f" stroke-width="1.3" stroke-opacity="0.85" stroke-linecap="round" /><path d="M222.99,657.22 C222.09,663.40 219.18,685.87 217.61,694.29 C216.05,702.71 215.15,701.01 213.59,707.72 C212.02,714.44 210.05,725.54 208.21,734.58 C206.38,743.62 203.51,757.41 202.57,761.98" fill="none" stroke="#e3999b" stroke-width="1.6" stroke-opacity="0.8" stroke-linecap="round" /><path d="M225.14,657.22 C224.24,663.40 221.37,685.87 219.76,694.29 C218.15,702.71 217.08,701.01 215.47,707.72 C213.85,714.44 211.97,725.54 210.09,734.58 C208.21,743.62 205.17,757.41 204.18,761.98" fill="none" stroke="#e3999b" stroke-width="1.3" stroke-opacity="0.7" stroke-linecap="round" /><path d="M237.22,657.22 C235.30,661.61 229.39,676.03 225.67,683.55 C221.96,691.07 218.51,696.53 214.93,702.35 C211.35,708.17 205.97,715.78 204.18,718.46" fill="none" stroke="#7c4d78" stroke-width="1.0" stroke-opacity="0.85" stroke-linecap="round" /><path d="M241.25,657.22 C239.33,661.61 233.42,676.03 229.70,683.55 C225.99,691.07 222.54,696.53 218.96,702.35 C215.38,708.17 210.00,715.78 208.21,718.46" fill="none" stroke="#a8414f" stroke-width="1.0" stroke-opacity="0.85" stroke-linecap="round" /><path d="M244.47,657.22 C242.68,661.61 237.31,675.58 233.73,683.55 C230.15,691.51 226.57,698.32 222.99,705.03 C219.40,711.75 214.03,720.70 212.24,723.84" fill="none" stroke="#7c4d78" stroke-width="0.9" stroke-opacity="0.8" stroke-linecap="round" /><path d="M141.06,657.22 C142.09,664.74 145.50,688.57 147.24,702.35 C148.98,716.13 149.92,730.57 151.51,739.90 C153.11,749.22 155.28,753.99 156.80,758.30 C158.33,762.60 159.47,763.99 160.67,765.74 C161.87,767.49 162.93,768.80 164.00,768.80 C165.08,768.80 166.13,767.49 167.12,765.74 C168.10,763.99 168.56,762.60 169.91,758.30 C171.26,753.99 173.74,749.22 175.20,739.90 C176.66,730.57 177.33,716.13 178.67,702.35 C180.01,688.57 182.47,664.74 183.23,657.22" fill="none" stroke="#97c6e6" stroke-width="1.2" stroke-linecap="round" /><path d="M142.94,657.22 C143.88,664.74 147.02,688.57 148.58,702.35 C150.15,716.13 150.88,730.68 152.34,739.90 C153.80,749.12 155.91,753.55 157.34,757.68 C158.77,761.81 159.83,763.05 160.94,764.66 C162.05,766.28 163.02,767.35 164.00,767.35 C164.99,767.35 165.95,766.28 166.85,764.66 C167.74,763.05 168.14,761.81 169.37,757.68 C170.60,753.55 172.91,749.12 174.24,739.90 C175.56,730.68 176.14,716.13 177.32,702.35 C178.51,688.57 180.68,664.74 181.35,657.22" fill="none" stroke="#97c6e6" stroke-width="1.1" stroke-opacity="0.9" stroke-linecap="round" /><path d="M112.86,721.15 C114.05,724.71 117.71,736.31 120.00,742.50 C122.30,748.70 124.43,752.38 126.61,758.30 C128.80,764.22 130.93,772.33 133.11,778.01 C135.29,783.70 137.50,787.81 139.69,792.41 C141.89,797.01 144.12,801.43 146.30,805.60 C148.49,809.76 150.85,814.68 152.80,817.39 C154.75,820.10 156.33,820.88 157.98,821.88 C159.64,822.87 161.15,823.35 162.71,823.35 C164.28,823.35 165.74,822.87 167.39,821.88 C169.03,820.88 170.64,820.10 172.60,817.39 C174.55,814.68 177.13,809.98 179.10,805.60 C181.06,801.22 182.64,796.13 184.39,791.09 C186.14,786.06 188.06,780.44 189.60,775.41 C191.13,770.38 192.50,764.20 193.60,760.90 C194.70,757.60 195.34,757.15 196.21,755.61 C197.08,754.08 198.06,753.40 198.81,751.69 C199.56,749.98 200.38,746.39 200.69,745.32" fill="none" stroke="#5389bd" stroke-width="1.1" stroke-linecap="round" /><path d="M111.25,721.15 C112.44,724.71 116.10,736.24 118.39,742.50 C120.69,748.77 122.82,752.73 125.00,758.75 C127.19,764.78 129.32,772.90 131.50,778.63 C133.69,784.36 135.89,788.48 138.11,793.14 C140.33,797.79 142.59,802.31 144.82,806.57 C147.06,810.82 149.43,815.83 151.54,818.65 C153.64,821.47 155.59,822.41 157.45,823.49 C159.31,824.56 160.97,825.10 162.71,825.10 C164.46,825.10 166.07,824.56 167.92,823.49 C169.78,822.41 171.73,821.47 173.83,818.65 C175.94,815.83 178.53,811.00 180.55,806.57 C182.56,802.13 184.14,797.12 185.92,792.06 C187.70,787.00 189.69,781.27 191.21,776.21 C192.73,771.15 194.41,764.13 195.05,761.71" fill="none" stroke="#5389bd" stroke-width="1.0" stroke-opacity="0.9" stroke-linecap="round" /><path d="M139.72,701.01 C141.29,704.36 145.27,715.60 149.12,721.15 C152.97,726.70 159.01,732.52 162.82,734.31 C166.62,736.10 169.45,732.52 171.95,731.89 C174.46,731.27 175.18,730.10 177.86,730.55 C180.55,731.00 184.26,732.57 188.07,734.58 C191.87,736.59 197.56,741.74 200.69,742.64 C203.83,743.53 204.05,741.30 206.87,739.95 C209.69,738.61 214.03,736.82 217.61,734.58 C221.20,732.34 224.78,730.10 228.36,726.52 C231.94,722.94 235.52,718.46 239.10,713.09 C242.68,707.72 246.71,700.11 249.85,694.29 C252.98,688.47 255.67,683.10 257.90,678.17 C260.14,673.25 262.38,666.98 263.28,664.74" fill="none" stroke="#5389bd" stroke-width="1.6" stroke-linecap="round" /><path d="M139.72,702.35 C141.29,705.71 145.27,716.99 149.12,722.49 C152.97,728.00 159.01,733.60 162.82,735.39 C166.62,737.18 169.31,733.73 171.95,733.24 C174.59,732.74 177.55,732.57 178.67,732.43" fill="none" stroke="#7c4d78" stroke-width="1.3" stroke-linecap="round" /><path d="M191.29,761.17 C192.10,756.74 195.05,741.70 196.13,734.58 C197.20,727.46 196.93,721.91 197.74,718.46 C198.54,715.02 199.44,715.02 200.96,713.90 C202.48,712.78 204.50,712.69 206.87,711.75 C209.24,710.81 212.73,709.60 215.20,708.26 C217.66,706.91 219.54,705.39 221.64,703.69 C223.75,701.99 225.58,701.41 227.82,698.05 C230.06,694.69 232.48,690.35 235.07,683.55 C237.67,676.74 242.01,661.61 243.40,657.22" fill="none" stroke="#5389bd" stroke-width="1.5" stroke-linecap="round" /><path d="M143.75,705.03 C144.87,705.93 147.78,708.53 150.46,710.41 C153.15,712.29 157.76,715.29 159.87,716.32 C161.97,717.34 161.07,717.03 163.09,716.58 C165.10,716.14 169.04,715.11 171.95,713.63 C174.86,712.15 177.41,709.38 180.55,707.72 C183.68,706.06 187.40,704.77 190.75,703.69 C194.11,702.62 197.92,701.95 200.69,701.27 C203.47,700.60 204.99,701.23 207.41,699.66 C209.82,698.10 212.87,696.35 215.20,691.87 C217.52,687.40 219.81,678.58 221.37,672.80 C222.94,667.03 224.06,659.82 224.60,657.22" fill="none" stroke="#d8353a" stroke-width="2.4" stroke-linecap="round" /><path d="M137.09,732.00 C137.52,734.85 138.61,744.73 139.69,749.11 C140.78,753.49 142.05,753.48 143.59,758.30 C145.12,763.11 146.92,771.45 148.91,778.01 C150.89,784.58 154.08,793.52 155.49,797.70 C156.89,801.88 156.58,801.05 157.34,803.07 C158.10,805.10 159.13,808.34 160.03,809.84 C160.92,811.35 161.82,812.10 162.71,812.10 C163.61,812.10 164.50,811.35 165.40,809.84 C166.29,808.34 167.33,805.10 168.08,803.07 C168.84,801.05 168.51,801.45 169.91,797.70 C171.31,793.95 174.29,785.84 176.49,780.59 C178.69,775.34 181.13,770.34 183.10,766.19 C185.07,762.04 186.56,759.21 188.31,755.69 C190.06,752.18 192.03,747.73 193.60,745.11 C195.17,742.49 196.56,740.95 197.74,739.95 C198.92,738.96 199.08,740.31 200.69,739.15 C202.30,737.98 205.03,735.97 207.41,732.97 C209.78,729.97 212.82,724.33 214.93,721.15 C217.03,717.97 218.24,717.03 220.03,713.90 C221.82,710.76 223.84,705.75 225.67,702.35 C227.51,698.95 229.25,696.39 231.04,693.48 C232.83,690.57 234.58,687.53 236.42,684.89 C238.25,682.25 240.04,679.65 242.06,677.64 C244.07,675.62 246.40,674.10 248.50,672.80 C250.61,671.50 251.95,670.61 254.68,669.85 C257.41,669.09 263.19,668.50 264.89,668.24" fill="none" stroke="#d8353a" stroke-width="2.8" stroke-linecap="round" /><path d="M138.38,748.01 C139.94,748.91 144.87,751.82 147.78,753.38 C150.69,754.95 153.82,756.65 155.84,757.41 C157.85,758.17 158.07,758.26 159.87,757.95 C161.66,757.64 164.12,756.47 166.58,755.53 C169.04,754.59 172.04,753.20 174.64,752.31 C177.23,751.41 179.92,750.20 182.16,750.16 C184.40,750.11 186.50,751.23 188.07,752.04 C189.64,752.85 190.22,753.87 191.56,754.99 C192.90,756.11 194.60,757.72 196.13,758.75 C197.65,759.78 198.90,761.40 200.69,761.17 C202.48,760.95 204.95,759.16 206.87,757.41 C208.80,755.67 210.05,753.61 212.24,750.70 C214.44,747.79 217.79,743.53 220.03,739.95 C222.27,736.37 223.84,732.79 225.67,729.21 C227.51,725.63 229.25,722.05 231.04,718.46 C232.83,714.88 234.18,711.75 236.42,707.72 C238.65,703.69 241.79,698.54 244.47,694.29 C247.16,690.04 249.04,685.34 252.53,682.20 C256.02,679.07 263.28,676.61 265.43,675.49" fill="none" stroke="#d8353a" stroke-width="2.6" stroke-linecap="round" /><path d="M138.38,748.55 C139.94,749.58 144.87,753.02 147.78,754.73 C150.69,756.43 153.28,757.99 155.84,758.75 C158.39,759.52 160.40,759.38 163.09,759.29 C165.77,759.20 169.13,758.75 171.95,758.22 C174.77,757.68 177.55,756.87 180.01,756.07 C182.47,755.26 184.80,753.56 186.73,753.38 C188.65,753.20 190.75,754.73 191.56,754.99" fill="none" stroke="#8d4c3e" stroke-width="2.0" stroke-linecap="round" /><path d="M88.01,675.49 C89.47,675.82 94.17,675.26 96.74,677.50 C99.32,679.74 101.44,684.55 103.46,688.92 C105.47,693.28 107.26,698.32 108.83,703.69 C110.40,709.06 110.85,716.90 112.86,721.15 C114.87,725.40 118.23,726.52 120.92,729.21 C123.60,731.89 126.29,734.58 128.98,737.27 C131.66,739.95 135.24,743.62 137.03,745.32 C138.82,747.03 139.27,747.11 139.72,747.47" fill="none" stroke="#3fae3f" stroke-width="2.4" stroke-linecap="round" /><path d="M137.03,745.32 C138.82,746.22 144.64,749.00 147.78,750.70 C150.91,752.40 153.28,754.41 155.84,755.53 C158.39,756.65 161.88,757.10 163.09,757.41" fill="none" stroke="#8d4c3e" stroke-width="2.0" stroke-opacity="0.9" stroke-linecap="round" /><path d="M88.69,750.70 C89.58,749.89 91.82,749.00 94.06,745.86 C96.30,742.73 99.79,734.76 102.12,731.89 C104.44,729.03 106.23,728.45 108.03,728.67 C109.82,728.89 110.71,731.36 112.86,733.24 C115.01,735.12 118.23,737.71 120.92,739.95 C123.60,742.19 127.63,745.55 128.98,746.67" fill="none" stroke="#3fae3f" stroke-width="2.2" stroke-linecap="round" /><path d="M90.03,666.89 C91.15,666.80 94.95,666.53 96.74,666.36 C98.53,666.18 99.43,665.64 100.77,665.82 C102.12,666.00 103.24,665.82 104.80,667.43 C106.37,669.04 109.28,674.15 110.17,675.49" fill="none" stroke="#8fd08f" stroke-width="1.0" stroke-opacity="0.9" stroke-linecap="round" /><path d="M186.73,720.34 C187.84,720.84 191.11,722.54 193.44,723.30 C195.77,724.06 198.41,724.91 200.69,724.91 C202.98,724.91 205.21,723.84 207.14,723.30 C209.06,722.76 210.09,723.25 212.24,721.69 C214.39,720.12 217.79,716.67 220.03,713.90 C222.27,711.12 223.84,707.68 225.67,705.03 C227.51,702.39 229.25,700.74 231.04,698.05 C232.83,695.36 234.58,691.51 236.42,688.92 C238.25,686.32 239.82,684.49 242.06,682.47 C244.30,680.46 247.74,678.17 249.85,676.83 C251.95,675.49 252.17,674.68 254.68,674.41 C257.19,674.15 263.19,675.09 264.89,675.22" fill="none" stroke="#3fae3f" stroke-width="2.0" stroke-linecap="round" /><path d="M186.73,729.21 C187.84,729.57 191.11,730.86 193.44,731.36 C195.77,731.85 197.60,732.70 200.69,732.16 C203.78,731.63 208.71,729.43 211.97,728.13 C215.24,726.84 217.93,725.67 220.30,724.37 C222.67,723.08 224.42,722.22 226.21,720.34 C228.00,718.46 229.48,715.73 231.04,713.09 C232.61,710.45 234.04,707.63 235.61,704.50 C237.18,701.36 238.83,697.47 240.45,694.29 C242.06,691.11 243.71,687.89 245.28,685.43 C246.85,682.96 248.28,681.08 249.85,679.52 C251.41,677.95 252.17,676.61 254.68,676.03 C257.19,675.44 263.19,676.03 264.89,676.03" fill="none" stroke="#3fae3f" stroke-width="1.8" stroke-linecap="round" /><path d="M193.44,742.91 C194.65,742.95 198.45,743.31 200.69,743.18 C202.93,743.04 204.45,742.77 206.87,742.10 C209.29,741.43 212.73,740.18 215.20,739.15 C217.66,738.12 219.54,737.22 221.64,735.92 C223.75,734.62 226.03,732.92 227.82,731.36 C229.61,729.79 231.63,727.33 232.39,726.52" fill="none" stroke="#3fae3f" stroke-width="1.3" stroke-opacity="0.9" stroke-linecap="round" /><path d="M236.42,742.64 C237.31,741.30 240.22,736.55 241.79,734.58 C243.36,732.61 244.47,731.18 245.82,730.82 C247.16,730.46 248.28,730.91 249.85,732.43 C251.41,733.95 253.43,737.36 255.22,739.95 C257.01,742.55 258.98,746.04 260.59,748.01 C262.20,749.98 264.17,751.14 264.89,751.77" fill="none" stroke="#3fae3f" stroke-width="2.2" stroke-linecap="round" /><path d="M88.01,667.97 C89.47,668.55 93.72,669.76 96.74,671.46 C99.77,673.16 103.01,675.04 106.15,678.17 C109.28,681.31 112.64,686.46 115.55,690.26 C118.46,694.07 121.14,697.65 123.60,701.01 C126.07,704.36 128.53,708.62 130.32,710.41 C132.11,712.20 133.68,711.53 134.35,711.75" fill="none" stroke="#d8353a" stroke-width="2.8" stroke-linecap="round" /><path d="M134.35,711.75 C135.24,711.08 137.93,709.51 139.72,707.72 C141.51,705.93 142.85,704.14 145.09,701.01 C147.33,697.87 150.20,692.50 153.15,688.92 C156.10,685.34 159.69,679.52 162.82,679.52 C165.95,679.52 169.45,685.34 171.95,688.92 C174.46,692.50 175.40,695.77 177.86,701.01 C180.32,706.24 185.25,717.12 186.73,720.34" fill="none" stroke="#8d4c3e" stroke-width="2.3" stroke-linecap="round" /><path d="M177.86,701.01 C178.67,702.12 181.00,707.05 182.70,707.72 C184.40,708.39 185.07,706.02 188.07,705.03 C191.07,704.05 198.59,702.35 200.69,701.81" fill="none" stroke="#6f7c3c" stroke-width="1.5" stroke-opacity="0.8" stroke-linecap="round" /></g><g clip-path="url(#clipband16)"><path d="M417.03,465.22 C417.70,471.40 419.49,488.05 421.06,502.29 C422.62,516.53 424.64,534.97 426.43,550.64 C428.22,566.31 430.37,581.17 431.80,596.30 C433.23,611.43 434.49,633.90 435.03,641.43" fill="none" stroke="#97c6e6" stroke-width="0.9" stroke-opacity="0.9" stroke-dasharray="1.2,1.2" stroke-linecap="round" /><path d="M415.69,513.03 C416.36,513.48 418.37,513.48 419.72,515.72 C421.06,517.96 422.40,520.64 423.74,526.46 C425.09,532.28 426.43,541.24 427.77,550.64 C429.12,560.04 430.46,572.57 431.80,582.87 C433.15,593.17 434.49,602.66 435.83,612.42 C437.17,622.18 439.19,636.59 439.86,641.43" fill="none" stroke="#e3999b" stroke-width="0.9" stroke-opacity="0.8" stroke-dasharray="1.2,1.2" stroke-linecap="round" /><path d="M423.74,465.22 C424.64,470.06 427.33,483.58 429.12,494.23 C430.91,504.89 432.70,515.72 434.49,529.15 C436.28,542.58 438.29,560.93 439.86,574.81 C441.43,588.69 442.77,601.31 443.89,612.42 C445.01,623.52 446.13,636.59 446.58,641.43" fill="none" stroke="#97c6e6" stroke-width="1.0" stroke-opacity="0.9" stroke-linecap="round" /><path d="M415.69,514.38 C416.81,514.82 420.61,514.60 422.40,517.06 C424.19,519.53 425.22,524.90 426.43,529.15 C427.64,533.40 428.53,537.66 429.65,542.58 C430.77,547.50 431.67,551.09 433.15,558.70 C434.62,566.31 436.73,574.45 438.52,588.24 C440.31,602.03 442.99,632.56 443.89,641.43" fill="none" stroke="#e3999b" stroke-width="0.9" stroke-opacity="0.7" stroke-linecap="round" /><path d="M415.69,554.67 C416.81,554.67 420.61,554.00 422.40,554.67 C424.19,555.34 424.86,555.34 426.43,558.70 C428.00,562.05 429.79,567.65 431.80,574.81 C433.82,581.97 436.28,593.61 438.52,601.67 C440.76,609.73 442.32,616.53 445.23,623.16 C448.14,629.79 454.19,638.38 455.98,641.43" fill="none" stroke="#3fae3f" stroke-width="1.4" stroke-linecap="round" /><path d="M415.69,554.67 C416.13,554.71 417.25,555.61 418.37,554.94 C419.49,554.26 421.06,552.70 422.40,550.64 C423.74,548.58 425.09,544.59 426.43,542.58 C427.77,540.57 429.34,539.36 430.46,538.55 C431.58,537.75 432.70,537.88 433.15,537.75" fill="none" stroke="#3fae3f" stroke-width="2.3" stroke-linecap="round" /><path d="M418.37,556.01 C419.27,558.25 421.95,563.62 423.74,569.44 C425.53,575.26 427.33,582.87 429.12,590.93 C430.91,598.99 432.70,609.37 434.49,617.79 C436.28,626.20 438.96,637.49 439.86,641.43" fill="none" stroke="#97c6e6" stroke-width="0.9" stroke-opacity="0.8" stroke-linecap="round" /><path d="M415.69,515.72 C417.03,516.39 421.28,519.08 423.74,519.75 C426.21,520.42 428.22,519.30 430.46,519.75 C432.70,520.20 434.71,520.42 437.17,522.44 C439.64,524.45 442.10,528.48 445.23,531.84 C448.37,535.19 452.39,538.55 455.98,542.58 C459.56,546.61 462.69,552.65 466.72,556.01 C470.75,559.37 476.17,561.38 480.15,562.73 C484.13,564.07 487.04,563.93 490.63,564.07 C494.21,564.20 498.46,563.62 501.64,563.53 C504.82,563.44 507.01,562.90 509.70,563.53 C512.38,564.16 514.62,565.72 517.75,567.29 C520.89,568.86 524.92,572.93 528.50,572.93 C532.08,572.93 535.21,571.01 539.24,567.29 C543.27,563.58 548.64,555.65 552.67,550.64 C556.70,545.62 559.83,541.91 563.42,537.21 C567.00,532.51 571.03,525.57 574.16,522.44 C577.29,519.30 579.17,519.75 582.22,518.41 C585.26,517.06 590.72,515.05 592.43,514.38" fill="none" stroke="#5389bd" stroke-width="0.9" stroke-opacity="0.85" stroke-linecap="round" /><path d="M588.93,465.22 C588.26,471.40 586.47,488.05 584.90,502.29 C583.34,516.53 581.32,534.97 579.53,550.64 C577.74,566.31 575.50,581.17 574.16,596.30 C572.82,611.43 571.92,633.90 571.47,641.43" fill="none" stroke="#97c6e6" stroke-width="0.9" stroke-opacity="0.9" stroke-dasharray="1.2,1.2" stroke-linecap="round" /><path d="M592.43,513.03 C591.62,513.48 589.07,513.48 587.59,515.72 C586.11,517.96 584.90,520.64 583.56,526.46 C582.22,532.28 580.88,541.24 579.53,550.64 C578.19,560.04 576.85,572.57 575.50,582.87 C574.16,593.17 572.82,602.66 571.47,612.42 C570.13,622.18 568.12,636.59 567.45,641.43" fill="none" stroke="#e3999b" stroke-width="0.9" stroke-opacity="0.8" stroke-dasharray="1.2,1.2" stroke-linecap="round" /><path d="M582.22,465.22 C581.32,470.06 578.64,483.58 576.85,494.23 C575.06,504.89 573.27,515.72 571.47,529.15 C569.68,542.58 567.67,560.93 566.10,574.81 C564.54,588.69 563.19,601.31 562.07,612.42 C560.95,623.52 559.83,636.59 559.39,641.43" fill="none" stroke="#97c6e6" stroke-width="1.0" stroke-opacity="0.9" stroke-linecap="round" /><path d="M592.43,514.38 C591.40,514.82 587.95,514.60 586.25,517.06 C584.55,519.53 583.43,524.90 582.22,529.15 C581.01,533.40 580.11,537.66 579.00,542.58 C577.88,547.50 576.98,551.09 575.50,558.70 C574.03,566.31 571.92,574.45 570.13,588.24 C568.34,602.03 565.65,632.56 564.76,641.43" fill="none" stroke="#e3999b" stroke-width="0.9" stroke-opacity="0.7" stroke-linecap="round" /><path d="M592.43,554.67 C591.40,554.67 587.95,554.00 586.25,554.67 C584.55,555.34 583.79,555.34 582.22,558.70 C580.65,562.05 578.86,567.65 576.85,574.81 C574.83,581.97 572.37,593.61 570.13,601.67 C567.89,609.73 566.33,616.53 563.42,623.16 C560.51,629.79 554.46,638.38 552.67,641.43" fill="none" stroke="#3fae3f" stroke-width="1.4" stroke-linecap="round" /><path d="M592.43,554.67 C591.98,554.71 590.77,555.61 589.74,554.94 C588.71,554.26 587.50,552.70 586.25,550.64 C584.99,548.58 583.56,544.59 582.22,542.58 C580.88,540.57 579.31,539.36 578.19,538.55 C577.07,537.75 575.95,537.88 575.50,537.75" fill="none" stroke="#3fae3f" stroke-width="2.3" stroke-linecap="round" /><path d="M592.43,513.03 C591.62,513.48 588.84,514.82 587.59,515.72 C586.34,516.62 586.47,517.51 584.90,518.41 C583.34,519.30 579.98,520.20 578.19,521.09 C576.40,521.99 574.83,523.33 574.16,523.78" fill="none" stroke="#d8353a" stroke-width="1.0" stroke-opacity="0.7" stroke-linecap="round" /><path d="M563.42,641.43 C564.09,633.90 565.88,611.43 567.45,596.30 C569.01,581.17 570.80,566.31 572.82,550.64 C574.83,534.97 577.52,516.53 579.53,502.29 C581.55,488.05 584.01,471.40 584.90,465.22" fill="none" stroke="#97c6e6" stroke-width="1.0" stroke-linecap="round" /><path d="M549.45,641.43 C550.21,633.90 552.36,611.43 554.02,596.30 C555.67,581.17 557.15,566.31 559.39,550.64 C561.63,534.97 564.98,516.53 567.45,502.29 C569.91,488.05 573.04,471.40 574.16,465.22" fill="none" stroke="#5389bd" stroke-width="1.2" stroke-opacity="0.9" stroke-linecap="round" /><path d="M460.01,524.32 C461.80,522.88 467.39,519.39 470.75,515.72 C474.11,512.05 476.84,506.41 480.15,502.29 C483.46,498.17 487.04,490.56 490.63,491.01 C494.21,491.46 498.01,499.96 501.64,504.98 C505.26,509.99 508.80,516.17 512.38,521.09 C515.96,526.02 519.99,531.39 523.13,534.52 C526.26,537.66 528.05,538.78 531.18,539.89 C534.32,541.01 537.45,541.15 541.93,541.24 C546.40,541.33 552.67,542.22 558.04,540.43 C563.42,538.64 569.68,533.49 574.16,530.49 C578.64,527.49 583.11,523.78 584.90,522.44" fill="none" stroke="#97c6e6" stroke-width="0.9" stroke-linecap="round" /><path d="M466.72,465.22 C467.70,471.85 470.88,492.51 472.63,504.98 C474.38,517.44 475.77,530.88 477.20,540.00 C478.62,549.12 479.88,554.22 481.20,559.69 C482.51,565.16 483.92,569.52 485.09,572.80 C486.26,576.08 487.26,577.84 488.21,579.38 C489.15,580.91 489.91,582.01 490.76,582.01 C491.61,582.01 492.39,580.91 493.31,579.38 C494.23,577.84 495.25,576.08 496.29,572.80 C497.34,569.52 498.61,565.16 499.60,559.69 C500.58,554.22 501.19,549.12 502.20,540.00 C503.21,530.88 504.42,517.44 505.67,504.98 C506.92,492.51 509.02,471.85 509.70,465.22" fill="none" stroke="#d8353a" stroke-width="1.3" stroke-linecap="round" /><path d="M450.07,465.22 C451.72,470.51 456.56,488.50 460.01,496.92 C463.45,505.33 468.96,512.59 470.75,515.72" fill="none" stroke="#d8353a" stroke-width="1.0" stroke-opacity="0.8" stroke-linecap="round" /><path d="M439.86,465.22 C442.10,469.16 448.14,480.44 453.29,488.86 C458.44,497.28 467.84,511.24 470.75,515.72" fill="none" stroke="#6f7c3c" stroke-width="1.0" stroke-opacity="0.9" stroke-linecap="round" /><path d="M460.01,465.22 C460.90,469.16 463.59,480.44 465.38,488.86 C467.17,497.28 469.85,511.24 470.75,515.72" fill="none" stroke="#3fae3f" stroke-width="1.0" stroke-opacity="0.9" stroke-linecap="round" /><path d="M445.23,465.22 C447.02,472.30 453.05,495.20 455.98,507.66 C458.90,520.13 460.79,532.43 462.80,540.00 C464.80,547.58 465.82,546.54 468.01,553.11 C470.19,559.68 473.49,570.64 475.91,579.41 C478.32,588.17 480.97,599.84 482.49,605.70 C484.00,611.56 484.57,613.09 484.98,614.57" fill="none" stroke="#977a58" stroke-width="1.3" stroke-linecap="round" /><path d="M482.49,605.70 C482.90,607.18 484.08,611.79 484.98,614.57 C485.89,617.34 486.98,620.61 487.94,622.35 C488.90,624.10 489.82,625.04 490.76,625.04 C491.70,625.04 492.62,624.10 493.58,622.35 C494.54,620.61 495.53,617.34 496.53,614.57 C497.54,611.79 498.00,610.46 499.60,605.70 C501.19,600.94 503.91,591.71 506.10,586.01 C508.28,580.31 511.21,574.63 512.70,571.51 C514.20,568.39 514.67,567.99 515.07,567.29" fill="none" stroke="#62a448" stroke-width="1.4" stroke-linecap="round" /><path d="M512.70,571.51 C513.59,570.19 516.25,566.23 518.00,563.61 C519.75,560.99 521.46,557.77 523.21,555.80 C524.96,553.83 526.75,553.11 528.50,551.79 C530.25,550.48 532.29,549.43 533.71,547.90 C535.13,546.37 535.64,545.73 537.01,542.61 C538.38,539.48 540.21,534.53 541.93,529.15 C543.64,523.77 545.73,517.06 547.30,510.35 C548.87,503.63 550.21,496.38 551.33,488.86 C552.45,481.34 553.57,469.16 554.02,465.22" fill="none" stroke="#d8353a" stroke-width="1.6" stroke-linecap="round" /><path d="M520.44,558.70 C522.23,557.35 528.05,553.32 531.18,550.64 C534.32,547.95 536.11,546.61 539.24,542.58 C542.38,538.55 546.40,532.28 549.99,526.46 C553.57,520.64 557.15,514.38 560.73,507.66 C564.31,500.95 568.34,493.25 571.47,486.17 C574.61,479.10 578.19,468.72 579.53,465.22" fill="none" stroke="#3fae3f" stroke-width="1.2" stroke-linecap="round" /><path d="M431.80,465.22 C432.92,470.06 435.98,480.45 438.52,494.23 C441.05,508.01 444.27,533.70 447.00,547.90 C449.74,562.09 452.27,570.21 454.90,579.41 C457.53,588.60 460.17,596.53 462.80,603.10 C465.43,609.66 467.86,613.99 470.70,618.81 C473.53,623.63 477.33,629.12 479.80,632.00 C482.27,634.87 483.70,635.20 485.52,636.05 C487.35,636.91 489.01,637.13 490.76,637.13 C492.51,637.13 494.31,636.91 496.00,636.05 C497.69,635.20 498.98,634.87 500.89,632.00 C502.79,629.12 505.44,623.63 507.41,618.81 C509.38,613.99 510.94,609.66 512.70,603.10 C514.47,596.53 516.46,587.07 518.00,579.41 C519.53,571.74 520.81,563.03 521.89,557.11 C522.97,551.19 523.75,546.86 524.50,543.90 C525.24,540.94 525.68,540.38 526.35,539.36 C527.02,538.33 528.14,538.01 528.50,537.75" fill="none" stroke="#5389bd" stroke-width="1.7" stroke-linecap="round" /><path d="M528.50,537.75 C529.84,537.30 533.42,536.49 536.56,535.06 C539.69,533.63 543.72,531.93 547.30,529.15 C550.88,526.37 554.46,522.88 558.04,518.41 C561.63,513.93 565.21,507.21 568.79,502.29 C572.37,497.37 575.59,492.22 579.53,488.86 C583.47,485.50 590.28,483.26 592.43,482.15" fill="none" stroke="#5389bd" stroke-width="2.6" stroke-linecap="round" /><path d="M415.69,482.15 C417.92,482.82 424.64,483.26 429.12,486.17 C433.59,489.08 438.52,494.68 442.55,499.60 C446.58,504.53 450.38,511.60 453.29,515.72 C456.20,519.84 457.77,523.51 460.01,524.32 C462.24,525.12 464.93,521.99 466.72,520.55 C468.51,519.12 470.08,516.53 470.75,515.72" fill="none" stroke="#5389bd" stroke-width="2.6" stroke-linecap="round" /><path d="M470.75,515.72 C472.32,517.29 476.84,522.79 480.15,525.12 C483.46,527.45 487.04,529.69 490.63,529.69 C494.21,529.69 497.56,527.00 501.64,525.12 C505.71,523.24 510.59,519.97 515.07,518.41 C519.54,516.84 524.92,516.84 528.50,515.72 C532.08,514.60 533.87,514.82 536.56,511.69 C539.24,508.56 542.38,502.51 544.61,496.92 C546.85,491.32 548.64,483.40 549.99,478.12 C551.33,472.83 552.22,467.37 552.67,465.22" fill="none" stroke="#d8353a" stroke-width="2.0" stroke-linecap="round" /><path d="M528.50,515.72 C529.84,515.05 533.87,514.82 536.56,511.69 C539.24,508.56 542.38,502.51 544.61,496.92 C546.85,491.32 548.64,483.40 549.99,478.12 C551.33,472.83 552.22,467.37 552.67,465.22" fill="none" stroke="#8d4c3e" stroke-width="1.2" stroke-opacity="0.8" stroke-linecap="round" /><path d="M470.75,515.72 C472.32,519.30 476.84,532.06 480.15,537.21 C483.46,542.36 487.49,545.62 490.63,546.61 C493.76,547.59 496.22,544.01 498.95,543.12 C501.68,542.22 503.88,541.10 507.01,541.24 C510.14,541.37 514.17,542.80 517.75,543.92 C521.34,545.04 525.36,548.18 528.50,547.95 C531.63,547.73 533.42,545.71 536.56,542.58 C539.69,539.45 543.72,534.07 547.30,529.15 C550.88,524.23 554.46,519.30 558.04,513.03 C561.63,506.77 565.21,499.51 568.79,491.55 C572.37,483.58 577.74,469.61 579.53,465.22" fill="none" stroke="#3fae3f" stroke-width="2.0" stroke-linecap="round" /></g><g clip-path="url(#clipband17)"><path d="M419.03,657.22 C419.70,663.40 421.49,680.05 423.06,694.29 C424.62,708.53 426.64,726.97 428.43,742.64 C430.22,758.31 432.37,773.17 433.80,788.30 C435.23,803.43 436.49,825.90 437.03,833.43" fill="none" stroke="#97c6e6" stroke-width="0.9" stroke-opacity="0.9" stroke-dasharray="1.2,1.2" stroke-linecap="round" /><path d="M421.72,657.22 C422.39,663.40 424.18,680.05 425.74,694.29 C427.31,708.53 429.33,726.97 431.12,742.64 C432.91,758.31 434.92,773.17 436.49,788.30 C438.05,803.43 439.85,825.90 440.52,833.43" fill="none" stroke="#6f7c3c" stroke-width="0.9" stroke-opacity="0.8" stroke-dasharray="1.2,1.2" stroke-linecap="round" /><path d="M417.69,721.15 C418.36,721.60 420.37,721.60 421.72,723.84 C423.06,726.07 424.40,729.21 425.74,734.58 C427.09,739.95 428.43,747.11 429.77,756.07 C431.12,765.02 432.68,775.41 433.80,788.30 C434.92,801.19 436.04,825.90 436.49,833.43" fill="none" stroke="#e3999b" stroke-width="0.9" stroke-opacity="0.8" stroke-dasharray="1.2,1.2" stroke-linecap="round" /><path d="M417.69,696.98 C418.36,697.20 420.37,695.63 421.72,698.32 C423.06,701.01 424.40,707.05 425.74,713.09 C427.09,719.14 428.21,725.63 429.77,734.58 C431.34,743.53 433.35,755.17 435.15,766.81 C436.94,778.45 438.95,793.31 440.52,804.42 C442.08,815.52 443.87,828.59 444.55,833.43" fill="none" stroke="#d8353a" stroke-width="0.9" stroke-opacity="0.6" stroke-linecap="round" /><path d="M417.69,774.87 C418.81,774.87 422.61,773.97 424.40,774.87 C426.19,775.77 426.86,776.21 428.43,780.24 C430.00,784.27 432.01,792.33 433.80,799.04 C435.59,805.76 437.61,814.80 439.17,820.53 C440.74,826.26 442.53,831.28 443.20,833.43" fill="none" stroke="#3fae3f" stroke-width="1.4" stroke-linecap="round" /><path d="M417.69,774.87 C418.13,774.92 419.25,776.03 420.37,775.14 C421.49,774.24 423.06,771.78 424.40,769.50 C425.74,767.22 427.09,764.13 428.43,761.44 C429.77,758.75 431.34,755.62 432.46,753.38 C433.58,751.14 434.70,748.91 435.15,748.01" fill="none" stroke="#3fae3f" stroke-width="2.3" stroke-linecap="round" /><path d="M417.69,696.44 C418.36,696.30 420.37,695.10 421.72,695.63 C423.06,696.17 424.18,696.30 425.74,699.66 C427.31,703.02 429.33,709.06 431.12,715.78 C432.91,722.49 434.70,731.45 436.49,739.95 C438.28,748.46 440.07,756.96 441.86,766.81 C443.65,776.66 445.44,787.94 447.23,799.04 C449.02,810.15 451.71,827.70 452.60,833.43" fill="none" stroke="#3fae3f" stroke-width="1.3" stroke-opacity="0.9" stroke-linecap="round" /><path d="M417.69,668.77 C418.58,668.33 421.04,666.53 423.06,666.09 C425.07,665.64 427.76,664.97 429.77,666.09 C431.79,667.21 434.25,671.68 435.15,672.80" fill="none" stroke="#3fae3f" stroke-width="1.6" stroke-linecap="round" /><path d="M425.74,753.38 C426.86,750.25 430.22,738.61 432.46,734.58 C434.70,730.55 436.71,728.76 439.17,729.21 C441.64,729.66 444.10,734.36 447.23,737.27 C450.37,740.18 454.39,743.53 457.98,746.67 C461.56,749.80 464.69,753.83 468.72,756.07 C472.75,758.31 478.17,759.29 482.15,760.10 C486.13,760.90 489.04,761.04 492.63,760.90 C496.21,760.77 500.46,760.54 503.64,759.29 C506.82,758.04 509.01,754.14 511.70,753.38 C514.38,752.62 516.75,753.29 519.75,754.73 C522.75,756.16 526.56,761.53 529.69,761.98 C532.83,762.43 535.29,759.74 538.56,757.41 C541.82,755.08 545.72,750.92 549.30,748.01 C552.88,745.10 556.46,742.64 560.04,739.95 C563.63,737.27 568.10,733.33 570.79,731.89 C573.47,730.46 573.92,730.91 576.16,731.36 C578.40,731.80 581.17,732.70 584.22,734.58 C587.26,736.46 592.72,741.30 594.43,742.64" fill="none" stroke="#5389bd" stroke-width="0.9" stroke-opacity="0.9" stroke-linecap="round" /><path d="M425.74,756.07 C426.86,752.93 430.22,741.38 432.46,737.27 C434.70,733.15 436.71,730.91 439.17,731.36 C441.64,731.80 444.10,736.95 447.23,739.95 C450.37,742.95 454.39,746.22 457.98,749.35 C461.56,752.49 464.69,756.74 468.72,758.75 C472.75,760.77 478.17,760.90 482.15,761.44 C486.13,761.98 490.88,761.89 492.63,761.98" fill="none" stroke="#8fd08f" stroke-width="0.9" stroke-opacity="0.8" stroke-linecap="round" /><path d="M441.86,723.84 C444.10,726.52 450.81,735.48 455.29,739.95 C459.77,744.43 464.24,748.01 468.72,750.70 C473.20,753.38 479.91,755.17 482.15,756.07" fill="none" stroke="#e3999b" stroke-width="0.8" stroke-opacity="0.6" stroke-linecap="round" /><path d="M590.93,657.22 C590.26,663.40 588.47,680.05 586.90,694.29 C585.34,708.53 583.32,726.97 581.53,742.64 C579.74,758.31 577.50,773.17 576.16,788.30 C574.82,803.43 573.92,825.90 573.47,833.43" fill="none" stroke="#97c6e6" stroke-width="0.9" stroke-opacity="0.9" stroke-dasharray="1.2,1.2" stroke-linecap="round" /><path d="M588.25,657.22 C587.49,663.40 585.34,680.05 583.68,694.29 C582.02,708.53 580.01,726.97 578.31,742.64 C576.61,758.31 574.95,773.17 573.47,788.30 C572.00,803.43 570.12,825.90 569.45,833.43" fill="none" stroke="#6f7c3c" stroke-width="0.9" stroke-opacity="0.8" stroke-dasharray="1.2,1.2" stroke-linecap="round" /><path d="M594.43,721.15 C593.62,721.60 591.07,721.60 589.59,723.84 C588.11,726.07 586.90,729.21 585.56,734.58 C584.22,739.95 582.88,747.11 581.53,756.07 C580.19,765.02 578.85,775.41 577.50,788.30 C576.16,801.19 574.15,825.90 573.47,833.43" fill="none" stroke="#e3999b" stroke-width="0.9" stroke-opacity="0.8" stroke-dasharray="1.2,1.2" stroke-linecap="round" /><path d="M594.43,696.98 C593.62,697.20 591.07,695.63 589.59,698.32 C588.11,701.01 586.90,707.05 585.56,713.09 C584.22,719.14 583.10,725.63 581.53,734.58 C579.97,743.53 577.95,755.17 576.16,766.81 C574.37,778.45 572.36,793.31 570.79,804.42 C569.22,815.52 567.43,828.59 566.76,833.43" fill="none" stroke="#d8353a" stroke-width="0.9" stroke-opacity="0.6" stroke-linecap="round" /><path d="M594.43,774.87 C593.40,774.87 589.95,773.97 588.25,774.87 C586.55,775.77 585.79,776.21 584.22,780.24 C582.65,784.27 580.64,792.33 578.85,799.04 C577.06,805.76 575.04,814.80 573.47,820.53 C571.91,826.26 570.12,831.28 569.45,833.43" fill="none" stroke="#3fae3f" stroke-width="1.4" stroke-linecap="round" /><path d="M594.43,774.87 C593.98,774.92 592.77,776.03 591.74,775.14 C590.71,774.24 589.50,771.78 588.25,769.50 C586.99,767.22 585.56,764.13 584.22,761.44 C582.88,758.75 581.31,755.62 580.19,753.38 C579.07,751.14 577.95,748.91 577.50,748.01" fill="none" stroke="#3fae3f" stroke-width="2.3" stroke-linecap="round" /><path d="M594.43,696.44 C593.62,696.30 591.07,695.10 589.59,695.63 C588.11,696.17 587.13,696.30 585.56,699.66 C583.99,703.02 581.98,709.06 580.19,715.78 C578.40,722.49 576.61,731.45 574.82,739.95 C573.03,748.46 571.24,756.96 569.45,766.81 C567.65,776.66 565.64,787.94 564.07,799.04 C562.51,810.15 560.72,827.70 560.04,833.43" fill="none" stroke="#3fae3f" stroke-width="1.3" stroke-opacity="0.9" stroke-linecap="round" /><path d="M594.43,668.77 C593.40,668.33 590.40,666.53 588.25,666.09 C586.10,665.64 583.55,664.97 581.53,666.09 C579.52,667.21 577.06,671.68 576.16,672.80" fill="none" stroke="#3fae3f" stroke-width="1.6" stroke-linecap="round" /><path d="M547.96,833.43 C548.85,825.90 551.54,803.43 553.33,788.30 C555.12,773.17 556.46,757.41 558.70,742.64 C560.94,727.87 563.85,713.90 566.76,699.66 C569.67,685.43 574.59,664.30 576.16,657.22" fill="none" stroke="#5389bd" stroke-width="1.6" stroke-linecap="round" /><path d="M557.36,833.43 C558.03,825.90 559.82,803.43 561.39,788.30 C562.95,773.17 564.74,757.41 566.76,742.64 C568.77,727.87 571.01,713.90 573.47,699.66 C575.94,685.43 580.19,664.30 581.53,657.22" fill="none" stroke="#6f7c3c" stroke-width="1.0" stroke-opacity="0.8" stroke-linecap="round" /><path d="M462.81,711.75 C464.47,710.85 469.53,709.73 472.75,706.38 C475.97,703.02 478.84,695.86 482.15,691.60 C485.46,687.35 489.04,680.41 492.63,680.86 C496.21,681.31 500.01,689.37 503.64,694.29 C507.26,699.21 511.25,705.71 514.38,710.41 C517.52,715.11 519.75,720.03 522.44,722.49 C525.13,724.96 527.36,725.18 530.50,725.18 C533.63,725.18 537.21,723.61 541.24,722.49 C545.27,721.37 550.20,721.82 554.67,718.46 C559.15,715.11 565.86,705.03 568.10,702.35" fill="none" stroke="#5389bd" stroke-width="0.9" stroke-opacity="0.9" stroke-linecap="round" /><path d="M466.03,657.22 C467.38,664.30 471.90,687.20 474.09,699.66 C476.29,712.13 477.91,724.86 479.20,732.00 C480.48,739.14 480.48,738.12 481.80,742.50 C483.12,746.89 485.60,754.34 487.09,758.30 C488.58,762.26 489.64,764.52 490.75,766.28 C491.85,768.03 492.72,768.80 493.70,768.80 C494.68,768.80 495.57,768.03 496.65,766.28 C497.74,764.52 498.94,762.26 500.20,758.30 C501.46,754.34 503.20,746.89 504.20,742.50 C505.20,738.12 505.39,739.14 506.19,732.00 C506.99,724.86 508.00,712.13 509.01,699.66 C510.02,687.20 511.70,664.30 512.23,657.22" fill="none" stroke="#d8353a" stroke-width="1.2" stroke-opacity="0.9" stroke-linecap="round" /><path d="M464.15,657.22 C465.54,664.30 470.20,687.20 472.48,699.66 C474.76,712.13 476.51,724.79 477.85,732.00 C479.20,739.21 479.20,738.40 480.54,742.91 C481.88,747.41 484.34,754.95 485.91,759.02 C487.48,763.10 488.73,765.51 489.94,767.35 C491.15,769.18 492.09,770.04 493.16,770.04 C494.24,770.04 495.13,769.18 496.39,767.35 C497.64,765.51 499.25,763.10 500.68,759.02 C502.12,754.95 503.91,747.41 504.98,742.91 C506.06,738.40 506.23,739.21 507.13,732.00 C508.03,724.79 509.23,712.13 510.35,699.66 C511.47,687.20 513.26,664.30 513.85,657.22" fill="none" stroke="#e3999b" stroke-width="1.2" stroke-opacity="0.9" stroke-linecap="round" /><path d="M449.92,657.22 C451.48,661.61 456.19,676.47 459.32,683.55 C462.45,690.62 466.48,696.30 468.72,699.66 C470.96,703.02 472.08,703.02 472.75,703.69" fill="none" stroke="#d8353a" stroke-width="1.3" stroke-opacity="0.8" stroke-linecap="round" /><path d="M441.86,657.22 C444.10,661.16 450.81,673.79 455.29,680.86 C459.77,687.93 465.81,695.63 468.72,699.66 C471.63,703.69 472.08,704.14 472.75,705.03" fill="none" stroke="#6f7c3c" stroke-width="1.2" stroke-opacity="0.9" stroke-linecap="round" /><path d="M452.60,657.22 C454.17,662.06 458.87,677.82 462.01,686.23 C465.14,694.65 469.84,704.14 471.41,707.72" fill="none" stroke="#3fae3f" stroke-width="1.2" stroke-opacity="0.9" stroke-linecap="round" /><path d="M447.23,657.22 C449.02,664.30 454.83,687.20 457.98,699.66 C461.12,712.13 464.52,725.30 466.09,732.00 C467.66,738.71 466.32,735.52 467.40,739.90 C468.49,744.28 470.62,751.95 472.59,758.30 C474.55,764.65 476.99,771.45 479.20,778.01 C481.40,784.58 484.70,794.42 485.80,797.70" fill="none" stroke="#977a58" stroke-width="1.4" stroke-linecap="round" /><path d="M485.80,797.70 C486.22,798.82 487.50,802.31 488.33,804.42 C489.15,806.52 490.01,809.00 490.75,810.33 C491.48,811.66 492.09,812.39 492.76,812.39 C493.43,812.39 494.04,811.66 494.77,810.33 C495.51,809.00 496.29,806.52 497.19,804.42 C498.10,802.31 498.60,801.67 500.20,797.70 C501.80,793.73 504.61,785.84 506.81,780.59 C509.01,775.34 512.29,768.59 513.39,766.19" fill="none" stroke="#62a448" stroke-width="1.5" stroke-linecap="round" /><path d="M506.81,780.59 C507.90,778.19 511.64,770.34 513.39,766.19 C515.14,762.04 515.77,758.97 517.31,755.69 C518.85,752.41 520.85,748.92 522.60,746.51 C524.35,744.09 526.06,742.72 527.81,741.19 C529.56,739.65 531.24,738.61 533.10,737.29 C534.97,735.98 536.76,735.98 539.01,733.29 C541.26,730.60 544.00,726.31 546.61,721.15 C549.22,715.99 552.43,708.17 554.67,702.35 C556.91,696.53 558.25,693.75 560.04,686.23 C561.83,678.71 564.52,662.06 565.42,657.22" fill="none" stroke="#d8353a" stroke-width="1.8" stroke-linecap="round" /><path d="M436.49,657.22 C437.83,664.30 442.03,685.01 444.55,699.66 C447.07,714.31 449.55,734.25 451.61,745.11 C453.67,755.97 454.70,758.22 456.90,764.80 C459.10,771.38 462.18,778.46 464.80,784.59 C467.41,790.73 469.75,796.34 472.59,801.60 C475.42,806.85 479.31,812.72 481.80,816.10 C484.29,819.48 485.70,820.60 487.52,821.88 C489.35,823.15 491.01,823.76 492.76,823.76 C494.51,823.76 496.31,822.94 498.00,821.88 C499.69,820.81 500.98,820.54 502.89,817.39 C504.79,814.24 507.44,808.00 509.41,802.97 C511.38,797.93 513.17,792.46 514.70,787.20 C516.24,781.94 517.28,778.42 518.60,771.41 C519.92,764.39 521.72,751.68 522.60,745.11 C523.48,738.54 523.38,735.32 523.89,732.00 C524.40,728.68 525.01,727.21 525.66,725.18 C526.32,723.15 527.10,721.28 527.81,719.81 C528.53,718.33 528.84,717.17 529.96,716.32 C531.08,715.46 533.77,714.97 534.53,714.70" fill="none" stroke="#5389bd" stroke-width="1.2" stroke-linecap="round" /><path d="M434.88,657.22 C436.22,664.30 440.38,684.98 442.93,699.66 C445.49,714.35 448.08,734.40 450.19,745.32 C452.29,756.25 453.37,758.58 455.56,765.20 C457.75,771.83 460.75,778.90 463.35,785.08 C465.94,791.25 468.27,796.94 471.14,802.27 C474.00,807.59 477.94,813.59 480.54,817.04 C483.14,820.49 484.68,821.61 486.72,822.95 C488.75,824.29 490.75,825.10 492.76,825.10 C494.77,825.10 496.95,824.07 498.80,822.95 C500.66,821.83 501.98,821.61 503.91,818.38 C505.83,815.16 508.38,808.71 510.35,803.61 C512.32,798.51 514.17,793.05 515.73,787.76 C517.28,782.48 518.42,778.09 519.67,771.92 C520.93,765.74 522.65,754.23 523.25,750.70" fill="none" stroke="#5389bd" stroke-width="1.1" stroke-opacity="0.9" stroke-linecap="round" /><path d="M529.69,715.78 C531.62,715.11 537.08,713.54 541.24,711.75 C545.41,709.96 550.20,708.39 554.67,705.03 C559.15,701.68 563.63,696.53 568.10,691.60 C572.58,686.68 577.15,679.29 581.53,675.49 C585.92,671.68 592.28,669.89 594.43,668.77" fill="none" stroke="#5389bd" stroke-width="2.6" stroke-linecap="round" /><path d="M529.69,751.23 C532.07,750.25 538.87,748.55 543.93,745.32 C548.99,742.10 554.67,738.16 560.04,731.89 C565.42,725.63 571.24,716.23 576.16,707.72 C581.08,699.21 586.55,687.13 589.59,680.86 C592.63,674.59 593.62,671.91 594.43,670.12" fill="none" stroke="#5389bd" stroke-width="1.1" stroke-linecap="round" /><path d="M417.69,668.77 C419.92,669.89 426.64,672.13 431.12,675.49 C435.59,678.85 440.52,683.77 444.55,688.92 C448.58,694.07 452.25,702.57 455.29,706.38 C458.33,710.18 460.57,711.30 462.81,711.75 C465.05,712.20 467.06,709.96 468.72,709.06 C470.38,708.17 472.08,706.82 472.75,706.38" fill="none" stroke="#5389bd" stroke-width="2.6" stroke-linecap="round" /><path d="M472.75,705.03 C474.32,706.38 478.84,711.08 482.15,713.09 C485.46,715.11 489.04,717.12 492.63,717.12 C496.21,717.12 500.46,714.44 503.64,713.09 C506.82,711.75 508.56,710.41 511.70,709.06 C514.83,707.72 519.44,706.06 522.44,705.03 C525.44,704.00 526.56,704.23 529.69,702.89 C532.83,701.54 537.97,700.65 541.24,696.98 C544.51,693.31 547.06,687.49 549.30,680.86 C551.54,674.23 553.78,661.16 554.67,657.22" fill="none" stroke="#d8353a" stroke-width="2.0" stroke-linecap="round" /><path d="M472.75,705.57 C474.32,707.00 478.84,712.11 482.15,714.17 C485.46,716.23 489.04,717.93 492.63,717.93 C496.21,717.93 500.68,715.33 503.64,714.17 C506.59,713.00 509.23,711.48 510.35,710.94" fill="none" stroke="#8d4c3e" stroke-width="1.3" stroke-opacity="0.9" stroke-linecap="round" /><path d="M529.69,702.89 C531.62,701.90 537.97,700.65 541.24,696.98 C544.51,693.31 546.84,687.49 549.30,680.86 C551.76,674.23 554.90,661.16 556.02,657.22" fill="none" stroke="#6f7c3c" stroke-width="1.2" stroke-opacity="0.9" stroke-linecap="round" /><path d="M472.75,707.72 C474.32,710.85 478.84,722.05 482.15,726.52 C485.46,731.00 489.04,733.68 492.63,734.58 C496.21,735.48 500.46,733.46 503.64,731.89 C506.82,730.33 509.01,726.07 511.70,725.18 C514.38,724.28 516.75,725.40 519.75,726.52 C522.75,727.64 526.56,731.67 529.69,731.89 C532.83,732.12 535.29,730.55 538.56,727.87 C541.82,725.18 545.72,720.93 549.30,715.78 C552.88,710.63 556.46,703.69 560.04,696.98 C563.63,690.26 567.88,682.11 570.79,675.49 C573.70,668.86 576.38,660.27 577.50,657.22" fill="none" stroke="#3fae3f" stroke-width="2.2" stroke-linecap="round" /><path d="M482.15,731.89 C483.90,732.48 489.04,734.94 492.63,735.39 C496.21,735.83 500.46,734.71 503.64,734.58 C506.82,734.45 509.01,733.77 511.70,734.58 C514.38,735.39 516.75,737.98 519.75,739.41 C522.75,740.85 526.56,742.86 529.69,743.18 C532.83,743.49 535.29,741.92 538.56,741.30 C541.82,740.67 545.72,740.53 549.30,739.41 C552.88,738.30 558.25,735.39 560.04,734.58" fill="none" stroke="#3fae3f" stroke-width="2.0" stroke-linecap="round" /></g><g clip-path="url(#clipdos18)"><line x1="318.20" y1="465.20" x2="318.20" y2="642.30" stroke="#d84a4e" stroke-width="0.9"/><line x1="316.50" y1="465.20" x2="316.50" y2="642.30" stroke="#1a1a1a" stroke-width="1.2"/><line x1="317.40" y1="465.20" x2="317.40" y2="642.30" stroke="#3a8a3a" stroke-width="0.7" stroke-opacity="0.7"/><polyline points="311.50,465.17 310.44,478.92 305.16,479.98 304.10,489.50 299.87,492.67 298.81,502.19 292.46,507.48 286.12,512.35" fill="none" stroke="#dd4a4e" stroke-width="0.95" stroke-linejoin="round" stroke-linecap="round" /><polyline points="286.12,528.64 294.58,529.70 299.87,530.75 303.04,533.93 305.16,540.27 300.92,542.39 298.81,550.85 293.52,552.97 292.46,559.31 286.12,561.01" fill="none" stroke="#dd4a4e" stroke-width="0.95" stroke-linejoin="round" stroke-linecap="round" /><polyline points="286.12,563.54 296.69,565.66 299.87,570.95 311.50,572.01 311.50,624.89 313.62,625.95 313.62,641.82" fill="none" stroke="#dd4a4e" stroke-width="0.95" stroke-linejoin="round" stroke-linecap="round" /><polyline points="314.67,465.17 312.56,478.92 311.50,491.62 309.39,495.85 308.33,506.43 305.16,514.89 300.92,517.00 299.87,523.35 295.64,525.47 286.12,534.98" fill="none" stroke="#4a90c8" stroke-width="0.95" stroke-linejoin="round" stroke-linecap="round" /><polyline points="286.12,544.50 293.52,546.62 300.92,548.74 309.39,550.85 306.21,555.08 298.81,559.31 286.12,564.60 296.69,565.66 313.62,565.66 315.73,567.78 318.91,576.24 320.39,584.70 321.66,610.09 322.08,637.59 318.91,637.59 317.85,641.82" fill="none" stroke="#4a90c8" stroke-width="0.95" stroke-linejoin="round" stroke-linecap="round" /><polyline points="317.43,465.17 317.85,531.81 318.91,533.93 323.14,538.16 318.91,540.27 318.91,578.35 319.96,580.47 318.91,582.58" fill="none" stroke="#4a90c8" stroke-width="0.95" stroke-linejoin="round" stroke-linecap="round" /><polyline points="316.79,465.17 315.73,512.77 313.62,518.06 294.58,520.18 303.04,521.23 307.27,529.70 307.69,536.04 305.16,540.27 286.12,541.33 315.73,542.39 316.79,552.97 316.79,641.82" fill="none" stroke="#4cb84c" stroke-width="0.95" stroke-linejoin="round" stroke-linecap="round" /></g><g clip-path="url(#clipdos19)"><line x1="317.60" y1="656.60" x2="317.60" y2="833.30" stroke="#d84a4e" stroke-width="0.9"/><line x1="315.90" y1="656.60" x2="315.90" y2="833.30" stroke="#1a1a1a" stroke-width="1.2"/><line x1="316.80" y1="656.60" x2="316.80" y2="833.30" stroke="#3a8a3a" stroke-width="0.7" stroke-opacity="0.7"/><polyline points="310.44,656.54 309.39,665.64 305.16,667.75 303.04,677.27 299.87,681.50 297.75,689.96 293.52,693.14 286.12,698.43" fill="none" stroke="#dd4a4e" stroke-width="0.95" stroke-linejoin="round" stroke-linecap="round" /><polyline points="286.12,716.41 296.69,717.04 298.81,721.70 299.87,726.98 296.69,734.39 296.69,740.74 294.58,742.85 292.46,747.08 291.40,750.26 286.12,751.74" fill="none" stroke="#dd4a4e" stroke-width="0.95" stroke-linejoin="round" stroke-linecap="round" /><polyline points="286.12,760.83 307.27,761.89 309.39,766.12 310.44,811.61 312.56,812.66 313.62,833.82" fill="none" stroke="#dd4a4e" stroke-width="0.95" stroke-linejoin="round" stroke-linecap="round" /><polyline points="313.62,656.54 311.50,668.81 310.44,681.50 307.27,687.85 305.16,696.31 301.98,702.66 300.92,709.00 297.75,711.12 293.52,717.47 287.17,722.75 292.46,726.98 287.17,730.16 294.58,733.33 299.87,735.45 298.81,738.62 293.52,740.74 299.87,742.85 303.04,747.08 300.92,751.31 296.69,753.43 304.10,755.54 288.23,759.78 305.16,760.83 315.73,761.89 317.85,768.24 318.91,772.47 319.96,823.24 322.08,823.24 321.02,833.82" fill="none" stroke="#4a90c8" stroke-width="0.95" stroke-linejoin="round" stroke-linecap="round" /><polyline points="317.85,656.54 318.27,713.23 319.96,715.35 318.91,717.47 318.91,749.20 322.08,752.37 318.91,753.43 319.54,768.24 321.02,770.35 318.91,772.47" fill="none" stroke="#4a90c8" stroke-width="0.95" stroke-linejoin="round" stroke-linecap="round" /><polyline points="315.73,656.54 314.67,675.16 313.62,681.50 311.50,709.00 309.39,717.47 307.27,721.70 303.04,726.98 299.87,729.10 303.04,730.16 309.39,734.39 311.50,742.85 314.67,751.31 315.73,759.78 316.16,833.82" fill="none" stroke="#4cb84c" stroke-width="0.95" stroke-linejoin="round" stroke-linecap="round" /></g><g clip-path="url(#clipdos20)"><line x1="645.20" y1="464.80" x2="645.20" y2="642.20" stroke="#d84a4e" stroke-width="0.9"/><line x1="643.50" y1="464.80" x2="643.50" y2="642.20" stroke="#1a1a1a" stroke-width="1.2"/><line x1="644.40" y1="464.80" x2="644.40" y2="642.20" stroke="#3a8a3a" stroke-width="0.7" stroke-opacity="0.7"/><polyline points="637.44,464.54 635.33,478.92 632.16,491.62 627.92,504.31 621.58,511.71 614.17,514.89 617.35,517.43 623.69,519.12 626.87,523.35 627.92,525.47 631.10,527.58 634.27,529.70 636.39,531.81 634.27,536.04 637.44,540.27 634.27,544.50 636.39,548.74 632.16,550.85 635.33,555.08 637.44,559.31 634.27,563.54 637.44,565.66 639.56,569.89 641.67,576.24 643.79,588.93 644.85,610.09 645.91,641.82" fill="none" stroke="#dd4a4e" stroke-width="0.95" stroke-linejoin="round" stroke-linecap="round" /><polyline points="645.91,465.17 645.91,580.47 647.39,582.58 645.91,584.70 645.27,641.82" fill="none" stroke="#dd4a4e" stroke-width="0.95" stroke-linejoin="round" stroke-linecap="round" /><polyline points="632.16,480.62 642.73,479.98 634.27,481.04 635.33,504.31 634.27,517.00 630.04,519.12 626.87,523.35 632.16,525.47 635.33,531.81 638.50,538.16 635.33,542.39 638.50,559.31 640.62,574.12 641.67,588.93 640.62,641.82" fill="none" stroke="#4a90c8" stroke-width="0.95" stroke-linejoin="round" stroke-linecap="round" /><polyline points="644.43,465.17 644.85,533.93 653.31,538.16 648.02,541.33 648.02,548.74 651.19,555.08 648.02,559.31 648.02,588.93 650.14,637.59 645.91,637.59" fill="none" stroke="#4a90c8" stroke-width="0.95" stroke-linejoin="round" stroke-linecap="round" /><polyline points="640.62,464.54 638.50,493.73 636.39,512.77 632.16,515.95 634.27,518.06 634.27,525.47 632.16,531.81 632.16,538.16 627.92,541.33 614.17,542.81 623.69,544.50 627.92,546.62 632.16,548.74 642.73,550.85 642.73,588.93 642.73,641.82" fill="none" stroke="#4cb84c" stroke-width="0.95" stroke-linejoin="round" stroke-linecap="round" /><polyline points="644.85,542.39 655.43,547.68 648.02,550.85 649.08,555.08 653.31,558.26 646.96,561.43 644.85,567.78" fill="none" stroke="#4cb84c" stroke-width="0.95" stroke-linejoin="round" stroke-linecap="round" /></g><g clip-path="url(#clipdos21)"><line x1="646.80" y1="657.30" x2="646.80" y2="834.00" stroke="#d84a4e" stroke-width="0.9"/><line x1="645.10" y1="657.30" x2="645.10" y2="834.00" stroke="#1a1a1a" stroke-width="1.2"/><line x1="646.00" y1="657.30" x2="646.00" y2="834.00" stroke="#3a8a3a" stroke-width="0.7" stroke-opacity="0.7"/><polyline points="638.39,656.54 636.27,675.16 633.10,687.85 627.81,698.43 616.17,703.08 621.46,704.77 625.69,706.89 624.64,711.12 628.87,711.12 629.92,717.47 636.27,717.47 633.10,721.70 637.33,725.93 638.39,734.39 635.21,738.62 639.44,744.97 640.50,753.43 639.44,757.66 642.62,761.89 643.67,768.24 644.73,780.93 645.79,802.09 646.85,833.82" fill="none" stroke="#dd4a4e" stroke-width="0.95" stroke-linejoin="round" stroke-linecap="round" /><polyline points="634.16,667.75 644.73,667.12 636.27,668.81 636.27,696.31 634.16,704.77 630.98,709.00 634.16,713.23 636.27,717.47 638.39,723.81 637.33,730.16 639.44,738.62 639.44,747.08 640.50,755.54 638.39,761.89 642.62,764.01 643.67,780.93 642.62,833.82" fill="none" stroke="#4a90c8" stroke-width="0.95" stroke-linejoin="round" stroke-linecap="round" /><polyline points="646.85,657.17 647.91,662.46 648.54,715.35 650.02,717.47 648.96,719.58 648.96,744.97 652.14,752.37 648.96,755.54 650.02,780.93 652.14,823.24 647.91,823.24" fill="none" stroke="#4a90c8" stroke-width="0.95" stroke-linejoin="round" stroke-linecap="round" /><polyline points="641.56,656.54 640.50,666.69 639.44,675.16 637.33,702.66 633.10,703.71 636.27,706.89 634.16,717.47 633.10,725.93 628.87,730.16 619.35,733.97 627.81,735.45 634.16,738.62 640.50,740.74 642.62,744.97 643.67,764.01 644.73,780.93 645.16,833.82" fill="none" stroke="#4cb84c" stroke-width="0.95" stroke-linejoin="round" stroke-linecap="round" /><polyline points="646.85,667.75 647.91,668.81 652.14,669.87 647.91,671.98 647.48,675.16" fill="none" stroke="#4cb84c" stroke-width="0.95" stroke-linejoin="round" stroke-linecap="round" /><polyline points="646.85,776.70 647.91,778.81 659.54,779.45 648.96,780.93 647.48,783.05" fill="none" stroke="#4cb84c" stroke-width="0.95" stroke-linejoin="round" stroke-linecap="round" /><polyline points="648.54,768.24 650.02,769.30 648.54,770.78" fill="none" stroke="#dd4a4e" stroke-width="0.95" stroke-linejoin="round" stroke-linecap="round" /></g><rect x="88.60" y="465.20" width="177.20" height="177.10" fill="none" stroke="#555" stroke-width="1" /><rect x="287.00" y="465.20" width="59.20" height="177.10" fill="none" stroke="#555" stroke-width="1" /><rect x="88.30" y="656.60" width="177.30" height="176.70" fill="none" stroke="#555" stroke-width="1" /><rect x="286.60" y="656.60" width="59.30" height="176.70" fill="none" stroke="#555" stroke-width="1" /><rect x="415.60" y="464.80" width="177.10" height="177.40" fill="none" stroke="#555" stroke-width="1" /><rect x="614.50" y="464.80" width="59.00" height="177.40" fill="none" stroke="#555" stroke-width="1" /><rect x="417.50" y="657.30" width="177.00" height="176.70" fill="none" stroke="#555" stroke-width="1" /><rect x="616.00" y="657.30" width="59.30" height="176.70" fill="none" stroke="#555" stroke-width="1" /><rect x="519.1" y="589.7" width="71.8" height="45.5" rx="3.5" fill="#fff" fill-opacity="0.93" stroke="#d8d8d8" stroke-width="0.8"/><circle cx="526.3" cy="597.3" r="3.6" fill="#7fb2dc"/><circle cx="526.3" cy="611.9" r="3.6" fill="#e48890"/><circle cx="526.3" cy="625.6" r="3.6" fill="#84d084"/><text x="538.5" y="600.6" font-size="9.8" font-style="italic" fill="#222">d<tspan font-size="7.2" dy="2">yz</tspan><tspan dy="-2" font-style="normal">, </tspan>d<tspan font-size="7.2" dy="2">xz</tspan></text><text x="538.5" y="615.2" font-size="9.8" font-style="italic" fill="#222">d<tspan font-size="7.2" dy="2">xy</tspan><tspan dy="-2" font-style="normal">, </tspan>d<tspan font-size="7.2" dy="2">x</tspan><tspan font-size="5" dy="-3">2</tspan><tspan font-size="7.2" dy="3" font-style="normal"> − </tspan><tspan font-size="7.2">y</tspan><tspan font-size="5" dy="-3">2</tspan></text><text x="538.5" y="628.9" font-size="9.8" font-style="italic" fill="#222">d<tspan font-size="7.2" dy="2">z</tspan><tspan font-size="5" dy="-3">2</tspan></text><line x1="599.20" y1="704.00" x2="599.20" y2="771.00" stroke="#f0a030" stroke-width="1.5"/><path d="M596.3,705 L599.2,699.3 L602.1,705 Z" fill="#f0a030"/><path d="M596.3,770 L599.2,775.6 L602.1,770 Z" fill="#f0a030"/><line x1="668.00" y1="779.00" x2="682.00" y2="779.00" stroke="#e82020" stroke-width="1.6"/><path d="M669,775.8 L663,779 L669,782.2 Z" fill="#e82020"/><line x1="88.30" y1="833.30" x2="88.30" y2="836.80" stroke="#333" stroke-width="0.8"/><text x="88.3" y="847" font-size="11" font-weight="normal" text-anchor="middle" fill="#111" >Γ</text><line x1="163.20" y1="833.30" x2="163.20" y2="836.80" stroke="#333" stroke-width="0.8"/><text x="163.2" y="847" font-size="11" font-weight="normal" text-anchor="middle" fill="#111" >K</text><line x1="200.30" y1="833.30" x2="200.30" y2="836.80" stroke="#333" stroke-width="0.8"/><text x="200.3" y="847" font-size="11" font-weight="normal" text-anchor="middle" fill="#111" >M</text><line x1="265.60" y1="833.30" x2="265.60" y2="836.80" stroke="#333" stroke-width="0.8"/><text x="265.6" y="847" font-size="11" font-weight="normal" text-anchor="middle" fill="#111" >Γ</text><line x1="417.50" y1="834.00" x2="417.50" y2="837.50" stroke="#333" stroke-width="0.8"/><text x="417.5" y="847" font-size="11" font-weight="normal" text-anchor="middle" fill="#111" >Γ</text><line x1="492.60" y1="834.00" x2="492.60" y2="837.50" stroke="#333" stroke-width="0.8"/><text x="492.6" y="847" font-size="11" font-weight="normal" text-anchor="middle" fill="#111" >K</text><line x1="529.80" y1="834.00" x2="529.80" y2="837.50" stroke="#333" stroke-width="0.8"/><text x="529.8" y="847" font-size="11" font-weight="normal" text-anchor="middle" fill="#111" >M</text><line x1="594.50" y1="834.00" x2="594.50" y2="837.50" stroke="#333" stroke-width="0.8"/><text x="594.5" y="847" font-size="11" font-weight="normal" text-anchor="middle" fill="#111" >Γ</text><line x1="286.60" y1="833.30" x2="286.60" y2="836.80" stroke="#333" stroke-width="0.8"/><text x="286.6" y="847" font-size="11" font-weight="normal" text-anchor="middle" fill="#1a1a1a" >−1.5</text><line x1="316.30" y1="833.30" x2="316.30" y2="836.80" stroke="#333" stroke-width="0.8"/><text x="316.3" y="847" font-size="11" font-weight="normal" text-anchor="middle" fill="#1a1a1a" >0.0</text><line x1="345.90" y1="833.30" x2="345.90" y2="836.80" stroke="#333" stroke-width="0.8"/><text x="345.9" y="847" font-size="11" font-weight="normal" text-anchor="middle" fill="#1a1a1a" >1.5</text><text x="277.3" y="862.6" font-size="10.8" fill="#1a1a1a" textLength="78" lengthAdjust="spacingAndGlyphs">DOS (eV<tspan font-size="8" dy="-4.5">−1</tspan><tspan dy="4.5">/Fe)</tspan></text><line x1="616.00" y1="834.00" x2="616.00" y2="837.50" stroke="#333" stroke-width="0.8"/><text x="616" y="847" font-size="11" font-weight="normal" text-anchor="middle" fill="#1a1a1a" >−1.5</text><line x1="645.90" y1="834.00" x2="645.90" y2="837.50" stroke="#333" stroke-width="0.8"/><text x="645.9" y="847" font-size="11" font-weight="normal" text-anchor="middle" fill="#1a1a1a" >0.0</text><line x1="675.30" y1="834.00" x2="675.30" y2="837.50" stroke="#333" stroke-width="0.8"/><text x="675.3" y="847" font-size="11" font-weight="normal" text-anchor="middle" fill="#1a1a1a" >1.5</text><text x="606.7" y="862.6" font-size="10.8" fill="#1a1a1a" textLength="78" lengthAdjust="spacingAndGlyphs">DOS (eV<tspan font-size="8" dy="-4.5">−1</tspan><tspan dy="4.5">/Fe)</tspan></text></svg></body></html>
